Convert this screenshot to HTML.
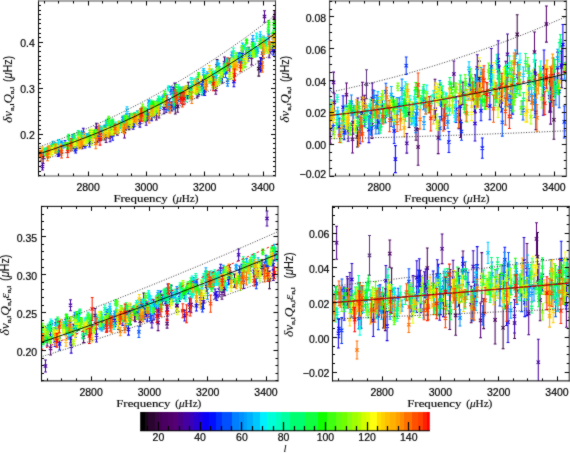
<!DOCTYPE html><html><head><meta charset="utf-8"><style>html,body{margin:0;padding:0;background:#fff;}#r{display:block;}#w{width:570px;height:453px;overflow:hidden;}.e{fill:none;stroke-width:1.05;}.dot{fill:none;stroke:#222;stroke-width:0.9;stroke-dasharray:1 1.6;}.t{font-family:"Liberation Sans",sans-serif;font-size:10.5px;fill:#000;stroke:#000;stroke-width:0.2px;}.s{font-family:"Liberation Serif",serif;fill:#000;}.yt{font-size:12px;stroke:#000;stroke-width:0.05px;}.fq{font-size:11.2px;stroke:#000;stroke-width:0.15px;}</style></head><body>
<div id="w">
<svg id="r" width="570" height="453" viewBox="0 0 570 453">
<defs><filter id="bl" color-interpolation-filters="sRGB" x="0" y="0" width="570" height="453" filterUnits="userSpaceOnUse"><feConvolveMatrix order="3" kernelMatrix="1 2 1 2 20 2 1 2 1" divisor="32" edgeMode="duplicate"/></filter></defs>
<g filter="url(#bl)">
<rect width="570" height="453" fill="#fff"/>
<svg x="38.5" y="1.0" width="237.0" height="175.0" viewBox="38.5 1.0 237.0 175.0" overflow="hidden">
<path class="e" stroke="#2a0530" d="M258.8 61.1V76.1M257.4 61.1h2.8M257.4 76.1h2.8M257.1 66.9l3.4 3.4M257.1 70.3l3.4 -3.4M241.5 53.1V67.7M240.1 53.1h2.8M240.1 67.7h2.8M239.8 58.7l3.4 3.4M239.8 62.1l3.4 -3.4M275.4 46.9V56.6M274.0 46.9h2.8M274.0 56.6h2.8M273.7 50.0l3.4 3.4M273.7 53.4l3.4 -3.4M248.5 47.3V57.9M247.1 47.3h2.8M247.1 57.9h2.8M246.8 50.9l3.4 3.4M246.8 54.3l3.4 -3.4M198.8 83.9V94.5M197.4 83.9h2.8M197.4 94.5h2.8M197.1 87.5l3.4 3.4M197.1 90.9l3.4 -3.4M129.0 121.5V129.7M127.6 121.5h2.8M127.6 129.7h2.8M127.3 123.9l3.4 3.4M127.3 127.3l3.4 -3.4"/>
<path class="e" stroke="#3a0545" d="M229.8 58.8V72.7M228.4 58.8h2.8M228.4 72.7h2.8M228.1 64.0l3.4 3.4M228.1 67.4l3.4 -3.4M188.3 82.2V94.2M186.9 82.2h2.8M186.9 94.2h2.8M186.6 86.5l3.4 3.4M186.6 89.9l3.4 -3.4M217.1 59.4V72.1M215.7 59.4h2.8M215.7 72.1h2.8M215.4 64.1l3.4 3.4M215.4 67.5l3.4 -3.4M154.0 104.6V116.9M152.6 104.6h2.8M152.6 116.9h2.8M152.3 109.0l3.4 3.4M152.3 112.4l3.4 -3.4"/>
<path class="e" stroke="#440055" d="M222.4 68.7V83.0M221.0 68.7h2.8M221.0 83.0h2.8M220.7 74.2l3.4 3.4M220.7 77.6l3.4 -3.4M274.3 10.4V25.4M272.9 10.4h2.8M272.9 25.4h2.8M272.6 16.2l3.4 3.4M272.6 19.6l3.4 -3.4M43.1 151.2V163.4M41.7 151.2h2.8M41.7 163.4h2.8M41.4 155.6l3.4 3.4M41.4 159.0l3.4 -3.4M190.0 87.6V98.0M188.6 87.6h2.8M188.6 98.0h2.8M188.3 91.1l3.4 3.4M188.3 94.5l3.4 -3.4M175.3 99.5V113.9M173.9 99.5h2.8M173.9 113.9h2.8M173.6 105.0l3.4 3.4M173.6 108.4l3.4 -3.4"/>
<path class="e" stroke="#4a0060" d="M262.5 47.8V58.7M261.1 47.8h2.8M261.1 58.7h2.8M260.8 51.5l3.4 3.4M260.8 54.9l3.4 -3.4M147.8 112.0V119.8M146.4 112.0h2.8M146.4 119.8h2.8M146.1 114.2l3.4 3.4M146.1 117.6l3.4 -3.4M274.4 37.7V51.0M273.0 37.7h2.8M273.0 51.0h2.8M272.7 42.7l3.4 3.4M272.7 46.1l3.4 -3.4M177.7 100.6V112.2M176.3 100.6h2.8M176.3 112.2h2.8M176.0 104.7l3.4 3.4M176.0 108.1l3.4 -3.4M272.3 41.6V51.2M270.9 41.6h2.8M270.9 51.2h2.8M270.6 44.7l3.4 3.4M270.6 48.1l3.4 -3.4M131.8 114.4V121.9M130.4 114.4h2.8M130.4 121.9h2.8M130.1 116.5l3.4 3.4M130.1 119.9l3.4 -3.4M100.4 131.6V139.7M99.0 131.6h2.8M99.0 139.7h2.8M98.7 134.0l3.4 3.4M98.7 137.4l3.4 -3.4M171.9 101.8V110.9M170.5 101.8h2.8M170.5 110.9h2.8M170.2 104.7l3.4 3.4M170.2 108.1l3.4 -3.4"/>
<path class="e" stroke="#50006a" d="M112.5 120.9V134.4M111.1 120.9h2.8M111.1 134.4h2.8M110.8 125.9l3.4 3.4M110.8 129.3l3.4 -3.4M106.1 130.5V142.5M104.7 130.5h2.8M104.7 142.5h2.8M104.4 134.8l3.4 3.4M104.4 138.2l3.4 -3.4M134.1 113.4V121.8M132.7 113.4h2.8M132.7 121.8h2.8M132.4 115.9l3.4 3.4M132.4 119.3l3.4 -3.4M251.6 49.4V65.0M250.2 49.4h2.8M250.2 65.0h2.8M249.9 55.5l3.4 3.4M249.9 58.9l3.4 -3.4M224.5 56.9V68.6M223.1 56.9h2.8M223.1 68.6h2.8M222.8 61.0l3.4 3.4M222.8 64.4l3.4 -3.4M106.9 128.1V136.1M105.5 128.1h2.8M105.5 136.1h2.8M105.2 130.4l3.4 3.4M105.2 133.8l3.4 -3.4M197.1 88.4V97.9M195.7 88.4h2.8M195.7 97.9h2.8M195.4 91.5l3.4 3.4M195.4 94.9l3.4 -3.4M158.9 105.5V118.0M157.5 105.5h2.8M157.5 118.0h2.8M157.2 110.1l3.4 3.4M157.2 113.5l3.4 -3.4"/>
<path class="e" stroke="#550075" d="M82.0 137.0V148.6M80.6 137.0h2.8M80.6 148.6h2.8M80.3 141.1l3.4 3.4M80.3 144.5l3.4 -3.4M215.8 84.7V94.3M214.4 84.7h2.8M214.4 94.3h2.8M214.1 87.8l3.4 3.4M214.1 91.2l3.4 -3.4M156.4 108.3V120.0M155.0 108.3h2.8M155.0 120.0h2.8M154.7 112.4l3.4 3.4M154.7 115.8l3.4 -3.4M84.0 137.7V146.5M82.6 137.7h2.8M82.6 146.5h2.8M82.3 140.4l3.4 3.4M82.3 143.8l3.4 -3.4M197.6 79.5V89.4M196.2 79.5h2.8M196.2 89.4h2.8M195.9 82.8l3.4 3.4M195.9 86.2l3.4 -3.4M124.5 125.1V137.9M123.1 125.1h2.8M123.1 137.9h2.8M122.8 129.8l3.4 3.4M122.8 133.2l3.4 -3.4"/>
<path class="e" stroke="#4a0085" d="M261.8 57.9V70.7M260.4 57.9h2.8M260.4 70.7h2.8M260.1 62.6l3.4 3.4M260.1 66.0l3.4 -3.4M97.5 132.0V142.1M96.1 132.0h2.8M96.1 142.1h2.8M95.8 135.4l3.4 3.4M95.8 138.8l3.4 -3.4M195.4 83.8V93.0M194.0 83.8h2.8M194.0 93.0h2.8M193.7 86.7l3.4 3.4M193.7 90.1l3.4 -3.4M129.9 113.5V123.7M128.5 113.5h2.8M128.5 123.7h2.8M128.2 116.9l3.4 3.4M128.2 120.3l3.4 -3.4M96.4 123.3V132.6M95.0 123.3h2.8M95.0 132.6h2.8M94.7 126.3l3.4 3.4M94.7 129.7l3.4 -3.4"/>
<path class="e" stroke="#4400a0" d="M269.2 44.5V57.8M267.8 44.5h2.8M267.8 57.8h2.8M267.5 49.4l3.4 3.4M267.5 52.8l3.4 -3.4M204.8 85.1V95.4M203.4 85.1h2.8M203.4 95.4h2.8M203.1 88.5l3.4 3.4M203.1 91.9l3.4 -3.4M109.5 125.7V138.4M108.1 125.7h2.8M108.1 138.4h2.8M107.8 130.3l3.4 3.4M107.8 133.7l3.4 -3.4M198.0 81.7V96.1M196.6 81.7h2.8M196.6 96.1h2.8M196.3 87.2l3.4 3.4M196.3 90.6l3.4 -3.4M117.5 126.5V135.3M116.1 126.5h2.8M116.1 135.3h2.8M115.8 129.2l3.4 3.4M115.8 132.6l3.4 -3.4M164.0 102.8V113.8M162.6 102.8h2.8M162.6 113.8h2.8M162.3 106.6l3.4 3.4M162.3 110.0l3.4 -3.4"/>
<path class="e" stroke="#3a00b8" d="M203.5 75.0V86.4M202.1 75.0h2.8M202.1 86.4h2.8M201.8 79.0l3.4 3.4M201.8 82.4l3.4 -3.4M146.2 113.5V125.3M144.8 113.5h2.8M144.8 125.3h2.8M144.5 117.7l3.4 3.4M144.5 121.1l3.4 -3.4M99.3 126.0V139.2M97.9 126.0h2.8M97.9 139.2h2.8M97.6 130.9l3.4 3.4M97.6 134.3l3.4 -3.4M174.8 83.1V93.8M173.4 83.1h2.8M173.4 93.8h2.8M173.1 86.8l3.4 3.4M173.1 90.2l3.4 -3.4"/>
<path class="e" stroke="#2800d0" d="M72.6 140.2V148.6M71.2 140.2h2.8M71.2 148.6h2.8M70.9 142.7l3.4 3.4M70.9 146.1l3.4 -3.4M270.1 41.9V53.2M268.7 41.9h2.8M268.7 53.2h2.8M268.4 45.9l3.4 3.4M268.4 49.3l3.4 -3.4M83.3 128.2V138.7M81.9 128.2h2.8M81.9 138.7h2.8M81.6 131.7l3.4 3.4M81.6 135.1l3.4 -3.4M125.5 121.4V129.2M124.1 121.4h2.8M124.1 129.2h2.8M123.8 123.6l3.4 3.4M123.8 127.0l3.4 -3.4M133.2 121.5V129.3M131.8 121.5h2.8M131.8 129.3h2.8M131.5 123.7l3.4 3.4M131.5 127.1l3.4 -3.4M110.1 131.1V141.8M108.7 131.1h2.8M108.7 141.8h2.8M108.4 134.7l3.4 3.4M108.4 138.1l3.4 -3.4M139.9 117.3V127.1M138.5 117.3h2.8M138.5 127.1h2.8M138.2 120.5l3.4 3.4M138.2 123.9l3.4 -3.4"/>
<path class="e" stroke="#1800e8" d="M58.2 150.3V156.4M56.8 150.3h2.8M56.8 156.4h2.8M56.5 151.6l3.4 3.4M56.5 155.0l3.4 -3.4M59.3 144.3V155.6M57.9 144.3h2.8M57.9 155.6h2.8M57.6 148.2l3.4 3.4M57.6 151.6l3.4 -3.4M151.7 109.7V120.8M150.3 109.7h2.8M150.3 120.8h2.8M150.0 113.5l3.4 3.4M150.0 116.9l3.4 -3.4M106.3 127.0V134.8M104.9 127.0h2.8M104.9 134.8h2.8M104.6 129.2l3.4 3.4M104.6 132.6l3.4 -3.4M187.5 90.7V98.7M186.1 90.7h2.8M186.1 98.7h2.8M185.8 93.0l3.4 3.4M185.8 96.4l3.4 -3.4M166.1 104.2V112.3M164.7 104.2h2.8M164.7 112.3h2.8M164.4 106.5l3.4 3.4M164.4 109.9l3.4 -3.4M137.6 110.9V119.5M136.2 110.9h2.8M136.2 119.5h2.8M135.9 113.5l3.4 3.4M135.9 116.9l3.4 -3.4M187.1 85.9V98.7M185.7 85.9h2.8M185.7 98.7h2.8M185.4 90.6l3.4 3.4M185.4 94.0l3.4 -3.4M89.8 132.8V142.0M88.4 132.8h2.8M88.4 142.0h2.8M88.1 135.7l3.4 3.4M88.1 139.1l3.4 -3.4M173.1 87.3V97.8M171.7 87.3h2.8M171.7 97.8h2.8M171.4 90.8l3.4 3.4M171.4 94.2l3.4 -3.4"/>
<path class="e" stroke="#0a00f5" d="M260.5 57.6V71.9M259.1 57.6h2.8M259.1 71.9h2.8M258.8 63.0l3.4 3.4M258.8 66.4l3.4 -3.4M104.6 132.5V139.9M103.2 132.5h2.8M103.2 139.9h2.8M102.9 134.5l3.4 3.4M102.9 137.9l3.4 -3.4M233.9 76.0V86.7M232.5 76.0h2.8M232.5 86.7h2.8M232.2 79.7l3.4 3.4M232.2 83.1l3.4 -3.4M147.3 108.9V119.6M145.9 108.9h2.8M145.9 119.6h2.8M145.6 112.6l3.4 3.4M145.6 116.0l3.4 -3.4M197.1 83.2V91.6M195.7 83.2h2.8M195.7 91.6h2.8M195.4 85.7l3.4 3.4M195.4 89.1l3.4 -3.4M75.7 145.7V153.0M74.3 145.7h2.8M74.3 153.0h2.8M74.0 147.6l3.4 3.4M74.0 151.0l3.4 -3.4"/>
<path class="e" stroke="#0010ff" d="M169.3 99.8V107.5M167.9 99.8h2.8M167.9 107.5h2.8M167.6 101.9l3.4 3.4M167.6 105.3l3.4 -3.4M248.4 51.9V60.9M247.0 51.9h2.8M247.0 60.9h2.8M246.7 54.7l3.4 3.4M246.7 58.1l3.4 -3.4M89.6 138.1V146.9M88.2 138.1h2.8M88.2 146.9h2.8M87.9 140.8l3.4 3.4M87.9 144.2l3.4 -3.4M112.1 121.3V132.4M110.7 121.3h2.8M110.7 132.4h2.8M110.4 125.1l3.4 3.4M110.4 128.5l3.4 -3.4M56.7 146.9V152.9M55.3 146.9h2.8M55.3 152.9h2.8M55.0 148.2l3.4 3.4M55.0 151.6l3.4 -3.4M100.8 126.7V134.1M99.4 126.7h2.8M99.4 134.1h2.8M99.1 128.7l3.4 3.4M99.1 132.1l3.4 -3.4M242.4 46.4V58.0M241.0 46.4h2.8M241.0 58.0h2.8M240.7 50.5l3.4 3.4M240.7 53.9l3.4 -3.4M79.2 137.4V147.9M77.8 137.4h2.8M77.8 147.9h2.8M77.5 140.9l3.4 3.4M77.5 144.3l3.4 -3.4M107.4 125.5V135.3M106.0 125.5h2.8M106.0 135.3h2.8M105.7 128.7l3.4 3.4M105.7 132.1l3.4 -3.4M214.8 73.5V81.8M213.4 73.5h2.8M213.4 81.8h2.8M213.1 75.9l3.4 3.4M213.1 79.3l3.4 -3.4M273.4 43.0V51.6M272.0 43.0h2.8M272.0 51.6h2.8M271.7 45.6l3.4 3.4M271.7 49.0l3.4 -3.4M226.7 65.1V72.9M225.3 65.1h2.8M225.3 72.9h2.8M225.0 67.3l3.4 3.4M225.0 70.7l3.4 -3.4M85.0 141.8V148.0M83.6 141.8h2.8M83.6 148.0h2.8M83.3 143.2l3.4 3.4M83.3 146.6l3.4 -3.4M226.4 61.2V70.7M225.0 61.2h2.8M225.0 70.7h2.8M224.7 64.2l3.4 3.4M224.7 67.6l3.4 -3.4M203.7 87.9V95.2M202.3 87.9h2.8M202.3 95.2h2.8M202.0 89.8l3.4 3.4M202.0 93.2l3.4 -3.4M273.3 46.0V55.0M271.9 46.0h2.8M271.9 55.0h2.8M271.6 48.8l3.4 3.4M271.6 52.2l3.4 -3.4M112.7 129.6V140.3M111.3 129.6h2.8M111.3 140.3h2.8M111.0 133.2l3.4 3.4M111.0 136.6l3.4 -3.4M202.1 81.1V90.0M200.7 81.1h2.8M200.7 90.0h2.8M200.4 83.9l3.4 3.4M200.4 87.3l3.4 -3.4"/>
<path class="e" stroke="#0030ff" d="M144.1 110.9V121.0M142.7 110.9h2.8M142.7 121.0h2.8M142.4 114.2l3.4 3.4M142.4 117.6l3.4 -3.4M209.9 72.9V81.8M208.5 72.9h2.8M208.5 81.8h2.8M208.2 75.7l3.4 3.4M208.2 79.1l3.4 -3.4M277.5 36.8V45.5M276.1 36.8h2.8M276.1 45.5h2.8M275.8 39.5l3.4 3.4M275.8 42.9l3.4 -3.4M37.3 152.5V161.0M35.9 152.5h2.8M35.9 161.0h2.8M35.6 155.1l3.4 3.4M35.6 158.5l3.4 -3.4M133.5 120.9V127.0M132.1 120.9h2.8M132.1 127.0h2.8M131.8 122.3l3.4 3.4M131.8 125.7l3.4 -3.4M65.0 140.5V146.9M63.6 140.5h2.8M63.6 146.9h2.8M63.3 142.0l3.4 3.4M63.3 145.4l3.4 -3.4M74.9 141.7V151.2M73.5 141.7h2.8M73.5 151.2h2.8M73.2 144.7l3.4 3.4M73.2 148.1l3.4 -3.4M192.0 82.3V91.6M190.6 82.3h2.8M190.6 91.6h2.8M190.3 85.2l3.4 3.4M190.3 88.6l3.4 -3.4M144.3 113.7V120.1M142.9 113.7h2.8M142.9 120.1h2.8M142.6 115.2l3.4 3.4M142.6 118.6l3.4 -3.4M104.6 125.2V132.4M103.2 125.2h2.8M103.2 132.4h2.8M102.9 127.1l3.4 3.4M102.9 130.5l3.4 -3.4"/>
<path class="e" stroke="#0050ff" d="M147.5 112.6V118.6M146.1 112.6h2.8M146.1 118.6h2.8M145.8 113.9l3.4 3.4M145.8 117.3l3.4 -3.4M101.1 133.7V139.9M99.7 133.7h2.8M99.7 139.9h2.8M99.4 135.1l3.4 3.4M99.4 138.5l3.4 -3.4M225.5 67.9V77.4M224.1 67.9h2.8M224.1 77.4h2.8M223.8 70.9l3.4 3.4M223.8 74.3l3.4 -3.4M184.2 92.9V98.7M182.8 92.9h2.8M182.8 98.7h2.8M182.5 94.1l3.4 3.4M182.5 97.5l3.4 -3.4M182.3 95.6V104.0M180.9 95.6h2.8M180.9 104.0h2.8M180.6 98.1l3.4 3.4M180.6 101.5l3.4 -3.4M97.3 131.0V140.3M95.9 131.0h2.8M95.9 140.3h2.8M95.6 133.9l3.4 3.4M95.6 137.3l3.4 -3.4M239.9 52.4V63.0M238.5 52.4h2.8M238.5 63.0h2.8M238.2 56.0l3.4 3.4M238.2 59.4l3.4 -3.4M238.8 53.2V62.3M237.4 53.2h2.8M237.4 62.3h2.8M237.1 56.0l3.4 3.4M237.1 59.4l3.4 -3.4M170.9 86.7V94.8M169.5 86.7h2.8M169.5 94.8h2.8M169.2 89.0l3.4 3.4M169.2 92.4l3.4 -3.4M202.3 81.6V88.8M200.9 81.6h2.8M200.9 88.8h2.8M200.6 83.5l3.4 3.4M200.6 86.9l3.4 -3.4M124.8 117.0V123.4M123.4 117.0h2.8M123.4 123.4h2.8M123.1 118.5l3.4 3.4M123.1 121.9l3.4 -3.4M275.3 32.1V38.6M273.9 32.1h2.8M273.9 38.6h2.8M273.6 33.7l3.4 3.4M273.6 37.1l3.4 -3.4"/>
<path class="e" stroke="#0080ff" d="M126.1 116.8V122.7M124.7 116.8h2.8M124.7 122.7h2.8M124.4 118.0l3.4 3.4M124.4 121.4l3.4 -3.4M227.6 78.6V86.1M226.2 78.6h2.8M226.2 86.1h2.8M225.9 80.6l3.4 3.4M225.9 84.0l3.4 -3.4M178.9 95.5V101.4M177.5 95.5h2.8M177.5 101.4h2.8M177.2 96.7l3.4 3.4M177.2 100.1l3.4 -3.4M225.6 62.1V68.4M224.2 62.1h2.8M224.2 68.4h2.8M223.9 63.6l3.4 3.4M223.9 67.0l3.4 -3.4M157.5 100.8V106.8M156.1 100.8h2.8M156.1 106.8h2.8M155.8 102.1l3.4 3.4M155.8 105.5l3.4 -3.4M123.3 119.8V127.5M121.9 119.8h2.8M121.9 127.5h2.8M121.6 121.9l3.4 3.4M121.6 125.3l3.4 -3.4M257.2 47.5V52.9M255.8 47.5h2.8M255.8 52.9h2.8M255.5 48.5l3.4 3.4M255.5 51.9l3.4 -3.4M168.6 103.6V109.4M167.2 103.6h2.8M167.2 109.4h2.8M166.9 104.8l3.4 3.4M166.9 108.2l3.4 -3.4M144.8 108.3V115.7M143.4 108.3h2.8M143.4 115.7h2.8M143.1 110.3l3.4 3.4M143.1 113.7l3.4 -3.4M61.5 141.1V146.8M60.1 141.1h2.8M60.1 146.8h2.8M59.8 142.2l3.4 3.4M59.8 145.6l3.4 -3.4M130.3 113.8V120.7M128.9 113.8h2.8M128.9 120.7h2.8M128.6 115.5l3.4 3.4M128.6 118.9l3.4 -3.4"/>
<path class="e" stroke="#0090ff" d="M268.7 30.0V40.0M267.3 30.0h2.8M267.3 40.0h2.8M267.0 33.3l3.4 3.4M267.0 36.7l3.4 -3.4M173.8 103.0V109.7M172.4 103.0h2.8M172.4 109.7h2.8M172.1 104.6l3.4 3.4M172.1 108.0l3.4 -3.4M205.7 80.3V88.0M204.3 80.3h2.8M204.3 88.0h2.8M204.0 82.5l3.4 3.4M204.0 85.9l3.4 -3.4M153.0 108.0V117.0M151.6 108.0h2.8M151.6 117.0h2.8M151.3 110.8l3.4 3.4M151.3 114.2l3.4 -3.4M231.8 52.0V60.4M230.4 52.0h2.8M230.4 60.4h2.8M230.1 54.5l3.4 3.4M230.1 57.9l3.4 -3.4M122.8 116.1V121.2M121.4 116.1h2.8M121.4 121.2h2.8M121.1 117.0l3.4 3.4M121.1 120.4l3.4 -3.4M82.5 133.9V141.1M81.1 133.9h2.8M81.1 141.1h2.8M80.8 135.8l3.4 3.4M80.8 139.2l3.4 -3.4M149.1 101.3V106.8M147.7 101.3h2.8M147.7 106.8h2.8M147.4 102.4l3.4 3.4M147.4 105.8l3.4 -3.4M252.8 35.4V45.2M251.4 35.4h2.8M251.4 45.2h2.8M251.1 38.6l3.4 3.4M251.1 42.0l3.4 -3.4M241.9 59.7V65.6M240.5 59.7h2.8M240.5 65.6h2.8M240.2 61.0l3.4 3.4M240.2 64.4l3.4 -3.4M148.9 100.1V108.6M147.5 100.1h2.8M147.5 108.6h2.8M147.2 102.7l3.4 3.4M147.2 106.1l3.4 -3.4M273.2 33.4V42.0M271.8 33.4h2.8M271.8 42.0h2.8M271.5 36.0l3.4 3.4M271.5 39.4l3.4 -3.4M163.1 94.9V101.0M161.7 94.9h2.8M161.7 101.0h2.8M161.4 96.3l3.4 3.4M161.4 99.7l3.4 -3.4M246.7 47.4V55.0M245.3 47.4h2.8M245.3 55.0h2.8M245.0 49.5l3.4 3.4M245.0 52.9l3.4 -3.4"/>
<path class="e" stroke="#00a0ff" d="M248.6 47.9V53.2M247.2 47.9h2.8M247.2 53.2h2.8M246.9 48.9l3.4 3.4M246.9 52.3l3.4 -3.4M207.3 71.7V77.6M205.9 71.7h2.8M205.9 77.6h2.8M205.6 73.0l3.4 3.4M205.6 76.4l3.4 -3.4M128.5 116.8V122.2M127.1 116.8h2.8M127.1 122.2h2.8M126.8 117.8l3.4 3.4M126.8 121.2l3.4 -3.4M126.7 113.4V118.1M125.3 113.4h2.8M125.3 118.1h2.8M125.0 114.0l3.4 3.4M125.0 117.4l3.4 -3.4M277.3 27.3V34.3M275.9 27.3h2.8M275.9 34.3h2.8M275.6 29.1l3.4 3.4M275.6 32.5l3.4 -3.4M184.9 88.0V96.7M183.5 88.0h2.8M183.5 96.7h2.8M183.2 90.6l3.4 3.4M183.2 94.0l3.4 -3.4M193.6 79.3V88.0M192.2 79.3h2.8M192.2 88.0h2.8M191.9 81.9l3.4 3.4M191.9 85.3l3.4 -3.4"/>
<path class="e" stroke="#00b0ff" d="M221.0 76.5V82.0M219.6 76.5h2.8M219.6 82.0h2.8M219.3 77.6l3.4 3.4M219.3 81.0l3.4 -3.4M127.0 118.0V126.3M125.6 118.0h2.8M125.6 126.3h2.8M125.3 120.5l3.4 3.4M125.3 123.9l3.4 -3.4M72.6 134.4V141.1M71.2 134.4h2.8M71.2 141.1h2.8M70.9 136.1l3.4 3.4M70.9 139.5l3.4 -3.4M87.8 134.1V138.4M86.4 134.1h2.8M86.4 138.4h2.8M86.1 134.5l3.4 3.4M86.1 137.9l3.4 -3.4M83.0 134.9V140.9M81.6 134.9h2.8M81.6 140.9h2.8M81.3 136.2l3.4 3.4M81.3 139.6l3.4 -3.4M168.0 103.6V110.4M166.6 103.6h2.8M166.6 110.4h2.8M166.3 105.3l3.4 3.4M166.3 108.7l3.4 -3.4M246.8 51.1V56.3M245.4 51.1h2.8M245.4 56.3h2.8M245.1 52.0l3.4 3.4M245.1 55.4l3.4 -3.4M152.4 108.3V116.4M151.0 108.3h2.8M151.0 116.4h2.8M150.7 110.7l3.4 3.4M150.7 114.1l3.4 -3.4M106.8 124.6V130.3M105.4 124.6h2.8M105.4 130.3h2.8M105.1 125.7l3.4 3.4M105.1 129.1l3.4 -3.4M263.5 35.9V41.0M262.1 35.9h2.8M262.1 41.0h2.8M261.8 36.8l3.4 3.4M261.8 40.2l3.4 -3.4M239.7 53.9V59.4M238.3 53.9h2.8M238.3 59.4h2.8M238.0 54.9l3.4 3.4M238.0 58.3l3.4 -3.4M197.2 87.5V94.8M195.8 87.5h2.8M195.8 94.8h2.8M195.5 89.4l3.4 3.4M195.5 92.8l3.4 -3.4M167.2 94.8V103.0M165.8 94.8h2.8M165.8 103.0h2.8M165.5 97.2l3.4 3.4M165.5 100.6l3.4 -3.4M217.6 60.7V67.2M216.2 60.7h2.8M216.2 67.2h2.8M215.9 62.3l3.4 3.4M215.9 65.7l3.4 -3.4M120.0 123.0V128.4M118.6 123.0h2.8M118.6 128.4h2.8M118.3 124.0l3.4 3.4M118.3 127.4l3.4 -3.4M91.6 130.5V137.1M90.2 130.5h2.8M90.2 137.1h2.8M89.9 132.1l3.4 3.4M89.9 135.5l3.4 -3.4M226.8 58.5V63.6M225.4 58.5h2.8M225.4 63.6h2.8M225.1 59.3l3.4 3.4M225.1 62.7l3.4 -3.4"/>
<path class="e" stroke="#00c8ff" d="M86.5 133.6V140.8M85.1 133.6h2.8M85.1 140.8h2.8M84.8 135.5l3.4 3.4M84.8 138.9l3.4 -3.4M92.2 134.6V138.7M90.8 134.6h2.8M90.8 138.7h2.8M90.5 135.0l3.4 3.4M90.5 138.4l3.4 -3.4M215.9 72.2V80.8M214.5 72.2h2.8M214.5 80.8h2.8M214.2 74.8l3.4 3.4M214.2 78.2l3.4 -3.4M63.1 142.5V148.2M61.7 142.5h2.8M61.7 148.2h2.8M61.4 143.7l3.4 3.4M61.4 147.1l3.4 -3.4M106.4 119.9V126.0M105.0 119.9h2.8M105.0 126.0h2.8M104.7 121.3l3.4 3.4M104.7 124.7l3.4 -3.4M173.8 95.3V100.9M172.4 95.3h2.8M172.4 100.9h2.8M172.1 96.4l3.4 3.4M172.1 99.8l3.4 -3.4M127.0 106.7V113.7M125.6 106.7h2.8M125.6 113.7h2.8M125.3 108.5l3.4 3.4M125.3 111.9l3.4 -3.4M73.8 136.2V141.0M72.4 136.2h2.8M72.4 141.0h2.8M72.1 136.9l3.4 3.4M72.1 140.3l3.4 -3.4M219.1 63.6V72.3M217.7 63.6h2.8M217.7 72.3h2.8M217.4 66.2l3.4 3.4M217.4 69.6l3.4 -3.4M216.2 70.2V78.2M214.8 70.2h2.8M214.8 78.2h2.8M214.5 72.5l3.4 3.4M214.5 75.9l3.4 -3.4M180.0 88.5V96.3M178.6 88.5h2.8M178.6 96.3h2.8M178.3 90.7l3.4 3.4M178.3 94.1l3.4 -3.4M182.1 87.8V94.9M180.7 87.8h2.8M180.7 94.9h2.8M180.4 89.7l3.4 3.4M180.4 93.1l3.4 -3.4M257.0 47.6V56.1M255.6 47.6h2.8M255.6 56.1h2.8M255.3 50.2l3.4 3.4M255.3 53.6l3.4 -3.4M263.8 46.5V53.8M262.4 46.5h2.8M262.4 53.8h2.8M262.1 48.5l3.4 3.4M262.1 51.9l3.4 -3.4M81.6 131.3V137.3M80.2 131.3h2.8M80.2 137.3h2.8M79.9 132.6l3.4 3.4M79.9 136.0l3.4 -3.4M160.6 101.2V108.8M159.2 101.2h2.8M159.2 108.8h2.8M158.9 103.3l3.4 3.4M158.9 106.7l3.4 -3.4M203.6 68.6V74.4M202.2 68.6h2.8M202.2 74.4h2.8M201.9 69.8l3.4 3.4M201.9 73.2l3.4 -3.4M242.5 43.1V51.8M241.1 43.1h2.8M241.1 51.8h2.8M240.8 45.8l3.4 3.4M240.8 49.2l3.4 -3.4M261.1 38.4V44.5M259.7 38.4h2.8M259.7 44.5h2.8M259.4 39.7l3.4 3.4M259.4 43.1l3.4 -3.4M51.3 144.8V151.0M49.9 144.8h2.8M49.9 151.0h2.8M49.6 146.2l3.4 3.4M49.6 149.6l3.4 -3.4M55.1 142.6V146.4M53.7 142.6h2.8M53.7 146.4h2.8M53.4 142.8l3.4 3.4M53.4 146.2l3.4 -3.4M36.7 149.4V153.7M35.3 149.4h2.8M35.3 153.7h2.8M35.0 149.8l3.4 3.4M35.0 153.2l3.4 -3.4M52.8 141.3V148.2M51.4 141.3h2.8M51.4 148.2h2.8M51.1 143.0l3.4 3.4M51.1 146.4l3.4 -3.4M226.9 57.9V63.1M225.5 57.9h2.8M225.5 63.1h2.8M225.2 58.8l3.4 3.4M225.2 62.2l3.4 -3.4M55.0 144.5V151.0M53.6 144.5h2.8M53.6 151.0h2.8M53.3 146.1l3.4 3.4M53.3 149.5l3.4 -3.4M260.3 31.8V39.6M258.9 31.8h2.8M258.9 39.6h2.8M258.6 34.0l3.4 3.4M258.6 37.4l3.4 -3.4M182.8 86.7V91.7M181.4 86.7h2.8M181.4 91.7h2.8M181.1 87.5l3.4 3.4M181.1 90.9l3.4 -3.4"/>
<path class="e" stroke="#00f0ff" d="M100.3 126.0V129.9M98.9 126.0h2.8M98.9 129.9h2.8M98.6 126.2l3.4 3.4M98.6 129.6l3.4 -3.4M178.0 87.7V95.4M176.6 87.7h2.8M176.6 95.4h2.8M176.3 89.9l3.4 3.4M176.3 93.3l3.4 -3.4M250.4 50.0V56.6M249.0 50.0h2.8M249.0 56.6h2.8M248.7 51.6l3.4 3.4M248.7 55.0l3.4 -3.4M37.8 150.8V155.7M36.4 150.8h2.8M36.4 155.7h2.8M36.1 151.5l3.4 3.4M36.1 154.9l3.4 -3.4M159.4 98.0V105.2M158.0 98.0h2.8M158.0 105.2h2.8M157.7 99.9l3.4 3.4M157.7 103.3l3.4 -3.4M58.6 139.4V144.2M57.2 139.4h2.8M57.2 144.2h2.8M56.9 140.1l3.4 3.4M56.9 143.5l3.4 -3.4M114.6 124.2V128.4M113.2 124.2h2.8M113.2 128.4h2.8M112.9 124.6l3.4 3.4M112.9 128.0l3.4 -3.4M275.6 24.8V30.8M274.2 24.8h2.8M274.2 30.8h2.8M273.9 26.1l3.4 3.4M273.9 29.5l3.4 -3.4M141.9 112.2V116.1M140.5 112.2h2.8M140.5 116.1h2.8M140.2 112.4l3.4 3.4M140.2 115.8l3.4 -3.4M196.8 80.3V86.8M195.4 80.3h2.8M195.4 86.8h2.8M195.1 81.9l3.4 3.4M195.1 85.3l3.4 -3.4M83.0 135.1V139.6M81.6 135.1h2.8M81.6 139.6h2.8M81.3 135.7l3.4 3.4M81.3 139.1l3.4 -3.4M205.4 74.8V82.6M204.0 74.8h2.8M204.0 82.6h2.8M203.7 77.0l3.4 3.4M203.7 80.4l3.4 -3.4M126.8 115.4V121.6M125.4 115.4h2.8M125.4 121.6h2.8M125.1 116.8l3.4 3.4M125.1 120.2l3.4 -3.4"/>
<path class="e" stroke="#00ffd8" d="M115.7 121.9V128.2M114.3 121.9h2.8M114.3 128.2h2.8M114.0 123.4l3.4 3.4M114.0 126.8l3.4 -3.4M266.3 37.6V43.2M264.9 37.6h2.8M264.9 43.2h2.8M264.6 38.7l3.4 3.4M264.6 42.1l3.4 -3.4M229.2 61.9V67.7M227.8 61.9h2.8M227.8 67.7h2.8M227.5 63.1l3.4 3.4M227.5 66.5l3.4 -3.4M266.7 44.8V50.4M265.3 44.8h2.8M265.3 50.4h2.8M265.0 45.9l3.4 3.4M265.0 49.3l3.4 -3.4M160.6 96.9V103.8M159.2 96.9h2.8M159.2 103.8h2.8M158.9 98.7l3.4 3.4M158.9 102.1l3.4 -3.4M87.6 136.5V141.4M86.2 136.5h2.8M86.2 141.4h2.8M85.9 137.3l3.4 3.4M85.9 140.7l3.4 -3.4M120.4 121.7V127.1M119.0 121.7h2.8M119.0 127.1h2.8M118.7 122.7l3.4 3.4M118.7 126.1l3.4 -3.4M153.2 107.3V112.2M151.8 107.3h2.8M151.8 112.2h2.8M151.5 108.1l3.4 3.4M151.5 111.5l3.4 -3.4M191.3 77.5V82.8M189.9 77.5h2.8M189.9 82.8h2.8M189.6 78.4l3.4 3.4M189.6 81.8l3.4 -3.4M192.0 82.0V86.7M190.6 82.0h2.8M190.6 86.7h2.8M190.3 82.7l3.4 3.4M190.3 86.1l3.4 -3.4M195.0 78.8V83.1M193.6 78.8h2.8M193.6 83.1h2.8M193.3 79.2l3.4 3.4M193.3 82.6l3.4 -3.4M209.7 71.1V78.5M208.3 71.1h2.8M208.3 78.5h2.8M208.0 73.1l3.4 3.4M208.0 76.5l3.4 -3.4M142.8 106.4V113.4M141.4 106.4h2.8M141.4 113.4h2.8M141.1 108.2l3.4 3.4M141.1 111.6l3.4 -3.4M156.1 105.9V113.1M154.7 105.9h2.8M154.7 113.1h2.8M154.4 107.8l3.4 3.4M154.4 111.2l3.4 -3.4M156.7 103.4V108.2M155.3 103.4h2.8M155.3 108.2h2.8M155.0 104.1l3.4 3.4M155.0 107.5l3.4 -3.4M36.0 152.3V157.4M34.6 152.3h2.8M34.6 157.4h2.8M34.3 153.1l3.4 3.4M34.3 156.5l3.4 -3.4M168.6 85.8V90.9M167.2 85.8h2.8M167.2 90.9h2.8M166.9 86.7l3.4 3.4M166.9 90.1l3.4 -3.4M256.6 33.1V41.3M255.2 33.1h2.8M255.2 41.3h2.8M254.9 35.5l3.4 3.4M254.9 38.9l3.4 -3.4M223.6 67.3V72.6M222.2 67.3h2.8M222.2 72.6h2.8M221.9 68.2l3.4 3.4M221.9 71.6l3.4 -3.4M231.1 59.6V67.3M229.7 59.6h2.8M229.7 67.3h2.8M229.4 61.8l3.4 3.4M229.4 65.2l3.4 -3.4M133.2 113.5V117.6M131.8 113.5h2.8M131.8 117.6h2.8M131.5 113.8l3.4 3.4M131.5 117.2l3.4 -3.4M197.0 77.0V82.2M195.6 77.0h2.8M195.6 82.2h2.8M195.3 77.9l3.4 3.4M195.3 81.3l3.4 -3.4M214.6 71.1V78.4M213.2 71.1h2.8M213.2 78.4h2.8M212.9 73.1l3.4 3.4M212.9 76.5l3.4 -3.4M178.6 84.8V91.9M177.2 84.8h2.8M177.2 91.9h2.8M176.9 86.6l3.4 3.4M176.9 90.0l3.4 -3.4"/>
<path class="e" stroke="#00ffc0" d="M202.0 87.2V94.7M200.6 87.2h2.8M200.6 94.7h2.8M200.3 89.3l3.4 3.4M200.3 92.7l3.4 -3.4M137.8 110.9V115.5M136.4 110.9h2.8M136.4 115.5h2.8M136.1 111.5l3.4 3.4M136.1 114.9l3.4 -3.4M49.1 149.2V154.3M47.7 149.2h2.8M47.7 154.3h2.8M47.4 150.0l3.4 3.4M47.4 153.4l3.4 -3.4M254.7 43.1V47.6M253.3 43.1h2.8M253.3 47.6h2.8M253.0 43.6l3.4 3.4M253.0 47.0l3.4 -3.4M71.6 140.2V146.3M70.2 140.2h2.8M70.2 146.3h2.8M69.9 141.5l3.4 3.4M69.9 144.9l3.4 -3.4M149.4 103.5V108.5M148.0 103.5h2.8M148.0 108.5h2.8M147.7 104.3l3.4 3.4M147.7 107.7l3.4 -3.4M233.9 55.5V60.0M232.5 55.5h2.8M232.5 60.0h2.8M232.2 56.1l3.4 3.4M232.2 59.5l3.4 -3.4M125.5 119.3V126.4M124.1 119.3h2.8M124.1 126.4h2.8M123.8 121.1l3.4 3.4M123.8 124.5l3.4 -3.4M55.5 149.1V153.1M54.1 149.1h2.8M54.1 153.1h2.8M53.8 149.4l3.4 3.4M53.8 152.8l3.4 -3.4"/>
<path class="e" stroke="#00ffa0" d="M151.2 101.6V108.7M149.8 101.6h2.8M149.8 108.7h2.8M149.5 103.5l3.4 3.4M149.5 106.9l3.4 -3.4M69.4 140.4V147.0M68.0 140.4h2.8M68.0 147.0h2.8M67.7 142.0l3.4 3.4M67.7 145.4l3.4 -3.4M173.0 91.9V99.0M171.6 91.9h2.8M171.6 99.0h2.8M171.3 93.8l3.4 3.4M171.3 97.2l3.4 -3.4M158.5 96.1V103.4M157.1 96.1h2.8M157.1 103.4h2.8M156.8 98.1l3.4 3.4M156.8 101.5l3.4 -3.4M236.6 52.6V59.9M235.2 52.6h2.8M235.2 59.9h2.8M234.9 54.5l3.4 3.4M234.9 57.9l3.4 -3.4M244.7 44.4V49.1M243.3 44.4h2.8M243.3 49.1h2.8M243.0 45.1l3.4 3.4M243.0 48.5l3.4 -3.4M43.5 148.2V151.6M42.1 148.2h2.8M42.1 151.6h2.8M41.8 148.2l3.4 3.4M41.8 151.6l3.4 -3.4M152.0 103.8V111.0M150.6 103.8h2.8M150.6 111.0h2.8M150.3 105.7l3.4 3.4M150.3 109.1l3.4 -3.4M56.2 143.3V147.9M54.8 143.3h2.8M54.8 147.9h2.8M54.5 143.9l3.4 3.4M54.5 147.3l3.4 -3.4M36.9 149.4V155.7M35.5 149.4h2.8M35.5 155.7h2.8M35.2 150.9l3.4 3.4M35.2 154.3l3.4 -3.4M93.9 130.6V135.1M92.5 130.6h2.8M92.5 135.1h2.8M92.2 131.2l3.4 3.4M92.2 134.6l3.4 -3.4M185.7 93.9V101.7M184.3 93.9h2.8M184.3 101.7h2.8M184.0 96.1l3.4 3.4M184.0 99.5l3.4 -3.4M211.7 71.5V79.0M210.3 71.5h2.8M210.3 79.0h2.8M210.0 73.6l3.4 3.4M210.0 77.0l3.4 -3.4M264.7 39.9V46.5M263.3 39.9h2.8M263.3 46.5h2.8M263.0 41.5l3.4 3.4M263.0 44.9l3.4 -3.4M233.4 48.0V56.1M232.0 48.0h2.8M232.0 56.1h2.8M231.7 50.4l3.4 3.4M231.7 53.8l3.4 -3.4M45.9 147.7V153.6M44.5 147.7h2.8M44.5 153.6h2.8M44.2 148.9l3.4 3.4M44.2 152.3l3.4 -3.4M180.1 90.3V97.2M178.7 90.3h2.8M178.7 97.2h2.8M178.4 92.1l3.4 3.4M178.4 95.5l3.4 -3.4M113.0 121.9V128.9M111.6 121.9h2.8M111.6 128.9h2.8M111.3 123.7l3.4 3.4M111.3 127.1l3.4 -3.4M151.0 100.0V107.4M149.6 100.0h2.8M149.6 107.4h2.8M149.3 102.0l3.4 3.4M149.3 105.4l3.4 -3.4"/>
<path class="e" stroke="#00ff70" d="M91.5 130.5V135.8M90.1 130.5h2.8M90.1 135.8h2.8M89.8 131.5l3.4 3.4M89.8 134.9l3.4 -3.4M78.2 130.6V137.2M76.8 130.6h2.8M76.8 137.2h2.8M76.5 132.2l3.4 3.4M76.5 135.6l3.4 -3.4M119.2 123.3V130.2M117.8 123.3h2.8M117.8 130.2h2.8M117.5 125.0l3.4 3.4M117.5 128.4l3.4 -3.4M241.0 54.5V60.0M239.6 54.5h2.8M239.6 60.0h2.8M239.3 55.6l3.4 3.4M239.3 59.0l3.4 -3.4M103.7 126.1V132.3M102.3 126.1h2.8M102.3 132.3h2.8M102.0 127.5l3.4 3.4M102.0 130.9l3.4 -3.4M77.9 138.7V144.9M76.5 138.7h2.8M76.5 144.9h2.8M76.2 140.1l3.4 3.4M76.2 143.5l3.4 -3.4M180.7 91.5V98.5M179.3 91.5h2.8M179.3 98.5h2.8M179.0 93.3l3.4 3.4M179.0 96.7l3.4 -3.4M39.7 150.4V155.1M38.3 150.4h2.8M38.3 155.1h2.8M38.0 151.0l3.4 3.4M38.0 154.4l3.4 -3.4M145.1 108.4V115.5M143.7 108.4h2.8M143.7 115.5h2.8M143.4 110.2l3.4 3.4M143.4 113.6l3.4 -3.4M224.1 66.0V71.6M222.7 66.0h2.8M222.7 71.6h2.8M222.4 67.1l3.4 3.4M222.4 70.5l3.4 -3.4M134.8 113.9V120.6M133.4 113.9h2.8M133.4 120.6h2.8M133.1 115.6l3.4 3.4M133.1 119.0l3.4 -3.4M68.9 142.2V146.0M67.5 142.2h2.8M67.5 146.0h2.8M67.2 142.4l3.4 3.4M67.2 145.8l3.4 -3.4M209.7 76.9V83.3M208.3 76.9h2.8M208.3 83.3h2.8M208.0 78.4l3.4 3.4M208.0 81.8l3.4 -3.4M190.2 85.8V90.8M188.8 85.8h2.8M188.8 90.8h2.8M188.5 86.6l3.4 3.4M188.5 90.0l3.4 -3.4M158.4 98.5V102.4M157.0 98.5h2.8M157.0 102.4h2.8M156.7 98.7l3.4 3.4M156.7 102.1l3.4 -3.4M255.1 46.6V54.0M253.7 46.6h2.8M253.7 54.0h2.8M253.4 48.6l3.4 3.4M253.4 52.0l3.4 -3.4M111.3 119.9V124.4M109.9 119.9h2.8M109.9 124.4h2.8M109.6 120.4l3.4 3.4M109.6 123.8l3.4 -3.4M155.4 101.3V107.4M154.0 101.3h2.8M154.0 107.4h2.8M153.7 102.6l3.4 3.4M153.7 106.0l3.4 -3.4M75.3 139.6V144.4M73.9 139.6h2.8M73.9 144.4h2.8M73.6 140.3l3.4 3.4M73.6 143.7l3.4 -3.4M222.3 69.2V75.7M220.9 69.2h2.8M220.9 75.7h2.8M220.6 70.8l3.4 3.4M220.6 74.2l3.4 -3.4M36.1 153.4V159.8M34.7 153.4h2.8M34.7 159.8h2.8M34.4 154.9l3.4 3.4M34.4 158.3l3.4 -3.4M112.1 124.2V128.7M110.7 124.2h2.8M110.7 128.7h2.8M110.4 124.8l3.4 3.4M110.4 128.2l3.4 -3.4M140.6 108.6V115.3M139.2 108.6h2.8M139.2 115.3h2.8M138.9 110.2l3.4 3.4M138.9 113.6l3.4 -3.4M134.6 112.6V118.0M133.2 112.6h2.8M133.2 118.0h2.8M132.9 113.6l3.4 3.4M132.9 117.0l3.4 -3.4M57.2 147.2V152.8M55.8 147.2h2.8M55.8 152.8h2.8M55.5 148.3l3.4 3.4M55.5 151.7l3.4 -3.4M151.4 103.3V107.8M150.0 103.3h2.8M150.0 107.8h2.8M149.7 103.9l3.4 3.4M149.7 107.3l3.4 -3.4M226.6 59.9V67.6M225.2 59.9h2.8M225.2 67.6h2.8M224.9 62.1l3.4 3.4M224.9 65.5l3.4 -3.4M179.5 86.8V90.8M178.1 86.8h2.8M178.1 90.8h2.8M177.8 87.1l3.4 3.4M177.8 90.5l3.4 -3.4"/>
<path class="e" stroke="#10ff40" d="M157.7 103.4V108.9M156.3 103.4h2.8M156.3 108.9h2.8M156.0 104.5l3.4 3.4M156.0 107.9l3.4 -3.4M217.9 66.2V73.2M216.5 66.2h2.8M216.5 73.2h2.8M216.2 68.0l3.4 3.4M216.2 71.4l3.4 -3.4M53.0 145.1V150.0M51.6 145.1h2.8M51.6 150.0h2.8M51.3 145.8l3.4 3.4M51.3 149.2l3.4 -3.4M265.0 40.9V47.8M263.6 40.9h2.8M263.6 47.8h2.8M263.3 42.7l3.4 3.4M263.3 46.1l3.4 -3.4M180.1 88.2V93.2M178.7 88.2h2.8M178.7 93.2h2.8M178.4 89.0l3.4 3.4M178.4 92.4l3.4 -3.4M273.6 30.1V36.2M272.2 30.1h2.8M272.2 36.2h2.8M271.9 31.5l3.4 3.4M271.9 34.9l3.4 -3.4M255.2 50.3V56.9M253.8 50.3h2.8M253.8 56.9h2.8M253.5 51.9l3.4 3.4M253.5 55.3l3.4 -3.4M224.7 63.7V70.4M223.3 63.7h2.8M223.3 70.4h2.8M223.0 65.3l3.4 3.4M223.0 68.7l3.4 -3.4M174.3 98.6V105.7M172.9 98.6h2.8M172.9 105.7h2.8M172.6 100.4l3.4 3.4M172.6 103.8l3.4 -3.4M68.5 134.3V139.6M67.1 134.3h2.8M67.1 139.6h2.8M66.8 135.2l3.4 3.4M66.8 138.6l3.4 -3.4M268.3 27.3V33.1M266.9 27.3h2.8M266.9 33.1h2.8M266.6 28.5l3.4 3.4M266.6 31.9l3.4 -3.4M136.0 116.2V123.1M134.6 116.2h2.8M134.6 123.1h2.8M134.3 118.0l3.4 3.4M134.3 121.4l3.4 -3.4M51.1 147.5V151.4M49.7 147.5h2.8M49.7 151.4h2.8M49.4 147.8l3.4 3.4M49.4 151.2l3.4 -3.4M107.7 118.9V125.6M106.3 118.9h2.8M106.3 125.6h2.8M106.0 120.6l3.4 3.4M106.0 124.0l3.4 -3.4M212.2 72.8V77.1M210.8 72.8h2.8M210.8 77.1h2.8M210.5 73.3l3.4 3.4M210.5 76.7l3.4 -3.4M90.4 132.8V138.6M89.0 132.8h2.8M89.0 138.6h2.8M88.7 134.0l3.4 3.4M88.7 137.4l3.4 -3.4M124.4 115.3V120.4M123.0 115.3h2.8M123.0 120.4h2.8M122.7 116.2l3.4 3.4M122.7 119.6l3.4 -3.4M74.2 133.6V140.1M72.8 133.6h2.8M72.8 140.1h2.8M72.5 135.1l3.4 3.4M72.5 138.5l3.4 -3.4M109.1 123.1V129.1M107.7 123.1h2.8M107.7 129.1h2.8M107.4 124.4l3.4 3.4M107.4 127.8l3.4 -3.4M178.1 92.4V97.5M176.7 92.4h2.8M176.7 97.5h2.8M176.4 93.2l3.4 3.4M176.4 96.6l3.4 -3.4M67.4 142.4V149.1M66.0 142.4h2.8M66.0 149.1h2.8M65.7 144.1l3.4 3.4M65.7 147.5l3.4 -3.4M243.9 56.5V63.3M242.5 56.5h2.8M242.5 63.3h2.8M242.2 58.2l3.4 3.4M242.2 61.6l3.4 -3.4M119.1 121.1V125.6M117.7 121.1h2.8M117.7 125.6h2.8M117.4 121.6l3.4 3.4M117.4 125.0l3.4 -3.4M78.4 138.1V142.2M77.0 138.1h2.8M77.0 142.2h2.8M76.7 138.4l3.4 3.4M76.7 141.8l3.4 -3.4M141.6 110.9V115.7M140.2 110.9h2.8M140.2 115.7h2.8M139.9 111.6l3.4 3.4M139.9 115.0l3.4 -3.4M112.6 118.9V123.8M111.2 118.9h2.8M111.2 123.8h2.8M110.9 119.7l3.4 3.4M110.9 123.1l3.4 -3.4M104.6 127.9V134.0M103.2 127.9h2.8M103.2 134.0h2.8M102.9 129.2l3.4 3.4M102.9 132.6l3.4 -3.4M141.3 111.0V115.9M139.9 111.0h2.8M139.9 115.9h2.8M139.6 111.7l3.4 3.4M139.6 115.1l3.4 -3.4M138.7 112.9V117.6M137.3 112.9h2.8M137.3 117.6h2.8M137.0 113.6l3.4 3.4M137.0 117.0l3.4 -3.4M211.7 69.0V75.4M210.3 69.0h2.8M210.3 75.4h2.8M210.0 70.5l3.4 3.4M210.0 73.9l3.4 -3.4M110.2 129.3V133.9M108.8 129.3h2.8M108.8 133.9h2.8M108.5 129.9l3.4 3.4M108.5 133.3l3.4 -3.4M212.7 77.2V81.5M211.3 77.2h2.8M211.3 81.5h2.8M211.0 77.6l3.4 3.4M211.0 81.0l3.4 -3.4M91.5 130.1V134.7M90.1 130.1h2.8M90.1 134.7h2.8M89.8 130.7l3.4 3.4M89.8 134.1l3.4 -3.4"/>
<path class="e" stroke="#10ff00" d="M272.9 32.6V37.2M271.5 32.6h2.8M271.5 37.2h2.8M271.2 33.2l3.4 3.4M271.2 36.6l3.4 -3.4M198.5 72.4V78.5M197.1 72.4h2.8M197.1 78.5h2.8M196.8 73.7l3.4 3.4M196.8 77.1l3.4 -3.4M48.1 147.4V152.2M46.7 147.4h2.8M46.7 152.2h2.8M46.4 148.1l3.4 3.4M46.4 151.5l3.4 -3.4M68.2 144.7V149.7M66.8 144.7h2.8M66.8 149.7h2.8M66.5 145.5l3.4 3.4M66.5 148.9l3.4 -3.4M162.8 98.5V102.8M161.4 98.5h2.8M161.4 102.8h2.8M161.1 98.9l3.4 3.4M161.1 102.3l3.4 -3.4M184.7 87.3V95.1M183.3 87.3h2.8M183.3 95.1h2.8M183.0 89.5l3.4 3.4M183.0 92.9l3.4 -3.4M189.7 92.8V98.8M188.3 92.8h2.8M188.3 98.8h2.8M188.0 94.1l3.4 3.4M188.0 97.5l3.4 -3.4M152.9 101.0V105.1M151.5 101.0h2.8M151.5 105.1h2.8M151.2 101.4l3.4 3.4M151.2 104.8l3.4 -3.4M128.4 118.9V123.8M127.0 118.9h2.8M127.0 123.8h2.8M126.7 119.6l3.4 3.4M126.7 123.0l3.4 -3.4M127.1 116.7V122.7M125.7 116.7h2.8M125.7 122.7h2.8M125.4 118.0l3.4 3.4M125.4 121.4l3.4 -3.4M246.6 39.1V44.0M245.2 39.1h2.8M245.2 44.0h2.8M244.9 39.9l3.4 3.4M244.9 43.3l3.4 -3.4M54.0 143.9V147.7M52.6 143.9h2.8M52.6 147.7h2.8M52.3 144.1l3.4 3.4M52.3 147.5l3.4 -3.4M153.6 103.2V109.2M152.2 103.2h2.8M152.2 109.2h2.8M151.9 104.5l3.4 3.4M151.9 107.9l3.4 -3.4M268.7 20.6V26.9M267.3 20.6h2.8M267.3 26.9h2.8M267.0 22.0l3.4 3.4M267.0 25.4l3.4 -3.4M72.7 139.6V145.2M71.3 139.6h2.8M71.3 145.2h2.8M71.0 140.7l3.4 3.4M71.0 144.1l3.4 -3.4M175.9 84.5V91.4M174.5 84.5h2.8M174.5 91.4h2.8M174.2 86.3l3.4 3.4M174.2 89.7l3.4 -3.4M93.9 131.6V137.5M92.5 131.6h2.8M92.5 137.5h2.8M92.2 132.9l3.4 3.4M92.2 136.3l3.4 -3.4M204.7 75.1V79.7M203.3 75.1h2.8M203.3 79.7h2.8M203.0 75.7l3.4 3.4M203.0 79.1l3.4 -3.4M252.3 42.6V48.3M250.9 42.6h2.8M250.9 48.3h2.8M250.6 43.8l3.4 3.4M250.6 47.2l3.4 -3.4M143.3 110.5V117.4M141.9 110.5h2.8M141.9 117.4h2.8M141.6 112.3l3.4 3.4M141.6 115.7l3.4 -3.4M94.8 130.2V136.5M93.4 130.2h2.8M93.4 136.5h2.8M93.1 131.6l3.4 3.4M93.1 135.0l3.4 -3.4M140.3 111.0V117.8M138.9 111.0h2.8M138.9 117.8h2.8M138.6 112.7l3.4 3.4M138.6 116.1l3.4 -3.4M164.9 91.1V97.9M163.5 91.1h2.8M163.5 97.9h2.8M163.2 92.8l3.4 3.4M163.2 96.2l3.4 -3.4M151.0 111.6V116.2M149.6 111.6h2.8M149.6 116.2h2.8M149.3 112.2l3.4 3.4M149.3 115.6l3.4 -3.4M83.9 138.6V142.9M82.5 138.6h2.8M82.5 142.9h2.8M82.2 139.1l3.4 3.4M82.2 142.5l3.4 -3.4M274.0 19.8V27.5M272.6 19.8h2.8M272.6 27.5h2.8M272.3 22.0l3.4 3.4M272.3 25.4l3.4 -3.4"/>
<path class="e" stroke="#40ff10" d="M274.9 39.0V47.2M273.5 39.0h2.8M273.5 47.2h2.8M273.2 41.4l3.4 3.4M273.2 44.8l3.4 -3.4M87.5 136.3V141.3M86.1 136.3h2.8M86.1 141.3h2.8M85.8 137.1l3.4 3.4M85.8 140.5l3.4 -3.4M95.8 129.4V136.2M94.4 129.4h2.8M94.4 136.2h2.8M94.1 131.1l3.4 3.4M94.1 134.5l3.4 -3.4M206.5 76.3V82.2M205.1 76.3h2.8M205.1 82.2h2.8M204.8 77.6l3.4 3.4M204.8 81.0l3.4 -3.4M38.2 152.1V155.8M36.8 152.1h2.8M36.8 155.8h2.8M36.5 152.3l3.4 3.4M36.5 155.7l3.4 -3.4M244.9 62.5V67.7M243.5 62.5h2.8M243.5 67.7h2.8M243.2 63.4l3.4 3.4M243.2 66.8l3.4 -3.4M108.7 116.2V122.2M107.3 116.2h2.8M107.3 122.2h2.8M107.0 117.5l3.4 3.4M107.0 120.9l3.4 -3.4M184.2 92.6V97.8M182.8 92.6h2.8M182.8 97.8h2.8M182.5 93.5l3.4 3.4M182.5 96.9l3.4 -3.4M259.8 38.7V46.4M258.4 38.7h2.8M258.4 46.4h2.8M258.1 40.9l3.4 3.4M258.1 44.3l3.4 -3.4M156.9 106.8V111.5M155.5 106.8h2.8M155.5 111.5h2.8M155.2 107.5l3.4 3.4M155.2 110.9l3.4 -3.4M144.4 115.6V121.2M143.0 115.6h2.8M143.0 121.2h2.8M142.7 116.7l3.4 3.4M142.7 120.1l3.4 -3.4M198.7 84.8V91.0M197.3 84.8h2.8M197.3 91.0h2.8M197.0 86.2l3.4 3.4M197.0 89.6l3.4 -3.4M137.0 114.2V118.3M135.6 114.2h2.8M135.6 118.3h2.8M135.3 114.6l3.4 3.4M135.3 118.0l3.4 -3.4M90.2 129.7V133.4M88.8 129.7h2.8M88.8 133.4h2.8M88.5 129.9l3.4 3.4M88.5 133.3l3.4 -3.4M45.8 152.0V155.6M44.4 152.0h2.8M44.4 155.6h2.8M44.1 152.1l3.4 3.4M44.1 155.5l3.4 -3.4M107.4 129.7V134.9M106.0 129.7h2.8M106.0 134.9h2.8M105.7 130.6l3.4 3.4M105.7 134.0l3.4 -3.4"/>
<path class="e" stroke="#60ff10" d="M145.3 107.3V113.9M143.9 107.3h2.8M143.9 113.9h2.8M143.6 108.9l3.4 3.4M143.6 112.3l3.4 -3.4M142.4 110.4V115.0M141.0 110.4h2.8M141.0 115.0h2.8M140.7 111.0l3.4 3.4M140.7 114.4l3.4 -3.4M131.3 113.3V118.5M129.9 113.3h2.8M129.9 118.5h2.8M129.6 114.2l3.4 3.4M129.6 117.6l3.4 -3.4M79.8 132.6V138.7M78.4 132.6h2.8M78.4 138.7h2.8M78.1 134.0l3.4 3.4M78.1 137.4l3.4 -3.4M77.2 140.0V145.4M75.8 140.0h2.8M75.8 145.4h2.8M75.5 141.0l3.4 3.4M75.5 144.4l3.4 -3.4M123.0 122.8V126.9M121.6 122.8h2.8M121.6 126.9h2.8M121.3 123.1l3.4 3.4M121.3 126.5l3.4 -3.4M275.2 34.1V41.5M273.8 34.1h2.8M273.8 41.5h2.8M273.5 36.1l3.4 3.4M273.5 39.5l3.4 -3.4M260.8 44.1V48.8M259.4 44.1h2.8M259.4 48.8h2.8M259.1 44.8l3.4 3.4M259.1 48.2l3.4 -3.4M193.8 86.5V92.4M192.4 86.5h2.8M192.4 92.4h2.8M192.1 87.8l3.4 3.4M192.1 91.2l3.4 -3.4M79.7 135.8V140.4M78.3 135.8h2.8M78.3 140.4h2.8M78.0 136.4l3.4 3.4M78.0 139.8l3.4 -3.4M65.5 142.7V146.4M64.1 142.7h2.8M64.1 146.4h2.8M63.8 142.8l3.4 3.4M63.8 146.2l3.4 -3.4M159.1 102.3V106.5M157.7 102.3h2.8M157.7 106.5h2.8M157.4 102.7l3.4 3.4M157.4 106.1l3.4 -3.4M220.5 68.2V76.0M219.1 68.2h2.8M219.1 76.0h2.8M218.8 70.4l3.4 3.4M218.8 73.8l3.4 -3.4M247.4 48.1V55.2M246.0 48.1h2.8M246.0 55.2h2.8M245.7 49.9l3.4 3.4M245.7 53.3l3.4 -3.4M104.4 128.2V133.2M103.0 128.2h2.8M103.0 133.2h2.8M102.7 129.0l3.4 3.4M102.7 132.4l3.4 -3.4"/>
<path class="e" stroke="#70ff00" d="M124.3 127.2V131.5M122.9 127.2h2.8M122.9 131.5h2.8M122.6 127.6l3.4 3.4M122.6 131.0l3.4 -3.4M233.9 68.5V73.4M232.5 68.5h2.8M232.5 73.4h2.8M232.2 69.2l3.4 3.4M232.2 72.6l3.4 -3.4M142.6 104.1V111.2M141.2 104.1h2.8M141.2 111.2h2.8M140.9 105.9l3.4 3.4M140.9 109.3l3.4 -3.4M219.3 77.5V83.2M217.9 77.5h2.8M217.9 83.2h2.8M217.6 78.6l3.4 3.4M217.6 82.0l3.4 -3.4M242.0 45.4V52.2M240.6 45.4h2.8M240.6 52.2h2.8M240.3 47.1l3.4 3.4M240.3 50.5l3.4 -3.4M212.4 79.7V87.7M211.0 79.7h2.8M211.0 87.7h2.8M210.7 82.0l3.4 3.4M210.7 85.4l3.4 -3.4M88.2 135.9V141.5M86.8 135.9h2.8M86.8 141.5h2.8M86.5 137.0l3.4 3.4M86.5 140.4l3.4 -3.4M142.5 107.6V113.9M141.1 107.6h2.8M141.1 113.9h2.8M140.8 109.1l3.4 3.4M140.8 112.5l3.4 -3.4M48.9 145.6V151.3M47.5 145.6h2.8M47.5 151.3h2.8M47.2 146.7l3.4 3.4M47.2 150.1l3.4 -3.4M69.4 142.4V146.6M68.0 142.4h2.8M68.0 146.6h2.8M67.7 142.8l3.4 3.4M67.7 146.2l3.4 -3.4M56.6 144.4V150.5M55.2 144.4h2.8M55.2 150.5h2.8M54.9 145.7l3.4 3.4M54.9 149.1l3.4 -3.4M226.6 63.8V70.7M225.2 63.8h2.8M225.2 70.7h2.8M224.9 65.6l3.4 3.4M224.9 69.0l3.4 -3.4M196.5 89.8V94.2M195.1 89.8h2.8M195.1 94.2h2.8M194.8 90.3l3.4 3.4M194.8 93.7l3.4 -3.4M126.7 115.2V121.8M125.3 115.2h2.8M125.3 121.8h2.8M125.0 116.8l3.4 3.4M125.0 120.2l3.4 -3.4M145.3 115.4V120.2M143.9 115.4h2.8M143.9 120.2h2.8M143.6 116.1l3.4 3.4M143.6 119.5l3.4 -3.4M156.0 105.8V110.0M154.6 105.8h2.8M154.6 110.0h2.8M154.3 106.2l3.4 3.4M154.3 109.6l3.4 -3.4"/>
<path class="e" stroke="#88ff10" d="M186.2 85.6V90.0M184.8 85.6h2.8M184.8 90.0h2.8M184.5 86.1l3.4 3.4M184.5 89.5l3.4 -3.4M96.8 130.9V134.8M95.4 130.9h2.8M95.4 134.8h2.8M95.1 131.1l3.4 3.4M95.1 134.5l3.4 -3.4M199.0 86.2V92.2M197.6 86.2h2.8M197.6 92.2h2.8M197.3 87.5l3.4 3.4M197.3 90.9l3.4 -3.4M263.0 36.7V43.2M261.6 36.7h2.8M261.6 43.2h2.8M261.3 38.3l3.4 3.4M261.3 41.7l3.4 -3.4M271.3 41.6V48.7M269.9 41.6h2.8M269.9 48.7h2.8M269.6 43.4l3.4 3.4M269.6 46.8l3.4 -3.4M117.0 125.2V130.1M115.6 125.2h2.8M115.6 130.1h2.8M115.3 125.9l3.4 3.4M115.3 129.3l3.4 -3.4M217.3 67.7V73.9M215.9 67.7h2.8M215.9 73.9h2.8M215.6 69.1l3.4 3.4M215.6 72.5l3.4 -3.4"/>
<path class="e" stroke="#a0ff00" d="M128.6 119.9V125.3M127.2 119.9h2.8M127.2 125.3h2.8M126.9 120.9l3.4 3.4M126.9 124.3l3.4 -3.4M235.6 53.1V61.4M234.2 53.1h2.8M234.2 61.4h2.8M233.9 55.5l3.4 3.4M233.9 58.9l3.4 -3.4M252.2 49.2V56.6M250.8 49.2h2.8M250.8 56.6h2.8M250.5 51.2l3.4 3.4M250.5 54.6l3.4 -3.4M267.3 47.0V53.3M265.9 47.0h2.8M265.9 53.3h2.8M265.6 48.4l3.4 3.4M265.6 51.8l3.4 -3.4M277.4 31.1V37.1M276.0 31.1h2.8M276.0 37.1h2.8M275.7 32.4l3.4 3.4M275.7 35.8l3.4 -3.4M51.6 151.0V154.9M50.2 151.0h2.8M50.2 154.9h2.8M49.9 151.3l3.4 3.4M49.9 154.7l3.4 -3.4M276.7 30.9V36.5M275.3 30.9h2.8M275.3 36.5h2.8M275.0 32.0l3.4 3.4M275.0 35.4l3.4 -3.4M154.6 107.4V114.8M153.2 107.4h2.8M153.2 114.8h2.8M152.9 109.4l3.4 3.4M152.9 112.8l3.4 -3.4M229.6 72.4V79.1M228.2 72.4h2.8M228.2 79.1h2.8M227.9 74.0l3.4 3.4M227.9 77.4l3.4 -3.4M210.9 74.8V80.4M209.5 74.8h2.8M209.5 80.4h2.8M209.2 75.9l3.4 3.4M209.2 79.3l3.4 -3.4M191.2 91.4V98.0M189.8 91.4h2.8M189.8 98.0h2.8M189.5 93.0l3.4 3.4M189.5 96.4l3.4 -3.4M71.3 142.8V148.9M69.9 142.8h2.8M69.9 148.9h2.8M69.6 144.2l3.4 3.4M69.6 147.6l3.4 -3.4M155.9 102.0V108.4M154.5 102.0h2.8M154.5 108.4h2.8M154.2 103.5l3.4 3.4M154.2 106.9l3.4 -3.4M253.7 50.5V57.3M252.3 50.5h2.8M252.3 57.3h2.8M252.0 52.2l3.4 3.4M252.0 55.6l3.4 -3.4M75.0 141.3V147.6M73.6 141.3h2.8M73.6 147.6h2.8M73.3 142.8l3.4 3.4M73.3 146.2l3.4 -3.4M109.3 126.8V133.6M107.9 126.8h2.8M107.9 133.6h2.8M107.6 128.5l3.4 3.4M107.6 131.9l3.4 -3.4"/>
<path class="e" stroke="#b0ff00" d="M150.6 110.9V116.7M149.2 110.9h2.8M149.2 116.7h2.8M148.9 112.1l3.4 3.4M148.9 115.5l3.4 -3.4M242.3 64.7V70.2M240.9 64.7h2.8M240.9 70.2h2.8M240.6 65.7l3.4 3.4M240.6 69.1l3.4 -3.4M234.3 59.4V66.0M232.9 59.4h2.8M232.9 66.0h2.8M232.6 61.0l3.4 3.4M232.6 64.4l3.4 -3.4M217.0 81.0V85.8M215.6 81.0h2.8M215.6 85.8h2.8M215.3 81.7l3.4 3.4M215.3 85.1l3.4 -3.4M87.1 138.3V143.3M85.7 138.3h2.8M85.7 143.3h2.8M85.4 139.1l3.4 3.4M85.4 142.5l3.4 -3.4M91.7 138.4V145.2M90.3 138.4h2.8M90.3 145.2h2.8M90.0 140.1l3.4 3.4M90.0 143.5l3.4 -3.4M154.1 109.0V115.3M152.7 109.0h2.8M152.7 115.3h2.8M152.4 110.5l3.4 3.4M152.4 113.9l3.4 -3.4"/>
<path class="e" stroke="#d0ff00" d="M85.5 139.1V145.4M84.1 139.1h2.8M84.1 145.4h2.8M83.8 140.6l3.4 3.4M83.8 144.0l3.4 -3.4M210.5 71.6V79.7M209.1 71.6h2.8M209.1 79.7h2.8M208.8 74.0l3.4 3.4M208.8 77.4l3.4 -3.4M232.7 60.4V67.7M231.3 60.4h2.8M231.3 67.7h2.8M231.0 62.4l3.4 3.4M231.0 65.8l3.4 -3.4M207.9 75.1V82.3M206.5 75.1h2.8M206.5 82.3h2.8M206.2 77.0l3.4 3.4M206.2 80.4l3.4 -3.4M221.8 70.0V77.1M220.4 70.0h2.8M220.4 77.1h2.8M220.1 71.9l3.4 3.4M220.1 75.3l3.4 -3.4M112.1 131.0V135.2M110.7 131.0h2.8M110.7 135.2h2.8M110.4 131.4l3.4 3.4M110.4 134.8l3.4 -3.4M130.9 121.2V126.9M129.5 121.2h2.8M129.5 126.9h2.8M129.2 122.4l3.4 3.4M129.2 125.8l3.4 -3.4M194.5 86.0V94.0M193.1 86.0h2.8M193.1 94.0h2.8M192.8 88.3l3.4 3.4M192.8 91.7l3.4 -3.4M215.2 81.7V88.4M213.8 81.7h2.8M213.8 88.4h2.8M213.5 83.3l3.4 3.4M213.5 86.7l3.4 -3.4M117.8 126.9V132.6M116.4 126.9h2.8M116.4 132.6h2.8M116.1 128.1l3.4 3.4M116.1 131.5l3.4 -3.4M164.2 98.2V106.3M162.8 98.2h2.8M162.8 106.3h2.8M162.5 100.6l3.4 3.4M162.5 104.0l3.4 -3.4M78.7 136.2V142.0M77.3 136.2h2.8M77.3 142.0h2.8M77.0 137.4l3.4 3.4M77.0 140.8l3.4 -3.4M131.4 120.0V127.5M130.0 120.0h2.8M130.0 127.5h2.8M129.7 122.1l3.4 3.4M129.7 125.5l3.4 -3.4M112.9 126.1V132.7M111.5 126.1h2.8M111.5 132.7h2.8M111.2 127.7l3.4 3.4M111.2 131.1l3.4 -3.4M114.1 127.3V134.7M112.7 127.3h2.8M112.7 134.7h2.8M112.4 129.3l3.4 3.4M112.4 132.7l3.4 -3.4"/>
<path class="e" stroke="#e0ff00" d="M231.6 58.0V64.4M230.2 58.0h2.8M230.2 64.4h2.8M229.9 59.5l3.4 3.4M229.9 62.9l3.4 -3.4M247.1 54.9V62.5M245.7 54.9h2.8M245.7 62.5h2.8M245.4 57.0l3.4 3.4M245.4 60.4l3.4 -3.4M52.4 147.5V152.0M51.0 147.5h2.8M51.0 152.0h2.8M50.7 148.1l3.4 3.4M50.7 151.5l3.4 -3.4"/>
<path class="e" stroke="#ffff10" d="M200.4 76.2V82.4M199.0 76.2h2.8M199.0 82.4h2.8M198.7 77.6l3.4 3.4M198.7 81.0l3.4 -3.4M233.9 62.4V70.6M232.5 62.4h2.8M232.5 70.6h2.8M232.2 64.8l3.4 3.4M232.2 68.2l3.4 -3.4M233.0 71.2V79.3M231.6 71.2h2.8M231.6 79.3h2.8M231.3 73.5l3.4 3.4M231.3 76.9l3.4 -3.4M268.8 44.9V53.1M267.4 44.9h2.8M267.4 53.1h2.8M267.1 47.3l3.4 3.4M267.1 50.7l3.4 -3.4M83.6 139.6V144.3M82.2 139.6h2.8M82.2 144.3h2.8M81.9 140.2l3.4 3.4M81.9 143.6l3.4 -3.4M187.5 89.2V94.5M186.1 89.2h2.8M186.1 94.5h2.8M185.8 90.2l3.4 3.4M185.8 93.6l3.4 -3.4M194.3 86.1V91.5M192.9 86.1h2.8M192.9 91.5h2.8M192.6 87.1l3.4 3.4M192.6 90.5l3.4 -3.4M275.4 31.7V39.8M274.0 31.7h2.8M274.0 39.8h2.8M273.7 34.0l3.4 3.4M273.7 37.4l3.4 -3.4M53.7 145.9V152.9M52.3 145.9h2.8M52.3 152.9h2.8M52.0 147.7l3.4 3.4M52.0 151.1l3.4 -3.4M107.9 127.1V132.6M106.5 127.1h2.8M106.5 132.6h2.8M106.2 128.2l3.4 3.4M106.2 131.6l3.4 -3.4M74.8 140.1V145.6M73.4 140.1h2.8M73.4 145.6h2.8M73.1 141.1l3.4 3.4M73.1 144.5l3.4 -3.4M91.7 129.1V135.8M90.3 129.1h2.8M90.3 135.8h2.8M90.0 130.8l3.4 3.4M90.0 134.2l3.4 -3.4"/>
<path class="e" stroke="#ffe000" d="M134.2 115.0V122.8M132.8 115.0h2.8M132.8 122.8h2.8M132.5 117.2l3.4 3.4M132.5 120.6l3.4 -3.4M194.4 80.1V88.2M193.0 80.1h2.8M193.0 88.2h2.8M192.7 82.4l3.4 3.4M192.7 85.8l3.4 -3.4M49.9 150.6V156.5M48.5 150.6h2.8M48.5 156.5h2.8M48.2 151.8l3.4 3.4M48.2 155.2l3.4 -3.4M132.0 116.5V125.1M130.6 116.5h2.8M130.6 125.1h2.8M130.3 119.1l3.4 3.4M130.3 122.5l3.4 -3.4M38.4 152.0V156.8M37.0 152.0h2.8M37.0 156.8h2.8M36.7 152.7l3.4 3.4M36.7 156.1l3.4 -3.4M137.7 114.0V121.0M136.3 114.0h2.8M136.3 121.0h2.8M136.0 115.8l3.4 3.4M136.0 119.2l3.4 -3.4M243.8 56.0V64.1M242.4 56.0h2.8M242.4 64.1h2.8M242.1 58.4l3.4 3.4M242.1 61.8l3.4 -3.4M264.7 44.9V52.7M263.3 44.9h2.8M263.3 52.7h2.8M263.0 47.1l3.4 3.4M263.0 50.5l3.4 -3.4M107.8 132.4V136.9M106.4 132.4h2.8M106.4 136.9h2.8M106.1 133.0l3.4 3.4M106.1 136.4l3.4 -3.4M140.1 110.5V115.7M138.7 110.5h2.8M138.7 115.7h2.8M138.4 111.4l3.4 3.4M138.4 114.8l3.4 -3.4M60.5 144.1V149.8M59.1 144.1h2.8M59.1 149.8h2.8M58.8 145.2l3.4 3.4M58.8 148.6l3.4 -3.4M104.7 128.5V136.2M103.3 128.5h2.8M103.3 136.2h2.8M103.0 130.7l3.4 3.4M103.0 134.1l3.4 -3.4"/>
<path class="e" stroke="#ffd000" d="M196.6 87.2V92.6M195.2 87.2h2.8M195.2 92.6h2.8M194.9 88.2l3.4 3.4M194.9 91.6l3.4 -3.4M55.9 143.9V152.2M54.5 143.9h2.8M54.5 152.2h2.8M54.2 146.4l3.4 3.4M54.2 149.8l3.4 -3.4M209.5 65.6V74.7M208.1 65.6h2.8M208.1 74.7h2.8M207.8 68.4l3.4 3.4M207.8 71.8l3.4 -3.4M158.4 106.6V115.2M157.0 106.6h2.8M157.0 115.2h2.8M156.7 109.2l3.4 3.4M156.7 112.6l3.4 -3.4M235.2 59.6V69.2M233.8 59.6h2.8M233.8 69.2h2.8M233.5 62.7l3.4 3.4M233.5 66.1l3.4 -3.4M92.9 134.2V140.9M91.5 134.2h2.8M91.5 140.9h2.8M91.2 135.8l3.4 3.4M91.2 139.2l3.4 -3.4M176.8 94.5V101.4M175.4 94.5h2.8M175.4 101.4h2.8M175.1 96.3l3.4 3.4M175.1 99.7l3.4 -3.4M233.6 67.1V73.6M232.2 67.1h2.8M232.2 73.6h2.8M231.9 68.7l3.4 3.4M231.9 72.1l3.4 -3.4M78.7 142.2V149.0M77.3 142.2h2.8M77.3 149.0h2.8M77.0 143.9l3.4 3.4M77.0 147.3l3.4 -3.4"/>
<path class="e" stroke="#ffc000" d="M274.1 37.7V48.5M272.7 37.7h2.8M272.7 48.5h2.8M272.4 41.4l3.4 3.4M272.4 44.8l3.4 -3.4M80.5 141.1V148.5M79.1 141.1h2.8M79.1 148.5h2.8M78.8 143.1l3.4 3.4M78.8 146.5l3.4 -3.4M83.9 133.0V140.7M82.5 133.0h2.8M82.5 140.7h2.8M82.2 135.2l3.4 3.4M82.2 138.6l3.4 -3.4M42.2 146.8V152.3M40.8 146.8h2.8M40.8 152.3h2.8M40.5 147.9l3.4 3.4M40.5 151.3l3.4 -3.4M100.3 132.0V140.1M98.9 132.0h2.8M98.9 140.1h2.8M98.6 134.4l3.4 3.4M98.6 137.8l3.4 -3.4M123.2 126.2V132.1M121.8 126.2h2.8M121.8 132.1h2.8M121.5 127.4l3.4 3.4M121.5 130.8l3.4 -3.4M204.7 80.3V89.0M203.3 80.3h2.8M203.3 89.0h2.8M203.0 83.0l3.4 3.4M203.0 86.4l3.4 -3.4M185.9 86.3V94.6M184.5 86.3h2.8M184.5 94.6h2.8M184.2 88.8l3.4 3.4M184.2 92.2l3.4 -3.4M118.7 121.4V129.1M117.3 121.4h2.8M117.3 129.1h2.8M117.0 123.5l3.4 3.4M117.0 126.9l3.4 -3.4M117.5 125.2V134.0M116.1 125.2h2.8M116.1 134.0h2.8M115.8 127.9l3.4 3.4M115.8 131.3l3.4 -3.4"/>
<path class="e" stroke="#ffb000" d="M152.6 108.2V116.2M151.2 108.2h2.8M151.2 116.2h2.8M150.9 110.5l3.4 3.4M150.9 113.9l3.4 -3.4M273.5 34.4V41.4M272.1 34.4h2.8M272.1 41.4h2.8M271.8 36.2l3.4 3.4M271.8 39.6l3.4 -3.4M78.5 137.4V146.3M77.1 137.4h2.8M77.1 146.3h2.8M76.8 140.2l3.4 3.4M76.8 143.6l3.4 -3.4M183.8 87.3V93.5M182.4 87.3h2.8M182.4 93.5h2.8M182.1 88.7l3.4 3.4M182.1 92.1l3.4 -3.4M215.3 79.3V86.4M213.9 79.3h2.8M213.9 86.4h2.8M213.6 81.1l3.4 3.4M213.6 84.5l3.4 -3.4M49.4 145.5V151.6M48.0 145.5h2.8M48.0 151.6h2.8M47.7 146.9l3.4 3.4M47.7 150.3l3.4 -3.4M81.5 138.5V146.6M80.1 138.5h2.8M80.1 146.6h2.8M79.8 140.9l3.4 3.4M79.8 144.3l3.4 -3.4M103.8 133.5V139.7M102.4 133.5h2.8M102.4 139.7h2.8M102.1 134.9l3.4 3.4M102.1 138.3l3.4 -3.4M234.3 63.1V71.0M232.9 63.1h2.8M232.9 71.0h2.8M232.6 65.4l3.4 3.4M232.6 68.8l3.4 -3.4M109.0 130.4V137.6M107.6 130.4h2.8M107.6 137.6h2.8M107.3 132.3l3.4 3.4M107.3 135.7l3.4 -3.4M48.2 152.6V158.2M46.8 152.6h2.8M46.8 158.2h2.8M46.5 153.7l3.4 3.4M46.5 157.1l3.4 -3.4M123.1 124.2V132.0M121.7 124.2h2.8M121.7 132.0h2.8M121.4 126.4l3.4 3.4M121.4 129.8l3.4 -3.4"/>
<path class="e" stroke="#ffa000" d="M151.6 105.4V110.9M150.2 105.4h2.8M150.2 110.9h2.8M149.9 106.4l3.4 3.4M149.9 109.8l3.4 -3.4M142.9 111.3V121.4M141.5 111.3h2.8M141.5 121.4h2.8M141.2 114.7l3.4 3.4M141.2 118.1l3.4 -3.4M136.7 116.0V124.2M135.3 116.0h2.8M135.3 124.2h2.8M135.0 118.4l3.4 3.4M135.0 121.8l3.4 -3.4M234.1 64.4V70.8M232.7 64.4h2.8M232.7 70.8h2.8M232.4 65.9l3.4 3.4M232.4 69.3l3.4 -3.4M96.6 134.0V143.5M95.2 134.0h2.8M95.2 143.5h2.8M94.9 137.1l3.4 3.4M94.9 140.5l3.4 -3.4M263.3 40.2V50.2M261.9 40.2h2.8M261.9 50.2h2.8M261.6 43.5l3.4 3.4M261.6 46.9l3.4 -3.4M35.9 156.0V163.4M34.5 156.0h2.8M34.5 163.4h2.8M34.2 158.0l3.4 3.4M34.2 161.4l3.4 -3.4M237.0 61.9V70.0M235.6 61.9h2.8M235.6 70.0h2.8M235.3 64.2l3.4 3.4M235.3 67.6l3.4 -3.4M70.9 141.6V148.6M69.5 141.6h2.8M69.5 148.6h2.8M69.2 143.4l3.4 3.4M69.2 146.8l3.4 -3.4"/>
<path class="e" stroke="#ff8c00" d="M55.4 144.2V153.1M54.0 144.2h2.8M54.0 153.1h2.8M53.7 147.0l3.4 3.4M53.7 150.4l3.4 -3.4M197.2 78.7V89.5M195.8 78.7h2.8M195.8 89.5h2.8M195.5 82.4l3.4 3.4M195.5 85.8l3.4 -3.4M81.7 140.9V146.9M80.3 140.9h2.8M80.3 146.9h2.8M80.0 142.2l3.4 3.4M80.0 145.6l3.4 -3.4M126.6 120.2V128.4M125.2 120.2h2.8M125.2 128.4h2.8M124.9 122.6l3.4 3.4M124.9 126.0l3.4 -3.4M263.4 48.9V57.6M262.0 48.9h2.8M262.0 57.6h2.8M261.7 51.6l3.4 3.4M261.7 55.0l3.4 -3.4M61.2 146.9V155.2M59.8 146.9h2.8M59.8 155.2h2.8M59.5 149.3l3.4 3.4M59.5 152.7l3.4 -3.4M40.7 150.6V156.6M39.3 150.6h2.8M39.3 156.6h2.8M39.0 151.9l3.4 3.4M39.0 155.3l3.4 -3.4"/>
<path class="e" stroke="#ff7000" d="M206.4 80.3V90.2M205.0 80.3h2.8M205.0 90.2h2.8M204.7 83.6l3.4 3.4M204.7 87.0l3.4 -3.4M95.8 138.2V148.8M94.4 138.2h2.8M94.4 148.8h2.8M94.1 141.8l3.4 3.4M94.1 145.2l3.4 -3.4M98.9 125.0V132.6M97.5 125.0h2.8M97.5 132.6h2.8M97.2 127.1l3.4 3.4M97.2 130.5l3.4 -3.4M124.4 124.3V133.6M123.0 124.3h2.8M123.0 133.6h2.8M122.7 127.3l3.4 3.4M122.7 130.7l3.4 -3.4M262.3 61.5V72.1M260.9 61.5h2.8M260.9 72.1h2.8M260.6 65.1l3.4 3.4M260.6 68.5l3.4 -3.4M269.3 36.1V50.0M267.9 36.1h2.8M267.9 50.0h2.8M267.6 41.3l3.4 3.4M267.6 44.7l3.4 -3.4M134.4 114.0V121.9M133.0 114.0h2.8M133.0 121.9h2.8M132.7 116.3l3.4 3.4M132.7 119.7l3.4 -3.4M149.1 112.5V123.0M147.7 112.5h2.8M147.7 123.0h2.8M147.4 116.0l3.4 3.4M147.4 119.4l3.4 -3.4M36.2 155.4V162.6M34.8 155.4h2.8M34.8 162.6h2.8M34.5 157.3l3.4 3.4M34.5 160.7l3.4 -3.4M47.5 150.2V160.7M46.1 150.2h2.8M46.1 160.7h2.8M45.8 153.8l3.4 3.4M45.8 157.2l3.4 -3.4M191.8 91.9V103.4M190.4 91.9h2.8M190.4 103.4h2.8M190.1 96.0l3.4 3.4M190.1 99.4l3.4 -3.4M47.9 146.7V157.5M46.5 146.7h2.8M46.5 157.5h2.8M46.2 150.4l3.4 3.4M46.2 153.8l3.4 -3.4"/>
<path class="e" stroke="#ff5000" d="M166.6 95.7V107.9M165.2 95.7h2.8M165.2 107.9h2.8M164.9 100.1l3.4 3.4M164.9 103.5l3.4 -3.4M41.2 151.0V161.3M39.8 151.0h2.8M39.8 161.3h2.8M39.5 154.5l3.4 3.4M39.5 157.9l3.4 -3.4M169.9 102.6V113.0M168.5 102.6h2.8M168.5 113.0h2.8M168.2 106.1l3.4 3.4M168.2 109.5l3.4 -3.4M115.0 124.1V133.4M113.6 124.1h2.8M113.6 133.4h2.8M113.3 127.0l3.4 3.4M113.3 130.4l3.4 -3.4M228.0 57.8V70.8M226.6 57.8h2.8M226.6 70.8h2.8M226.3 62.6l3.4 3.4M226.3 66.0l3.4 -3.4M175.1 90.1V102.0M173.7 90.1h2.8M173.7 102.0h2.8M173.4 94.4l3.4 3.4M173.4 97.8l3.4 -3.4"/>
<path class="e" stroke="#ff4000" d="M61.6 145.5V158.0M60.2 145.5h2.8M60.2 158.0h2.8M59.9 150.0l3.4 3.4M59.9 153.4l3.4 -3.4M182.4 92.5V107.0M181.0 92.5h2.8M181.0 107.0h2.8M180.7 98.0l3.4 3.4M180.7 101.4l3.4 -3.4M176.8 92.3V103.7M175.4 92.3h2.8M175.4 103.7h2.8M175.1 96.3l3.4 3.4M175.1 99.7l3.4 -3.4M71.0 138.4V151.0M69.6 138.4h2.8M69.6 151.0h2.8M69.3 143.0l3.4 3.4M69.3 146.4l3.4 -3.4M140.7 109.1V121.0M139.3 109.1h2.8M139.3 121.0h2.8M139.0 113.4l3.4 3.4M139.0 116.8l3.4 -3.4"/>
<path class="e" stroke="#ff2000" d="M240.5 61.8V71.6M239.1 61.8h2.8M239.1 71.6h2.8M238.8 65.0l3.4 3.4M238.8 68.4l3.4 -3.4M141.7 107.9V121.2M140.3 107.9h2.8M140.3 121.2h2.8M140.0 112.9l3.4 3.4M140.0 116.3l3.4 -3.4M67.7 145.7V157.4M66.3 145.7h2.8M66.3 157.4h2.8M66.0 149.8l3.4 3.4M66.0 153.2l3.4 -3.4"/>
<path class="e" stroke="#ff0000" d="M184.0 92.7V104.7M182.6 92.7h2.8M182.6 104.7h2.8M182.3 97.0l3.4 3.4M182.3 100.4l3.4 -3.4M100.0 134.0V145.1M98.6 134.0h2.8M98.6 145.1h2.8M98.3 137.8l3.4 3.4M98.3 141.2l3.4 -3.4M234.6 69.0V80.7M233.2 69.0h2.8M233.2 80.7h2.8M232.9 73.1l3.4 3.4M232.9 76.5l3.4 -3.4M213.3 76.7V90.8M211.9 76.7h2.8M211.9 90.8h2.8M211.6 82.1l3.4 3.4M211.6 85.5l3.4 -3.4M180.8 93.0V103.3M179.4 93.0h2.8M179.4 103.3h2.8M179.1 96.5l3.4 3.4M179.1 99.9l3.4 -3.4"/>
<path class="e" stroke="#4a0085" d="M264.5 10.8V22.2M263.1 10.8h2.8M263.1 22.2h2.8M262.8 14.8l3.4 3.4M262.8 18.2l3.4 -3.4"/>
<path class="e" stroke="#4400a0" d="M42.5 163.0V170.0M41.1 163.0h2.8M41.1 170.0h2.8M40.8 164.8l3.4 3.4M40.8 168.2l3.4 -3.4"/>
<polyline class="dot" points="29.8,149.9 34.1,148.5 38.4,147.0 42.7,145.6 47.0,144.1 51.3,142.5 55.6,141.0 59.9,139.4 64.2,137.7 68.5,136.1 72.8,134.4 77.1,132.6 81.4,130.9 85.7,129.1 90.0,127.2 94.3,125.3 98.6,123.4 102.9,121.5 107.2,119.5 111.5,117.5 115.8,115.5 120.1,113.4 124.4,111.3 128.7,109.1 133.0,106.9 137.3,104.7 141.6,102.5 145.9,100.2 150.2,97.8 154.5,95.5 158.8,93.1 163.1,90.7 167.3,88.2 171.6,85.7 175.9,83.2 180.2,80.6 184.5,78.0 188.8,75.4 193.1,72.7 197.4,70.0 201.7,67.3 206.0,64.5 210.3,61.7 214.6,58.9 218.9,56.0 223.2,53.1 227.5,50.2 231.8,47.2 236.1,44.2 240.4,41.2 244.7,38.1 249.0,35.0 253.3,31.8 257.6,28.6 261.9,25.4 266.2,22.2 270.5,18.9 274.8,15.6 279.1,12.2 283.4,8.8"/>
<polyline class="dot" points="29.8,163.1 34.1,162.0 38.4,160.8 42.7,159.6 47.0,158.3 51.3,157.1 55.6,155.8 59.9,154.5 64.2,153.1 68.5,151.7 72.8,150.3 77.1,148.9 81.4,147.4 85.7,145.9 90.0,144.4 94.3,142.8 98.6,141.3 102.9,139.7 107.2,138.0 111.5,136.4 115.8,134.7 120.1,133.0 124.4,131.2 128.7,129.4 133.0,127.6 137.3,125.8 141.6,123.9 145.9,122.0 150.2,120.1 154.5,118.2 158.8,116.2 163.1,114.2 167.3,112.2 171.6,110.1 175.9,108.0 180.2,105.9 184.5,103.8 188.8,101.6 193.1,99.4 197.4,97.1 201.7,94.9 206.0,92.6 210.3,90.3 214.6,87.9 218.9,85.6 223.2,83.2 227.5,80.7 231.8,78.3 236.1,75.8 240.4,73.3 244.7,70.7 249.0,68.2 253.3,65.6 257.6,62.9 261.9,60.3 266.2,57.6 270.5,54.9 274.8,52.1 279.1,49.4 283.4,46.6"/>
<polyline fill="none" stroke="#000" stroke-width="0.95" points="29.8,156.5 34.1,155.2 38.4,153.9 42.7,152.6 47.0,151.2 51.3,149.8 55.6,148.4 59.9,146.9 64.2,145.4 68.5,143.9 72.8,142.3 77.1,140.8 81.4,139.1 85.7,137.5 90.0,135.8 94.3,134.1 98.6,132.4 102.9,130.6 107.2,128.8 111.5,126.9 115.8,125.1 120.1,123.2 124.4,121.2 128.7,119.3 133.0,117.3 137.3,115.2 141.6,113.2 145.9,111.1 150.2,109.0 154.5,106.8 158.8,104.6 163.1,102.4 167.3,100.2 171.6,97.9 175.9,95.6 180.2,93.3 184.5,90.9 188.8,88.5 193.1,86.1 197.4,83.6 201.7,81.1 206.0,78.6 210.3,76.0 214.6,73.4 218.9,70.8 223.2,68.1 227.5,65.5 231.8,62.7 236.1,60.0 240.4,57.2 244.7,54.4 249.0,51.6 253.3,48.7 257.6,45.8 261.9,42.9 266.2,39.9 270.5,36.9 274.8,33.9 279.1,30.8 283.4,27.7"/>
</svg>
<svg x="329.6" y="1.0" width="236.7" height="175.0" viewBox="329.6 1.0 236.7 175.0" overflow="hidden">
<path class="e" stroke="#2a0530" d="M357.4 127.0V147.0M356.0 127.0h2.8M356.0 147.0h2.8M355.7 135.3l3.4 3.4M355.7 138.7l3.4 -3.4M553.0 58.0V88.2M551.6 58.0h2.8M551.6 88.2h2.8M551.3 71.4l3.4 3.4M551.3 74.8l3.4 -3.4M479.4 61.1V95.9M478.0 61.1h2.8M478.0 95.9h2.8M477.7 76.8l3.4 3.4M477.7 80.2l3.4 -3.4M409.1 99.7V127.4M407.7 99.7h2.8M407.7 127.4h2.8M407.4 111.9l3.4 3.4M407.4 115.3l3.4 -3.4"/>
<path class="e" stroke="#3a0545" d="M549.8 77.3V111.1M548.4 77.3h2.8M548.4 111.1h2.8M548.1 92.5l3.4 3.4M548.1 95.9l3.4 -3.4M554.1 69.7V96.4M552.7 69.7h2.8M552.7 96.4h2.8M552.4 81.4l3.4 3.4M552.4 84.8l3.4 -3.4M517.2 14.8V54.0M515.8 14.8h2.8M515.8 54.0h2.8M515.5 32.7l3.4 3.4M515.5 36.1l3.4 -3.4M553.9 100.3V139.2M552.5 100.3h2.8M552.5 139.2h2.8M552.2 118.1l3.4 3.4M552.2 121.5l3.4 -3.4"/>
<path class="e" stroke="#4a0060" d="M418.1 128.6V165.3M416.7 128.6h2.8M416.7 165.3h2.8M416.4 145.3l3.4 3.4M416.4 148.7l3.4 -3.4M416.0 118.0V140.2M414.6 118.0h2.8M414.6 140.2h2.8M414.3 127.4l3.4 3.4M414.3 130.8l3.4 -3.4M435.0 79.3V117.4M433.6 79.3h2.8M433.6 117.4h2.8M433.3 96.7l3.4 3.4M433.3 100.1l3.4 -3.4M330.3 115.3V143.3M328.9 115.3h2.8M328.9 143.3h2.8M328.6 127.6l3.4 3.4M328.6 131.0l3.4 -3.4M373.0 90.0V108.4M371.6 90.0h2.8M371.6 108.4h2.8M371.3 97.5l3.4 3.4M371.3 100.9l3.4 -3.4M460.5 105.3V137.5M459.1 105.3h2.8M459.1 137.5h2.8M458.8 119.7l3.4 3.4M458.8 123.1l3.4 -3.4"/>
<path class="e" stroke="#50006a" d="M362.4 82.2V114.6M361.0 82.2h2.8M361.0 114.6h2.8M360.7 96.7l3.4 3.4M360.7 100.1l3.4 -3.4M462.9 82.1V104.6M461.5 82.1h2.8M461.5 104.6h2.8M461.2 91.6l3.4 3.4M461.2 95.0l3.4 -3.4M534.5 32.0V72.1M533.1 32.0h2.8M533.1 72.1h2.8M532.8 50.4l3.4 3.4M532.8 53.8l3.4 -3.4M444.4 104.9V129.2M443.0 104.9h2.8M443.0 129.2h2.8M442.7 115.4l3.4 3.4M442.7 118.8l3.4 -3.4M377.4 100.1V128.8M376.0 100.1h2.8M376.0 128.8h2.8M375.7 112.8l3.4 3.4M375.7 116.2l3.4 -3.4M546.4 5.9V42.1M545.0 5.9h2.8M545.0 42.1h2.8M544.7 22.3l3.4 3.4M544.7 25.7l3.4 -3.4M346.5 82.9V106.6M345.1 82.9h2.8M345.1 106.6h2.8M344.8 93.0l3.4 3.4M344.8 96.4l3.4 -3.4M535.3 60.3V87.7M533.9 60.3h2.8M533.9 87.7h2.8M533.6 72.3l3.4 3.4M533.6 75.7l3.4 -3.4M550.9 79.3V111.9M549.5 79.3h2.8M549.5 111.9h2.8M549.2 93.9l3.4 3.4M549.2 97.3l3.4 -3.4M372.0 111.0V138.4M370.6 111.0h2.8M370.6 138.4h2.8M370.3 123.0l3.4 3.4M370.3 126.4l3.4 -3.4"/>
<path class="e" stroke="#550075" d="M528.9 65.9V100.8M527.5 65.9h2.8M527.5 100.8h2.8M527.2 81.6l3.4 3.4M527.2 85.0l3.4 -3.4M550.6 78.3V124.1M549.2 78.3h2.8M549.2 124.1h2.8M548.9 99.5l3.4 3.4M548.9 102.9l3.4 -3.4M352.5 125.3V153.0M351.1 125.3h2.8M351.1 153.0h2.8M350.8 137.5l3.4 3.4M350.8 140.9l3.4 -3.4M475.3 74.7V112.9M473.9 74.7h2.8M473.9 112.9h2.8M473.6 92.1l3.4 3.4M473.6 95.5l3.4 -3.4M535.9 95.0V129.6M534.5 95.0h2.8M534.5 129.6h2.8M534.2 110.6l3.4 3.4M534.2 114.0l3.4 -3.4M475.5 86.9V112.3M474.1 86.9h2.8M474.1 112.3h2.8M473.8 97.9l3.4 3.4M473.8 101.3l3.4 -3.4M364.6 95.3V114.7M363.2 95.3h2.8M363.2 114.7h2.8M362.9 103.3l3.4 3.4M362.9 106.7l3.4 -3.4M458.9 100.9V128.6M457.5 100.9h2.8M457.5 128.6h2.8M457.2 113.1l3.4 3.4M457.2 116.5l3.4 -3.4M353.0 110.8V134.3M351.6 110.8h2.8M351.6 134.3h2.8M351.3 120.8l3.4 3.4M351.3 124.2l3.4 -3.4M438.2 122.1V153.6M436.8 122.1h2.8M436.8 153.6h2.8M436.5 136.1l3.4 3.4M436.5 139.5l3.4 -3.4M382.5 94.7V118.8M381.1 94.7h2.8M381.1 118.8h2.8M380.8 105.1l3.4 3.4M380.8 108.5l3.4 -3.4"/>
<path class="e" stroke="#4a0085" d="M453.9 60.9V87.0M452.5 60.9h2.8M452.5 87.0h2.8M452.2 72.3l3.4 3.4M452.2 75.7l3.4 -3.4M334.3 93.8V110.9M332.9 93.8h2.8M332.9 110.9h2.8M332.6 100.7l3.4 3.4M332.6 104.1l3.4 -3.4M561.7 46.0V87.8M560.3 46.0h2.8M560.3 87.8h2.8M560.0 65.2l3.4 3.4M560.0 68.6l3.4 -3.4M567.2 51.1V77.8M565.8 51.1h2.8M565.8 77.8h2.8M565.5 62.8l3.4 3.4M565.5 66.2l3.4 -3.4M549.8 81.7V112.5M548.4 81.7h2.8M548.4 112.5h2.8M548.1 95.4l3.4 3.4M548.1 98.8l3.4 -3.4M567.7 37.7V82.6M566.3 37.7h2.8M566.3 82.6h2.8M566.0 58.4l3.4 3.4M566.0 61.8l3.4 -3.4"/>
<path class="e" stroke="#4400a0" d="M507.5 33.9V74.6M506.1 33.9h2.8M506.1 74.6h2.8M505.8 52.6l3.4 3.4M505.8 56.0l3.4 -3.4M372.3 82.9V114.2M370.9 82.9h2.8M370.9 114.2h2.8M370.6 96.9l3.4 3.4M370.6 100.3l3.4 -3.4M328.6 117.2V132.7M327.2 117.2h2.8M327.2 132.7h2.8M326.9 123.3l3.4 3.4M326.9 126.7l3.4 -3.4M406.8 133.5V153.1M405.4 133.5h2.8M405.4 153.1h2.8M405.1 141.6l3.4 3.4M405.1 145.0l3.4 -3.4M505.8 61.2V84.4M504.4 61.2h2.8M504.4 84.4h2.8M504.1 71.1l3.4 3.4M504.1 74.5l3.4 -3.4M435.4 98.3V120.2M434.0 98.3h2.8M434.0 120.2h2.8M433.7 107.6l3.4 3.4M433.7 111.0l3.4 -3.4M357.8 97.9V117.1M356.4 97.9h2.8M356.4 117.1h2.8M356.1 105.8l3.4 3.4M356.1 109.2l3.4 -3.4M477.3 54.8V81.0M475.9 54.8h2.8M475.9 81.0h2.8M475.6 66.2l3.4 3.4M475.6 69.6l3.4 -3.4M348.2 120.0V141.3M346.8 120.0h2.8M346.8 141.3h2.8M346.5 128.9l3.4 3.4M346.5 132.3l3.4 -3.4"/>
<path class="e" stroke="#3a00b8" d="M491.3 48.5V85.3M489.9 48.5h2.8M489.9 85.3h2.8M489.6 65.2l3.4 3.4M489.6 68.6l3.4 -3.4M511.7 69.8V99.3M510.3 69.8h2.8M510.3 99.3h2.8M510.0 82.9l3.4 3.4M510.0 86.3l3.4 -3.4M360.0 118.8V143.7M358.6 118.8h2.8M358.6 143.7h2.8M358.3 129.6l3.4 3.4M358.3 133.0l3.4 -3.4M498.2 40.7V78.9M496.8 40.7h2.8M496.8 78.9h2.8M496.5 58.1l3.4 3.4M496.5 61.5l3.4 -3.4M517.8 62.5V89.5M516.4 62.5h2.8M516.4 89.5h2.8M516.1 74.3l3.4 3.4M516.1 77.7l3.4 -3.4M499.6 66.0V107.1M498.2 66.0h2.8M498.2 107.1h2.8M497.9 84.9l3.4 3.4M497.9 88.3l3.4 -3.4"/>
<path class="e" stroke="#2800d0" d="M475.0 106.0V141.0M473.6 106.0h2.8M473.6 141.0h2.8M473.3 121.8l3.4 3.4M473.3 125.2l3.4 -3.4M543.2 75.4V115.3M541.8 75.4h2.8M541.8 115.3h2.8M541.5 93.6l3.4 3.4M541.5 97.0l3.4 -3.4M568.1 48.0V82.1M566.7 48.0h2.8M566.7 82.1h2.8M566.4 63.3l3.4 3.4M566.4 66.7l3.4 -3.4M557.6 52.1V83.3M556.2 52.1h2.8M556.2 83.3h2.8M555.9 66.0l3.4 3.4M555.9 69.4l3.4 -3.4"/>
<path class="e" stroke="#1800e8" d="M561.3 51.5V78.9M559.9 51.5h2.8M559.9 78.9h2.8M559.6 63.5l3.4 3.4M559.6 66.9l3.4 -3.4M368.9 116.5V142.6M367.5 116.5h2.8M367.5 142.6h2.8M367.2 127.9l3.4 3.4M367.2 131.3l3.4 -3.4M474.4 87.3V111.5M473.0 87.3h2.8M473.0 111.5h2.8M472.7 97.7l3.4 3.4M472.7 101.1l3.4 -3.4"/>
<path class="e" stroke="#0a00f5" d="M544.0 49.9V85.5M542.6 49.9h2.8M542.6 85.5h2.8M542.3 66.0l3.4 3.4M542.3 69.4l3.4 -3.4M395.4 145.6V172.6M394.0 145.6h2.8M394.0 172.6h2.8M393.7 157.4l3.4 3.4M393.7 160.8l3.4 -3.4M456.0 96.4V122.4M454.6 96.4h2.8M454.6 122.4h2.8M454.3 107.7l3.4 3.4M454.3 111.1l3.4 -3.4M562.9 24.5V64.5M561.5 24.5h2.8M561.5 64.5h2.8M561.2 42.8l3.4 3.4M561.2 46.2l3.4 -3.4M343.1 95.8V118.8M341.7 95.8h2.8M341.7 118.8h2.8M341.4 105.6l3.4 3.4M341.4 109.0l3.4 -3.4M501.4 91.9V111.9M500.0 91.9h2.8M500.0 111.9h2.8M499.7 100.2l3.4 3.4M499.7 103.6l3.4 -3.4M339.1 118.1V135.0M337.7 118.1h2.8M337.7 135.0h2.8M337.4 124.8l3.4 3.4M337.4 128.2l3.4 -3.4M512.8 78.8V114.3M511.4 78.8h2.8M511.4 114.3h2.8M511.1 94.9l3.4 3.4M511.1 98.3l3.4 -3.4"/>
<path class="e" stroke="#0010ff" d="M448.9 131.5V152.5M447.5 131.5h2.8M447.5 152.5h2.8M447.2 140.3l3.4 3.4M447.2 143.7l3.4 -3.4M481.0 100.8V120.7M479.6 100.8h2.8M479.6 120.7h2.8M479.3 109.1l3.4 3.4M479.3 112.5l3.4 -3.4M377.0 95.3V111.0M375.6 95.3h2.8M375.6 111.0h2.8M375.3 101.5l3.4 3.4M375.3 104.9l3.4 -3.4M482.3 138.0V158.3M480.9 138.0h2.8M480.9 158.3h2.8M480.6 146.4l3.4 3.4M480.6 149.8l3.4 -3.4M441.6 90.6V120.0M440.2 90.6h2.8M440.2 120.0h2.8M439.9 103.6l3.4 3.4M439.9 107.0l3.4 -3.4M460.2 90.1V122.1M458.8 90.1h2.8M458.8 122.1h2.8M458.5 104.4l3.4 3.4M458.5 107.8l3.4 -3.4M344.1 125.7V139.7M342.7 125.7h2.8M342.7 139.7h2.8M342.4 131.0l3.4 3.4M342.4 134.4l3.4 -3.4M328.9 81.4V96.9M327.5 81.4h2.8M327.5 96.9h2.8M327.2 87.5l3.4 3.4M327.2 90.9l3.4 -3.4M534.9 71.4V95.9M533.5 71.4h2.8M533.5 95.9h2.8M533.2 82.0l3.4 3.4M533.2 85.4l3.4 -3.4M364.8 112.5V126.3M363.4 112.5h2.8M363.4 126.3h2.8M363.1 117.7l3.4 3.4M363.1 121.1l3.4 -3.4M394.2 118.4V143.5M392.8 118.4h2.8M392.8 143.5h2.8M392.5 129.3l3.4 3.4M392.5 132.7l3.4 -3.4M489.9 92.4V119.7M488.5 92.4h2.8M488.5 119.7h2.8M488.2 104.3l3.4 3.4M488.2 107.7l3.4 -3.4M498.0 54.2V71.9M496.6 54.2h2.8M496.6 71.9h2.8M496.3 61.4l3.4 3.4M496.3 64.8l3.4 -3.4"/>
<path class="e" stroke="#0030ff" d="M461.5 122.6V140.3M460.1 122.6h2.8M460.1 140.3h2.8M459.8 129.8l3.4 3.4M459.8 133.2l3.4 -3.4M406.2 56.9V74.4M404.8 56.9h2.8M404.8 74.4h2.8M404.5 64.0l3.4 3.4M404.5 67.4l3.4 -3.4M378.9 110.7V133.8M377.5 110.7h2.8M377.5 133.8h2.8M377.2 120.5l3.4 3.4M377.2 123.9l3.4 -3.4M564.3 105.9V138.0M562.9 105.9h2.8M562.9 138.0h2.8M562.6 120.2l3.4 3.4M562.6 123.6l3.4 -3.4M469.4 71.5V99.0M468.0 71.5h2.8M468.0 99.0h2.8M467.7 83.6l3.4 3.4M467.7 87.0l3.4 -3.4M333.2 118.8V134.7M331.8 118.8h2.8M331.8 134.7h2.8M331.5 125.0l3.4 3.4M331.5 128.4l3.4 -3.4M566.5 56.4V81.5M565.1 56.4h2.8M565.1 81.5h2.8M564.8 67.3l3.4 3.4M564.8 70.7l3.4 -3.4M510.2 82.9V108.0M508.8 82.9h2.8M508.8 108.0h2.8M508.5 93.8l3.4 3.4M508.5 97.2l3.4 -3.4M371.4 121.3V134.9M370.0 121.3h2.8M370.0 134.9h2.8M369.7 126.4l3.4 3.4M369.7 129.8l3.4 -3.4M385.3 109.4V122.8M383.9 109.4h2.8M383.9 122.8h2.8M383.6 114.4l3.4 3.4M383.6 117.8l3.4 -3.4M360.8 112.6V129.7M359.4 112.6h2.8M359.4 129.7h2.8M359.1 119.4l3.4 3.4M359.1 122.8l3.4 -3.4"/>
<path class="e" stroke="#0050ff" d="M470.4 76.4V92.4M469.0 76.4h2.8M469.0 92.4h2.8M468.7 82.7l3.4 3.4M468.7 86.1l3.4 -3.4M523.0 100.4V120.0M521.6 100.4h2.8M521.6 120.0h2.8M521.3 108.5l3.4 3.4M521.3 111.9l3.4 -3.4M391.2 110.8V126.4M389.8 110.8h2.8M389.8 126.4h2.8M389.5 116.9l3.4 3.4M389.5 120.3l3.4 -3.4M559.2 75.1V107.8M557.8 75.1h2.8M557.8 107.8h2.8M557.5 89.8l3.4 3.4M557.5 93.2l3.4 -3.4M370.7 107.3V121.0M369.3 107.3h2.8M369.3 121.0h2.8M369.0 112.5l3.4 3.4M369.0 115.9l3.4 -3.4M393.3 96.5V109.2M391.9 96.5h2.8M391.9 109.2h2.8M391.6 101.2l3.4 3.4M391.6 104.6l3.4 -3.4M342.9 110.7V129.1M341.5 110.7h2.8M341.5 129.1h2.8M341.2 118.2l3.4 3.4M341.2 121.6l3.4 -3.4M502.3 108.6V136.1M500.9 108.6h2.8M500.9 136.1h2.8M500.6 120.6l3.4 3.4M500.6 124.0l3.4 -3.4M534.9 89.3V117.4M533.5 89.3h2.8M533.5 117.4h2.8M533.2 101.6l3.4 3.4M533.2 105.0l3.4 -3.4M345.5 122.3V134.0M344.1 122.3h2.8M344.1 134.0h2.8M343.8 126.5l3.4 3.4M343.8 129.9l3.4 -3.4M416.7 102.5V125.2M415.3 102.5h2.8M415.3 125.2h2.8M415.0 112.1l3.4 3.4M415.0 115.5l3.4 -3.4M439.9 116.6V139.8M438.5 116.6h2.8M438.5 139.8h2.8M438.2 126.5l3.4 3.4M438.2 129.9l3.4 -3.4M399.2 97.7V111.8M397.8 97.7h2.8M397.8 111.8h2.8M397.5 103.0l3.4 3.4M397.5 106.4l3.4 -3.4M543.5 74.0V102.9M542.1 74.0h2.8M542.1 102.9h2.8M541.8 86.8l3.4 3.4M541.8 90.2l3.4 -3.4M385.9 83.2V100.7M384.5 83.2h2.8M384.5 100.7h2.8M384.2 90.2l3.4 3.4M384.2 93.6l3.4 -3.4"/>
<path class="e" stroke="#0080ff" d="M415.6 112.4V132.8M414.2 112.4h2.8M414.2 132.8h2.8M413.9 120.9l3.4 3.4M413.9 124.3l3.4 -3.4M447.8 115.4V128.3M446.4 115.4h2.8M446.4 128.3h2.8M446.1 120.2l3.4 3.4M446.1 123.6l3.4 -3.4M555.9 77.7V104.9M554.5 77.7h2.8M554.5 104.9h2.8M554.2 89.6l3.4 3.4M554.2 93.0l3.4 -3.4M439.9 80.4V96.8M438.5 80.4h2.8M438.5 96.8h2.8M438.2 86.9l3.4 3.4M438.2 90.3l3.4 -3.4M423.5 88.9V109.8M422.1 88.9h2.8M422.1 109.8h2.8M421.8 97.7l3.4 3.4M421.8 101.1l3.4 -3.4M351.4 95.0V109.9M350.0 95.0h2.8M350.0 109.9h2.8M349.7 100.7l3.4 3.4M349.7 104.1l3.4 -3.4M374.0 90.6V102.4M372.6 90.6h2.8M372.6 102.4h2.8M372.3 94.8l3.4 3.4M372.3 98.2l3.4 -3.4M506.9 79.5V97.2M505.5 79.5h2.8M505.5 97.2h2.8M505.2 86.6l3.4 3.4M505.2 90.0l3.4 -3.4M511.4 100.4V118.3M510.0 100.4h2.8M510.0 118.3h2.8M509.7 107.6l3.4 3.4M509.7 111.0l3.4 -3.4M402.0 79.1V99.2M400.6 79.1h2.8M400.6 99.2h2.8M400.3 87.4l3.4 3.4M400.3 90.8l3.4 -3.4M440.3 84.4V105.3M438.9 84.4h2.8M438.9 105.3h2.8M438.6 93.1l3.4 3.4M438.6 96.5l3.4 -3.4M375.9 119.9V133.9M374.5 119.9h2.8M374.5 133.9h2.8M374.2 125.2l3.4 3.4M374.2 128.6l3.4 -3.4M331.0 107.9V116.5M329.6 107.9h2.8M329.6 116.5h2.8M329.3 110.5l3.4 3.4M329.3 113.9l3.4 -3.4M490.8 71.2V88.5M489.4 71.2h2.8M489.4 88.5h2.8M489.1 78.2l3.4 3.4M489.1 81.6l3.4 -3.4"/>
<path class="e" stroke="#0090ff" d="M480.6 81.1V99.6M479.2 81.1h2.8M479.2 99.6h2.8M478.9 88.6l3.4 3.4M478.9 92.0l3.4 -3.4M359.8 115.7V132.1M358.4 115.7h2.8M358.4 132.1h2.8M358.1 122.2l3.4 3.4M358.1 125.6l3.4 -3.4M412.8 102.9V118.2M411.4 102.9h2.8M411.4 118.2h2.8M411.1 108.8l3.4 3.4M411.1 112.2l3.4 -3.4M564.4 62.6V79.2M563.0 62.6h2.8M563.0 79.2h2.8M562.7 69.2l3.4 3.4M562.7 72.6l3.4 -3.4M507.9 93.0V106.7M506.5 93.0h2.8M506.5 106.7h2.8M506.2 98.2l3.4 3.4M506.2 101.6l3.4 -3.4M370.2 120.6V134.5M368.8 120.6h2.8M368.8 134.5h2.8M368.5 125.9l3.4 3.4M368.5 129.3l3.4 -3.4M327.0 117.1V129.7M325.6 117.1h2.8M325.6 129.7h2.8M325.3 121.7l3.4 3.4M325.3 125.1l3.4 -3.4M417.0 101.8V114.0M415.6 101.8h2.8M415.6 114.0h2.8M415.3 106.2l3.4 3.4M415.3 109.6l3.4 -3.4M406.1 85.6V101.2M404.7 85.6h2.8M404.7 101.2h2.8M404.4 91.7l3.4 3.4M404.4 95.1l3.4 -3.4M424.0 116.6V129.5M422.6 116.6h2.8M422.6 129.5h2.8M422.3 121.4l3.4 3.4M422.3 124.8l3.4 -3.4M378.7 107.5V117.0M377.3 107.5h2.8M377.3 117.0h2.8M377.0 110.6l3.4 3.4M377.0 114.0l3.4 -3.4M534.7 92.7V109.2M533.3 92.7h2.8M533.3 109.2h2.8M533.0 99.2l3.4 3.4M533.0 102.6l3.4 -3.4M393.6 111.7V127.4M392.2 111.7h2.8M392.2 127.4h2.8M391.9 117.8l3.4 3.4M391.9 121.2l3.4 -3.4M490.7 65.2V83.9M489.3 65.2h2.8M489.3 83.9h2.8M489.0 72.9l3.4 3.4M489.0 76.3l3.4 -3.4M425.9 99.8V113.9M424.5 99.8h2.8M424.5 113.9h2.8M424.2 105.2l3.4 3.4M424.2 108.6l3.4 -3.4M425.5 97.4V111.0M424.1 97.4h2.8M424.1 111.0h2.8M423.8 102.5l3.4 3.4M423.8 105.9l3.4 -3.4"/>
<path class="e" stroke="#00a0ff" d="M476.6 68.9V90.3M475.2 68.9h2.8M475.2 90.3h2.8M474.9 77.9l3.4 3.4M474.9 81.3l3.4 -3.4M507.6 67.4V85.6M506.2 67.4h2.8M506.2 85.6h2.8M505.9 74.8l3.4 3.4M505.9 78.2l3.4 -3.4M369.4 116.0V128.0M368.0 116.0h2.8M368.0 128.0h2.8M367.7 120.3l3.4 3.4M367.7 123.7l3.4 -3.4M557.6 49.2V67.0M556.2 49.2h2.8M556.2 67.0h2.8M555.9 56.4l3.4 3.4M555.9 59.8l3.4 -3.4M351.2 101.6V115.7M349.8 101.6h2.8M349.8 115.7h2.8M349.5 106.9l3.4 3.4M349.5 110.3l3.4 -3.4M397.2 97.6V114.5M395.8 97.6h2.8M395.8 114.5h2.8M395.5 104.3l3.4 3.4M395.5 107.7l3.4 -3.4M353.6 105.3V120.5M352.2 105.3h2.8M352.2 120.5h2.8M351.9 111.2l3.4 3.4M351.9 114.6l3.4 -3.4M481.0 67.5V79.4M479.6 67.5h2.8M479.6 79.4h2.8M479.3 71.8l3.4 3.4M479.3 75.2l3.4 -3.4"/>
<path class="e" stroke="#00b0ff" d="M403.4 99.1V110.3M402.0 99.1h2.8M402.0 110.3h2.8M401.7 103.0l3.4 3.4M401.7 106.4l3.4 -3.4M531.6 87.2V103.6M530.2 87.2h2.8M530.2 103.6h2.8M529.9 93.7l3.4 3.4M529.9 97.1l3.4 -3.4M395.5 108.4V123.0M394.1 108.4h2.8M394.1 123.0h2.8M393.8 114.0l3.4 3.4M393.8 117.4l3.4 -3.4M372.4 103.5V115.5M371.0 103.5h2.8M371.0 115.5h2.8M370.7 107.8l3.4 3.4M370.7 111.2l3.4 -3.4M391.3 86.5V102.7M389.9 86.5h2.8M389.9 102.7h2.8M389.6 92.9l3.4 3.4M389.6 96.3l3.4 -3.4M505.3 87.1V106.7M503.9 87.1h2.8M503.9 106.7h2.8M503.6 95.2l3.4 3.4M503.6 98.6l3.4 -3.4M515.4 50.0V64.2M514.0 50.0h2.8M514.0 64.2h2.8M513.7 55.4l3.4 3.4M513.7 58.8l3.4 -3.4M511.2 86.4V100.3M509.8 86.4h2.8M509.8 100.3h2.8M509.5 91.6l3.4 3.4M509.5 95.0l3.4 -3.4"/>
<path class="e" stroke="#00c8ff" d="M510.3 74.3V89.3M508.9 74.3h2.8M508.9 89.3h2.8M508.6 80.1l3.4 3.4M508.6 83.5l3.4 -3.4M528.7 68.1V89.8M527.3 68.1h2.8M527.3 89.8h2.8M527.0 77.3l3.4 3.4M527.0 80.7l3.4 -3.4M514.8 78.6V96.1M513.4 78.6h2.8M513.4 96.1h2.8M513.1 85.7l3.4 3.4M513.1 89.1l3.4 -3.4M469.0 61.7V75.1M467.6 61.7h2.8M467.6 75.1h2.8M467.3 66.7l3.4 3.4M467.3 70.1l3.4 -3.4M397.0 106.7V119.1M395.6 106.7h2.8M395.6 119.1h2.8M395.3 111.2l3.4 3.4M395.3 114.6l3.4 -3.4M377.9 91.6V105.6M376.5 91.6h2.8M376.5 105.6h2.8M376.2 96.9l3.4 3.4M376.2 100.3l3.4 -3.4M523.3 66.9V83.5M521.9 66.9h2.8M521.9 83.5h2.8M521.6 73.5l3.4 3.4M521.6 76.9l3.4 -3.4M382.7 109.0V119.8M381.3 109.0h2.8M381.3 119.8h2.8M381.0 112.7l3.4 3.4M381.0 116.1l3.4 -3.4M506.2 85.2V95.7M504.8 85.2h2.8M504.8 95.7h2.8M504.5 88.7l3.4 3.4M504.5 92.1l3.4 -3.4M413.1 111.7V123.2M411.7 111.7h2.8M411.7 123.2h2.8M411.4 115.8l3.4 3.4M411.4 119.2l3.4 -3.4M411.4 109.3V124.8M410.0 109.3h2.8M410.0 124.8h2.8M409.7 115.3l3.4 3.4M409.7 118.7l3.4 -3.4M337.7 107.2V117.1M336.3 107.2h2.8M336.3 117.1h2.8M336.0 110.4l3.4 3.4M336.0 113.8l3.4 -3.4"/>
<path class="e" stroke="#00f0ff" d="M520.0 53.3V69.2M518.6 53.3h2.8M518.6 69.2h2.8M518.3 59.5l3.4 3.4M518.3 62.9l3.4 -3.4M415.9 99.2V107.7M414.5 99.2h2.8M414.5 107.7h2.8M414.2 101.8l3.4 3.4M414.2 105.2l3.4 -3.4M553.5 59.1V76.0M552.1 59.1h2.8M552.1 76.0h2.8M551.8 65.9l3.4 3.4M551.8 69.3l3.4 -3.4M454.9 111.1V121.6M453.5 111.1h2.8M453.5 121.6h2.8M453.2 114.6l3.4 3.4M453.2 118.0l3.4 -3.4M391.5 100.3V108.6M390.1 100.3h2.8M390.1 108.6h2.8M389.8 102.7l3.4 3.4M389.8 106.1l3.4 -3.4M440.0 89.4V100.1M438.6 89.4h2.8M438.6 100.1h2.8M438.3 93.0l3.4 3.4M438.3 96.4l3.4 -3.4M386.1 103.5V113.3M384.7 103.5h2.8M384.7 113.3h2.8M384.4 106.7l3.4 3.4M384.4 110.1l3.4 -3.4M517.7 80.7V93.6M516.3 80.7h2.8M516.3 93.6h2.8M516.0 85.5l3.4 3.4M516.0 88.9l3.4 -3.4M445.7 92.8V108.7M444.3 92.8h2.8M444.3 108.7h2.8M444.0 99.0l3.4 3.4M444.0 102.4l3.4 -3.4M426.8 85.1V99.9M425.4 85.1h2.8M425.4 99.9h2.8M425.1 90.8l3.4 3.4M425.1 94.2l3.4 -3.4M395.7 110.5V124.2M394.3 110.5h2.8M394.3 124.2h2.8M394.0 115.7l3.4 3.4M394.0 119.1l3.4 -3.4M337.8 113.0V120.1M336.4 113.0h2.8M336.4 120.1h2.8M336.1 114.9l3.4 3.4M336.1 118.3l3.4 -3.4M455.4 100.1V110.9M454.0 100.1h2.8M454.0 110.9h2.8M453.7 103.8l3.4 3.4M453.7 107.2l3.4 -3.4M414.3 116.8V126.0M412.9 116.8h2.8M412.9 126.0h2.8M412.6 119.7l3.4 3.4M412.6 123.1l3.4 -3.4M341.5 119.0V129.8M340.1 119.0h2.8M340.1 129.8h2.8M339.8 122.7l3.4 3.4M339.8 126.1l3.4 -3.4M405.4 81.7V92.8M404.0 81.7h2.8M404.0 92.8h2.8M403.7 85.6l3.4 3.4M403.7 89.0l3.4 -3.4M395.0 110.5V123.0M393.6 110.5h2.8M393.6 123.0h2.8M393.3 115.1l3.4 3.4M393.3 118.5l3.4 -3.4M401.2 96.4V109.2M399.8 96.4h2.8M399.8 109.2h2.8M399.5 101.1l3.4 3.4M399.5 104.5l3.4 -3.4"/>
<path class="e" stroke="#00ffd8" d="M476.4 94.5V103.5M475.0 94.5h2.8M475.0 103.5h2.8M474.7 97.3l3.4 3.4M474.7 100.7l3.4 -3.4M385.9 96.8V109.4M384.5 96.8h2.8M384.5 109.4h2.8M384.2 101.4l3.4 3.4M384.2 104.8l3.4 -3.4M480.8 87.6V103.1M479.4 87.6h2.8M479.4 103.1h2.8M479.1 93.6l3.4 3.4M479.1 97.0l3.4 -3.4M433.3 90.8V100.7M431.9 90.8h2.8M431.9 100.7h2.8M431.6 94.0l3.4 3.4M431.6 97.4l3.4 -3.4M465.8 89.0V100.3M464.4 89.0h2.8M464.4 100.3h2.8M464.1 93.0l3.4 3.4M464.1 96.4l3.4 -3.4M446.4 93.6V102.7M445.0 93.6h2.8M445.0 102.7h2.8M444.7 96.5l3.4 3.4M444.7 99.9l3.4 -3.4M406.3 83.6V96.4M404.9 83.6h2.8M404.9 96.4h2.8M404.6 88.3l3.4 3.4M404.6 91.7l3.4 -3.4M367.7 105.4V115.2M366.3 105.4h2.8M366.3 115.2h2.8M366.0 108.6l3.4 3.4M366.0 112.0l3.4 -3.4M409.8 95.6V105.1M408.4 95.6h2.8M408.4 105.1h2.8M408.1 98.6l3.4 3.4M408.1 102.0l3.4 -3.4M345.9 105.0V112.3M344.5 105.0h2.8M344.5 112.3h2.8M344.2 106.9l3.4 3.4M344.2 110.3l3.4 -3.4M506.5 64.6V77.3M505.1 64.6h2.8M505.1 77.3h2.8M504.8 69.2l3.4 3.4M504.8 72.6l3.4 -3.4M492.6 67.9V85.1M491.2 67.9h2.8M491.2 85.1h2.8M490.9 74.8l3.4 3.4M490.9 78.2l3.4 -3.4M518.4 61.8V76.2M517.0 61.8h2.8M517.0 76.2h2.8M516.7 67.3l3.4 3.4M516.7 70.7l3.4 -3.4M365.5 105.1V117.6M364.1 105.1h2.8M364.1 117.6h2.8M363.8 109.7l3.4 3.4M363.8 113.1l3.4 -3.4M549.4 83.7V101.7M548.0 83.7h2.8M548.0 101.7h2.8M547.7 91.0l3.4 3.4M547.7 94.4l3.4 -3.4M439.0 91.2V103.4M437.6 91.2h2.8M437.6 103.4h2.8M437.3 95.6l3.4 3.4M437.3 99.0l3.4 -3.4M540.7 60.9V77.9M539.3 60.9h2.8M539.3 77.9h2.8M539.0 67.7l3.4 3.4M539.0 71.1l3.4 -3.4"/>
<path class="e" stroke="#00ffc0" d="M497.7 85.5V102.6M496.3 85.5h2.8M496.3 102.6h2.8M496.0 92.3l3.4 3.4M496.0 95.7l3.4 -3.4M414.7 90.4V105.3M413.3 90.4h2.8M413.3 105.3h2.8M413.0 96.2l3.4 3.4M413.0 99.6l3.4 -3.4M337.2 94.7V102.0M335.8 94.7h2.8M335.8 102.0h2.8M335.5 96.6l3.4 3.4M335.5 100.0l3.4 -3.4M542.4 74.4V93.6M541.0 74.4h2.8M541.0 93.6h2.8M540.7 82.3l3.4 3.4M540.7 85.7l3.4 -3.4M534.5 53.9V67.9M533.1 53.9h2.8M533.1 67.9h2.8M532.8 59.2l3.4 3.4M532.8 62.6l3.4 -3.4M509.5 55.9V72.0M508.1 55.9h2.8M508.1 72.0h2.8M507.8 62.3l3.4 3.4M507.8 65.7l3.4 -3.4M531.1 73.1V89.1M529.7 73.1h2.8M529.7 89.1h2.8M529.4 79.4l3.4 3.4M529.4 82.8l3.4 -3.4M381.8 93.6V104.2M380.4 93.6h2.8M380.4 104.2h2.8M380.1 97.2l3.4 3.4M380.1 100.6l3.4 -3.4"/>
<path class="e" stroke="#00ffa0" d="M400.7 104.0V115.3M399.3 104.0h2.8M399.3 115.3h2.8M399.0 107.9l3.4 3.4M399.0 111.3l3.4 -3.4M519.1 66.0V83.7M517.7 66.0h2.8M517.7 83.7h2.8M517.4 73.1l3.4 3.4M517.4 76.5l3.4 -3.4M380.0 100.2V112.4M378.6 100.2h2.8M378.6 112.4h2.8M378.3 104.6l3.4 3.4M378.3 108.0l3.4 -3.4M383.6 103.5V113.5M382.2 103.5h2.8M382.2 113.5h2.8M381.9 106.8l3.4 3.4M381.9 110.2l3.4 -3.4M442.7 86.1V100.2M441.3 86.1h2.8M441.3 100.2h2.8M441.0 91.4l3.4 3.4M441.0 94.8l3.4 -3.4M474.4 81.3V90.2M473.0 81.3h2.8M473.0 90.2h2.8M472.7 84.0l3.4 3.4M472.7 87.4l3.4 -3.4M370.2 99.3V110.8M368.8 99.3h2.8M368.8 110.8h2.8M368.5 103.4l3.4 3.4M368.5 106.8l3.4 -3.4M421.7 95.7V104.8M420.3 95.7h2.8M420.3 104.8h2.8M420.0 98.5l3.4 3.4M420.0 101.9l3.4 -3.4M449.5 104.8V115.0M448.1 104.8h2.8M448.1 115.0h2.8M447.8 108.2l3.4 3.4M447.8 111.6l3.4 -3.4M496.1 85.8V102.1M494.7 85.8h2.8M494.7 102.1h2.8M494.4 92.3l3.4 3.4M494.4 95.7l3.4 -3.4M331.2 99.7V110.7M329.8 99.7h2.8M329.8 110.7h2.8M329.5 103.5l3.4 3.4M329.5 106.9l3.4 -3.4M553.3 76.8V93.4M551.9 76.8h2.8M551.9 93.4h2.8M551.6 83.4l3.4 3.4M551.6 86.8l3.4 -3.4M559.2 42.6V61.6M557.8 42.6h2.8M557.8 61.6h2.8M557.5 50.4l3.4 3.4M557.5 53.8l3.4 -3.4M344.5 112.2V124.6M343.1 112.2h2.8M343.1 124.6h2.8M342.8 116.7l3.4 3.4M342.8 120.1l3.4 -3.4M423.1 86.6V96.5M421.7 86.6h2.8M421.7 96.5h2.8M421.4 89.9l3.4 3.4M421.4 93.3l3.4 -3.4M367.0 112.2V119.9M365.6 112.2h2.8M365.6 119.9h2.8M365.3 114.4l3.4 3.4M365.3 117.8l3.4 -3.4M420.3 98.1V108.3M418.9 98.1h2.8M418.9 108.3h2.8M418.6 101.5l3.4 3.4M418.6 104.9l3.4 -3.4M328.6 109.8V117.9M327.2 109.8h2.8M327.2 117.9h2.8M326.9 112.2l3.4 3.4M326.9 115.6l3.4 -3.4M447.0 101.6V114.3M445.6 101.6h2.8M445.6 114.3h2.8M445.3 106.3l3.4 3.4M445.3 109.7l3.4 -3.4M491.8 83.4V94.5M490.4 83.4h2.8M490.4 94.5h2.8M490.1 87.2l3.4 3.4M490.1 90.6l3.4 -3.4M496.9 54.8V69.5M495.5 54.8h2.8M495.5 69.5h2.8M495.2 60.4l3.4 3.4M495.2 63.8l3.4 -3.4"/>
<path class="e" stroke="#00ff70" d="M326.7 114.5V124.9M325.3 114.5h2.8M325.3 124.9h2.8M325.0 118.0l3.4 3.4M325.0 121.4l3.4 -3.4M495.2 91.1V105.8M493.8 91.1h2.8M493.8 105.8h2.8M493.5 96.8l3.4 3.4M493.5 100.2l3.4 -3.4M380.2 124.8V133.1M378.8 124.8h2.8M378.8 133.1h2.8M378.5 127.2l3.4 3.4M378.5 130.6l3.4 -3.4M332.6 108.5V117.5M331.2 108.5h2.8M331.2 117.5h2.8M330.9 111.3l3.4 3.4M330.9 114.7l3.4 -3.4M460.4 75.1V88.9M459.0 75.1h2.8M459.0 88.9h2.8M458.7 80.3l3.4 3.4M458.7 83.7l3.4 -3.4M406.2 102.3V110.6M404.8 102.3h2.8M404.8 110.6h2.8M404.5 104.7l3.4 3.4M404.5 108.1l3.4 -3.4M404.2 100.8V111.8M402.8 100.8h2.8M402.8 111.8h2.8M402.5 104.6l3.4 3.4M402.5 108.0l3.4 -3.4M336.9 119.3V128.9M335.5 119.3h2.8M335.5 128.9h2.8M335.2 122.4l3.4 3.4M335.2 125.8l3.4 -3.4M513.5 70.3V84.4M512.1 70.3h2.8M512.1 84.4h2.8M511.8 75.7l3.4 3.4M511.8 79.1l3.4 -3.4M356.1 109.8V117.9M354.7 109.8h2.8M354.7 117.9h2.8M354.4 112.1l3.4 3.4M354.4 115.5l3.4 -3.4M505.1 67.1V81.3M503.7 67.1h2.8M503.7 81.3h2.8M503.4 72.5l3.4 3.4M503.4 75.9l3.4 -3.4M403.9 106.9V117.1M402.5 106.9h2.8M402.5 117.1h2.8M402.2 110.3l3.4 3.4M402.2 113.7l3.4 -3.4M557.2 79.7V94.0M555.8 79.7h2.8M555.8 94.0h2.8M555.5 85.1l3.4 3.4M555.5 88.5l3.4 -3.4M387.6 105.2V114.4M386.2 105.2h2.8M386.2 114.4h2.8M385.9 108.1l3.4 3.4M385.9 111.5l3.4 -3.4M404.1 90.4V98.4M402.7 90.4h2.8M402.7 98.4h2.8M402.4 92.7l3.4 3.4M402.4 96.1l3.4 -3.4M349.6 100.7V108.5M348.2 100.7h2.8M348.2 108.5h2.8M347.9 102.9l3.4 3.4M347.9 106.3l3.4 -3.4M464.7 93.6V109.0M463.3 93.6h2.8M463.3 109.0h2.8M463.0 99.6l3.4 3.4M463.0 103.0l3.4 -3.4M505.1 81.8V91.5M503.7 81.8h2.8M503.7 91.5h2.8M503.4 85.0l3.4 3.4M503.4 88.4l3.4 -3.4M431.2 95.7V109.4M429.8 95.7h2.8M429.8 109.4h2.8M429.5 100.8l3.4 3.4M429.5 104.2l3.4 -3.4M354.7 106.0V114.0M353.3 106.0h2.8M353.3 114.0h2.8M353.0 108.3l3.4 3.4M353.0 111.7l3.4 -3.4M534.8 80.3V92.4M533.4 80.3h2.8M533.4 92.4h2.8M533.1 84.7l3.4 3.4M533.1 88.1l3.4 -3.4M504.2 77.8V90.2M502.8 77.8h2.8M502.8 90.2h2.8M502.5 82.3l3.4 3.4M502.5 85.7l3.4 -3.4M365.5 118.6V127.7M364.1 118.6h2.8M364.1 127.7h2.8M363.8 121.5l3.4 3.4M363.8 124.9l3.4 -3.4M525.6 53.5V71.1M524.2 53.5h2.8M524.2 71.1h2.8M523.9 60.6l3.4 3.4M523.9 64.0l3.4 -3.4M523.5 92.6V106.2M522.1 92.6h2.8M522.1 106.2h2.8M521.8 97.7l3.4 3.4M521.8 101.1l3.4 -3.4M560.4 34.6V46.9M559.0 34.6h2.8M559.0 46.9h2.8M558.7 39.1l3.4 3.4M558.7 42.5l3.4 -3.4M449.8 77.4V88.8M448.4 77.4h2.8M448.4 88.8h2.8M448.1 81.4l3.4 3.4M448.1 84.8l3.4 -3.4M512.9 94.9V112.0M511.5 94.9h2.8M511.5 112.0h2.8M511.2 101.8l3.4 3.4M511.2 105.2l3.4 -3.4M381.4 113.5V126.8M380.0 113.5h2.8M380.0 126.8h2.8M379.7 118.4l3.4 3.4M379.7 121.8l3.4 -3.4M554.6 81.6V98.0M553.2 81.6h2.8M553.2 98.0h2.8M552.9 88.1l3.4 3.4M552.9 91.5l3.4 -3.4M440.9 82.7V91.8M439.5 82.7h2.8M439.5 91.8h2.8M439.2 85.6l3.4 3.4M439.2 89.0l3.4 -3.4M498.3 69.3V84.7M496.9 69.3h2.8M496.9 84.7h2.8M496.6 75.3l3.4 3.4M496.6 78.7l3.4 -3.4M437.0 93.4V102.5M435.6 93.4h2.8M435.6 102.5h2.8M435.3 96.2l3.4 3.4M435.3 99.6l3.4 -3.4M405.5 107.9V121.2M404.1 107.9h2.8M404.1 121.2h2.8M403.8 112.8l3.4 3.4M403.8 116.2l3.4 -3.4"/>
<path class="e" stroke="#10ff40" d="M499.8 72.0V88.1M498.4 72.0h2.8M498.4 88.1h2.8M498.1 78.3l3.4 3.4M498.1 81.7l3.4 -3.4M464.3 103.8V112.7M462.9 103.8h2.8M462.9 112.7h2.8M462.6 106.6l3.4 3.4M462.6 110.0l3.4 -3.4M357.7 118.2V125.9M356.3 118.2h2.8M356.3 125.9h2.8M356.0 120.4l3.4 3.4M356.0 123.8l3.4 -3.4M361.3 120.8V129.5M359.9 120.8h2.8M359.9 129.5h2.8M359.6 123.4l3.4 3.4M359.6 126.8l3.4 -3.4M509.4 68.5V81.4M508.0 68.5h2.8M508.0 81.4h2.8M507.7 73.2l3.4 3.4M507.7 76.6l3.4 -3.4M496.2 92.1V101.7M494.8 92.1h2.8M494.8 101.7h2.8M494.5 95.2l3.4 3.4M494.5 98.6l3.4 -3.4M485.0 92.9V109.4M483.6 92.9h2.8M483.6 109.4h2.8M483.3 99.4l3.4 3.4M483.3 102.8l3.4 -3.4M423.8 84.4V99.3M422.4 84.4h2.8M422.4 99.3h2.8M422.1 90.1l3.4 3.4M422.1 93.5l3.4 -3.4M460.7 86.3V95.8M459.3 86.3h2.8M459.3 95.8h2.8M459.0 89.4l3.4 3.4M459.0 92.8l3.4 -3.4M376.0 100.6V112.8M374.6 100.6h2.8M374.6 112.8h2.8M374.3 105.0l3.4 3.4M374.3 108.4l3.4 -3.4M384.0 114.9V122.6M382.6 114.9h2.8M382.6 122.6h2.8M382.3 117.0l3.4 3.4M382.3 120.4l3.4 -3.4M363.9 110.0V122.1M362.5 110.0h2.8M362.5 122.1h2.8M362.2 114.4l3.4 3.4M362.2 117.8l3.4 -3.4M374.7 110.7V118.0M373.3 110.7h2.8M373.3 118.0h2.8M373.0 112.7l3.4 3.4M373.0 116.1l3.4 -3.4M406.7 102.9V116.4M405.3 102.9h2.8M405.3 116.4h2.8M405.0 108.0l3.4 3.4M405.0 111.4l3.4 -3.4M350.2 123.1V134.6M348.8 123.1h2.8M348.8 134.6h2.8M348.5 127.2l3.4 3.4M348.5 130.6l3.4 -3.4M375.5 111.2V122.4M374.1 111.2h2.8M374.1 122.4h2.8M373.8 115.1l3.4 3.4M373.8 118.5l3.4 -3.4M405.6 103.4V115.9M404.2 103.4h2.8M404.2 115.9h2.8M403.9 108.0l3.4 3.4M403.9 111.4l3.4 -3.4M371.4 115.0V125.5M370.0 115.0h2.8M370.0 125.5h2.8M369.7 118.6l3.4 3.4M369.7 122.0l3.4 -3.4M417.4 83.7V97.4M416.0 83.7h2.8M416.0 97.4h2.8M415.7 88.9l3.4 3.4M415.7 92.3l3.4 -3.4M554.6 59.6V71.9M553.2 59.6h2.8M553.2 71.9h2.8M552.9 64.0l3.4 3.4M552.9 67.4l3.4 -3.4M465.7 78.4V90.1M464.3 78.4h2.8M464.3 90.1h2.8M464.0 82.6l3.4 3.4M464.0 86.0l3.4 -3.4M387.6 105.8V116.1M386.2 105.8h2.8M386.2 116.1h2.8M385.9 109.3l3.4 3.4M385.9 112.7l3.4 -3.4M394.6 100.4V113.3M393.2 100.4h2.8M393.2 113.3h2.8M392.9 105.1l3.4 3.4M392.9 108.5l3.4 -3.4"/>
<path class="e" stroke="#10ff00" d="M482.3 95.2V106.0M480.9 95.2h2.8M480.9 106.0h2.8M480.6 98.9l3.4 3.4M480.6 102.3l3.4 -3.4M519.9 79.2V95.6M518.5 79.2h2.8M518.5 95.6h2.8M518.2 85.7l3.4 3.4M518.2 89.1l3.4 -3.4M415.8 82.4V94.5M414.4 82.4h2.8M414.4 94.5h2.8M414.1 86.8l3.4 3.4M414.1 90.2l3.4 -3.4M393.1 99.8V111.1M391.7 99.8h2.8M391.7 111.1h2.8M391.4 103.7l3.4 3.4M391.4 107.1l3.4 -3.4M451.4 82.9V93.7M450.0 82.9h2.8M450.0 93.7h2.8M449.7 86.6l3.4 3.4M449.7 90.0l3.4 -3.4M558.6 82.4V94.7M557.2 82.4h2.8M557.2 94.7h2.8M556.9 86.9l3.4 3.4M556.9 90.3l3.4 -3.4M505.4 66.2V78.8M504.0 66.2h2.8M504.0 78.8h2.8M503.7 70.8l3.4 3.4M503.7 74.2l3.4 -3.4M351.0 105.8V112.5M349.6 105.8h2.8M349.6 112.5h2.8M349.3 107.4l3.4 3.4M349.3 110.8l3.4 -3.4M404.4 99.5V107.8M403.0 99.5h2.8M403.0 107.8h2.8M402.7 102.0l3.4 3.4M402.7 105.4l3.4 -3.4M419.3 90.2V103.4M417.9 90.2h2.8M417.9 103.4h2.8M417.6 95.1l3.4 3.4M417.6 98.5l3.4 -3.4M516.0 86.9V97.5M514.6 86.9h2.8M514.6 97.5h2.8M514.3 90.5l3.4 3.4M514.3 93.9l3.4 -3.4M451.3 84.2V93.1M449.9 84.2h2.8M449.9 93.1h2.8M449.6 86.9l3.4 3.4M449.6 90.3l3.4 -3.4M513.4 74.2V86.1M512.0 74.2h2.8M512.0 86.1h2.8M511.7 78.5l3.4 3.4M511.7 81.9l3.4 -3.4M391.3 97.2V104.8M389.9 97.2h2.8M389.9 104.8h2.8M389.6 99.3l3.4 3.4M389.6 102.7l3.4 -3.4M485.0 91.5V108.7M483.6 91.5h2.8M483.6 108.7h2.8M483.3 98.4l3.4 3.4M483.3 101.8l3.4 -3.4M472.1 83.3V96.9M470.7 83.3h2.8M470.7 96.9h2.8M470.4 88.4l3.4 3.4M470.4 91.8l3.4 -3.4"/>
<path class="e" stroke="#40ff10" d="M359.3 101.9V113.5M357.9 101.9h2.8M357.9 113.5h2.8M357.6 106.0l3.4 3.4M357.6 109.4l3.4 -3.4M356.8 102.3V111.8M355.4 102.3h2.8M355.4 111.8h2.8M355.1 105.4l3.4 3.4M355.1 108.8l3.4 -3.4M442.7 92.6V106.8M441.3 92.6h2.8M441.3 106.8h2.8M441.0 98.0l3.4 3.4M441.0 101.4l3.4 -3.4M361.5 122.8V129.9M360.1 122.8h2.8M360.1 129.9h2.8M359.8 124.6l3.4 3.4M359.8 128.0l3.4 -3.4M470.8 68.7V83.1M469.4 68.7h2.8M469.4 83.1h2.8M469.1 74.2l3.4 3.4M469.1 77.6l3.4 -3.4M521.2 101.0V114.4M519.8 101.0h2.8M519.8 114.4h2.8M519.5 106.0l3.4 3.4M519.5 109.4l3.4 -3.4M487.5 83.9V97.6M486.1 83.9h2.8M486.1 97.6h2.8M485.8 89.1l3.4 3.4M485.8 92.5l3.4 -3.4M452.7 92.8V101.2M451.3 92.8h2.8M451.3 101.2h2.8M451.0 95.3l3.4 3.4M451.0 98.7l3.4 -3.4M355.7 125.5V133.0M354.3 125.5h2.8M354.3 133.0h2.8M354.0 127.5l3.4 3.4M354.0 130.9l3.4 -3.4M340.9 131.5V142.6M339.5 131.5h2.8M339.5 142.6h2.8M339.2 135.4l3.4 3.4M339.2 138.8l3.4 -3.4M455.1 82.8V98.8M453.7 82.8h2.8M453.7 98.8h2.8M453.4 89.1l3.4 3.4M453.4 92.5l3.4 -3.4M540.6 71.8V86.1M539.2 71.8h2.8M539.2 86.1h2.8M538.9 77.2l3.4 3.4M538.9 80.6l3.4 -3.4M466.9 105.5V121.9M465.5 105.5h2.8M465.5 121.9h2.8M465.2 112.0l3.4 3.4M465.2 115.4l3.4 -3.4M392.4 99.0V110.6M391.0 99.0h2.8M391.0 110.6h2.8M390.7 103.1l3.4 3.4M390.7 106.5l3.4 -3.4M472.5 78.2V94.4M471.1 78.2h2.8M471.1 94.4h2.8M470.8 84.6l3.4 3.4M470.8 88.0l3.4 -3.4M529.2 71.2V86.1M527.8 71.2h2.8M527.8 86.1h2.8M527.5 77.0l3.4 3.4M527.5 80.4l3.4 -3.4M348.2 105.6V114.9M346.8 105.6h2.8M346.8 114.9h2.8M346.5 108.5l3.4 3.4M346.5 111.9l3.4 -3.4"/>
<path class="e" stroke="#60ff10" d="M331.6 108.7V119.4M330.2 108.7h2.8M330.2 119.4h2.8M329.9 112.3l3.4 3.4M329.9 115.7l3.4 -3.4M488.6 62.9V79.3M487.2 62.9h2.8M487.2 79.3h2.8M486.9 69.4l3.4 3.4M486.9 72.8l3.4 -3.4M513.3 95.4V110.7M511.9 95.4h2.8M511.9 110.7h2.8M511.6 101.3l3.4 3.4M511.6 104.7l3.4 -3.4M533.1 70.0V84.0M531.7 70.0h2.8M531.7 84.0h2.8M531.4 75.3l3.4 3.4M531.4 78.7l3.4 -3.4M539.6 66.2V84.1M538.2 66.2h2.8M538.2 84.1h2.8M537.9 73.4l3.4 3.4M537.9 76.8l3.4 -3.4M519.6 81.0V94.7M518.2 81.0h2.8M518.2 94.7h2.8M517.9 86.2l3.4 3.4M517.9 89.6l3.4 -3.4M384.6 104.2V114.6M383.2 104.2h2.8M383.2 114.6h2.8M382.9 107.7l3.4 3.4M382.9 111.1l3.4 -3.4M527.7 57.5V73.5M526.3 57.5h2.8M526.3 73.5h2.8M526.0 63.8l3.4 3.4M526.0 67.2l3.4 -3.4M511.4 61.0V77.2M510.0 61.0h2.8M510.0 77.2h2.8M509.7 67.4l3.4 3.4M509.7 70.8l3.4 -3.4M460.5 90.2V102.8M459.1 90.2h2.8M459.1 102.8h2.8M458.8 94.8l3.4 3.4M458.8 98.2l3.4 -3.4M465.1 74.6V90.7M463.7 74.6h2.8M463.7 90.7h2.8M463.4 80.9l3.4 3.4M463.4 84.3l3.4 -3.4M342.5 113.3V121.3M341.1 113.3h2.8M341.1 121.3h2.8M340.8 115.6l3.4 3.4M340.8 119.0l3.4 -3.4M396.2 98.8V108.7M394.8 98.8h2.8M394.8 108.7h2.8M394.5 102.1l3.4 3.4M394.5 105.5l3.4 -3.4"/>
<path class="e" stroke="#70ff00" d="M443.4 97.3V106.3M442.0 97.3h2.8M442.0 106.3h2.8M441.7 100.1l3.4 3.4M441.7 103.5l3.4 -3.4M514.2 93.9V104.9M512.8 93.9h2.8M512.8 104.9h2.8M512.5 97.7l3.4 3.4M512.5 101.1l3.4 -3.4M475.8 97.0V108.7M474.4 97.0h2.8M474.4 108.7h2.8M474.1 101.2l3.4 3.4M474.1 104.6l3.4 -3.4M411.1 108.9V121.2M409.7 108.9h2.8M409.7 121.2h2.8M409.4 113.4l3.4 3.4M409.4 116.8l3.4 -3.4M428.6 102.7V112.3M427.2 102.7h2.8M427.2 112.3h2.8M426.9 105.8l3.4 3.4M426.9 109.2l3.4 -3.4M546.8 74.2V91.2M545.4 74.2h2.8M545.4 91.2h2.8M545.1 81.0l3.4 3.4M545.1 84.4l3.4 -3.4M478.6 88.7V105.9M477.2 88.7h2.8M477.2 105.9h2.8M476.9 95.6l3.4 3.4M476.9 99.0l3.4 -3.4M397.9 83.1V90.8M396.5 83.1h2.8M396.5 90.8h2.8M396.2 85.3l3.4 3.4M396.2 88.7l3.4 -3.4M456.1 83.2V93.0M454.7 83.2h2.8M454.7 93.0h2.8M454.4 86.4l3.4 3.4M454.4 89.8l3.4 -3.4"/>
<path class="e" stroke="#88ff10" d="M519.0 75.0V88.4M517.6 75.0h2.8M517.6 88.4h2.8M517.3 80.0l3.4 3.4M517.3 83.4l3.4 -3.4M382.7 108.9V121.4M381.3 108.9h2.8M381.3 121.4h2.8M381.0 113.5l3.4 3.4M381.0 116.9l3.4 -3.4M428.7 104.8V113.0M427.3 104.8h2.8M427.3 113.0h2.8M427.0 107.2l3.4 3.4M427.0 110.6l3.4 -3.4M502.4 76.5V89.9M501.0 76.5h2.8M501.0 89.9h2.8M500.7 81.5l3.4 3.4M500.7 84.9l3.4 -3.4M445.8 96.9V106.7M444.4 96.9h2.8M444.4 106.7h2.8M444.1 100.1l3.4 3.4M444.1 103.5l3.4 -3.4M412.9 102.7V113.8M411.5 102.7h2.8M411.5 113.8h2.8M411.2 106.6l3.4 3.4M411.2 110.0l3.4 -3.4"/>
<path class="e" stroke="#a0ff00" d="M511.4 76.4V94.3M510.0 76.4h2.8M510.0 94.3h2.8M509.7 83.6l3.4 3.4M509.7 87.0l3.4 -3.4M513.9 56.1V67.9M512.5 56.1h2.8M512.5 67.9h2.8M512.2 60.3l3.4 3.4M512.2 63.7l3.4 -3.4M541.8 89.3V107.9M540.4 89.3h2.8M540.4 107.9h2.8M540.1 96.9l3.4 3.4M540.1 100.3l3.4 -3.4M426.6 91.6V105.2M425.2 91.6h2.8M425.2 105.2h2.8M424.9 96.7l3.4 3.4M424.9 100.1l3.4 -3.4M437.0 114.0V128.6M435.6 114.0h2.8M435.6 128.6h2.8M435.3 119.6l3.4 3.4M435.3 123.0l3.4 -3.4M460.7 93.3V103.4M459.3 93.3h2.8M459.3 103.4h2.8M459.0 96.6l3.4 3.4M459.0 100.0l3.4 -3.4M382.5 90.6V99.7M381.1 90.6h2.8M381.1 99.7h2.8M380.8 93.5l3.4 3.4M380.8 96.9l3.4 -3.4M564.6 63.0V73.7M563.2 63.0h2.8M563.2 73.7h2.8M562.9 66.7l3.4 3.4M562.9 70.1l3.4 -3.4M494.6 82.9V98.3M493.2 82.9h2.8M493.2 98.3h2.8M492.9 88.9l3.4 3.4M492.9 92.3l3.4 -3.4M452.5 100.4V113.1M451.1 100.4h2.8M451.1 113.1h2.8M450.8 105.0l3.4 3.4M450.8 108.4l3.4 -3.4M346.9 117.9V129.3M345.5 117.9h2.8M345.5 129.3h2.8M345.2 121.9l3.4 3.4M345.2 125.3l3.4 -3.4M530.9 109.7V123.9M529.5 109.7h2.8M529.5 123.9h2.8M529.2 115.1l3.4 3.4M529.2 118.5l3.4 -3.4M349.5 125.4V135.0M348.1 125.4h2.8M348.1 135.0h2.8M347.8 128.5l3.4 3.4M347.8 131.9l3.4 -3.4M334.2 127.7V138.4M332.8 127.7h2.8M332.8 138.4h2.8M332.5 131.4l3.4 3.4M332.5 134.8l3.4 -3.4"/>
<path class="e" stroke="#b0ff00" d="M329.4 123.2V131.0M328.0 123.2h2.8M328.0 131.0h2.8M327.7 125.4l3.4 3.4M327.7 128.8l3.4 -3.4M469.4 87.1V100.4M468.0 87.1h2.8M468.0 100.4h2.8M467.7 92.0l3.4 3.4M467.7 95.4l3.4 -3.4"/>
<path class="e" stroke="#d0ff00" d="M474.3 87.9V104.7M472.9 87.9h2.8M472.9 104.7h2.8M472.6 94.6l3.4 3.4M472.6 98.0l3.4 -3.4M333.0 106.0V117.1M331.6 106.0h2.8M331.6 117.1h2.8M331.3 109.8l3.4 3.4M331.3 113.2l3.4 -3.4M345.5 108.2V117.9M344.1 108.2h2.8M344.1 117.9h2.8M343.8 111.4l3.4 3.4M343.8 114.8l3.4 -3.4M411.3 101.6V116.3M409.9 101.6h2.8M409.9 116.3h2.8M409.6 107.2l3.4 3.4M409.6 110.6l3.4 -3.4M498.0 99.7V117.4M496.6 99.7h2.8M496.6 117.4h2.8M496.3 106.9l3.4 3.4M496.3 110.3l3.4 -3.4M393.6 112.0V121.6M392.2 112.0h2.8M392.2 121.6h2.8M391.9 115.1l3.4 3.4M391.9 118.5l3.4 -3.4M494.1 81.8V94.5M492.7 81.8h2.8M492.7 94.5h2.8M492.4 86.4l3.4 3.4M492.4 89.8l3.4 -3.4M509.5 75.5V93.1M508.1 75.5h2.8M508.1 93.1h2.8M507.8 82.6l3.4 3.4M507.8 86.0l3.4 -3.4M504.1 67.4V86.1M502.7 67.4h2.8M502.7 86.1h2.8M502.4 75.1l3.4 3.4M502.4 78.5l3.4 -3.4M437.7 84.1V96.5M436.3 84.1h2.8M436.3 96.5h2.8M436.0 88.6l3.4 3.4M436.0 92.0l3.4 -3.4"/>
<path class="e" stroke="#e0ff00" d="M406.7 86.1V98.0M405.3 86.1h2.8M405.3 98.0h2.8M405.0 90.4l3.4 3.4M405.0 93.8l3.4 -3.4M449.8 89.5V105.1M448.4 89.5h2.8M448.4 105.1h2.8M448.1 95.6l3.4 3.4M448.1 99.0l3.4 -3.4M546.8 60.6V74.6M545.4 60.6h2.8M545.4 74.6h2.8M545.1 65.9l3.4 3.4M545.1 69.3l3.4 -3.4M328.9 109.6V122.1M327.5 109.6h2.8M327.5 122.1h2.8M327.2 114.1l3.4 3.4M327.2 117.5l3.4 -3.4M437.8 120.4V130.3M436.4 120.4h2.8M436.4 130.3h2.8M436.1 123.7l3.4 3.4M436.1 127.1l3.4 -3.4M401.7 113.7V123.3M400.3 113.7h2.8M400.3 123.3h2.8M400.0 116.8l3.4 3.4M400.0 120.2l3.4 -3.4"/>
<path class="e" stroke="#ffff10" d="M503.7 69.4V87.3M502.3 69.4h2.8M502.3 87.3h2.8M502.0 76.7l3.4 3.4M502.0 80.1l3.4 -3.4M481.9 75.8V94.3M480.5 75.8h2.8M480.5 94.3h2.8M480.2 83.3l3.4 3.4M480.2 86.7l3.4 -3.4M345.8 116.5V128.1M344.4 116.5h2.8M344.4 128.1h2.8M344.1 120.6l3.4 3.4M344.1 124.0l3.4 -3.4M438.1 95.4V105.2M436.7 95.4h2.8M436.7 105.2h2.8M436.4 98.6l3.4 3.4M436.4 102.0l3.4 -3.4M506.0 96.5V108.9M504.6 96.5h2.8M504.6 108.9h2.8M504.3 101.0l3.4 3.4M504.3 104.4l3.4 -3.4M493.7 62.5V80.3M492.3 62.5h2.8M492.3 80.3h2.8M492.0 69.7l3.4 3.4M492.0 73.1l3.4 -3.4M435.4 92.2V109.4M434.0 92.2h2.8M434.0 109.4h2.8M433.7 99.1l3.4 3.4M433.7 102.5l3.4 -3.4M419.1 96.3V108.9M417.7 96.3h2.8M417.7 108.9h2.8M417.4 100.9l3.4 3.4M417.4 104.3l3.4 -3.4M395.8 109.5V124.2M394.4 109.5h2.8M394.4 124.2h2.8M394.1 115.1l3.4 3.4M394.1 118.5l3.4 -3.4M471.6 105.8V120.6M470.2 105.8h2.8M470.2 120.6h2.8M469.9 111.5l3.4 3.4M469.9 114.9l3.4 -3.4M440.2 86.8V98.7M438.8 86.8h2.8M438.8 98.7h2.8M438.5 91.0l3.4 3.4M438.5 94.4l3.4 -3.4M479.5 57.8V76.3M478.1 57.8h2.8M478.1 76.3h2.8M477.8 65.3l3.4 3.4M477.8 68.7l3.4 -3.4M407.8 94.7V106.3M406.4 94.7h2.8M406.4 106.3h2.8M406.1 98.8l3.4 3.4M406.1 102.2l3.4 -3.4M390.7 99.9V109.9M389.3 99.9h2.8M389.3 109.9h2.8M389.0 103.2l3.4 3.4M389.0 106.6l3.4 -3.4M525.5 107.0V122.1M524.1 107.0h2.8M524.1 122.1h2.8M523.8 112.8l3.4 3.4M523.8 116.2l3.4 -3.4M354.4 120.0V131.3M353.0 120.0h2.8M353.0 131.3h2.8M352.7 124.0l3.4 3.4M352.7 127.4l3.4 -3.4M527.0 85.7V101.4M525.6 85.7h2.8M525.6 101.4h2.8M525.3 91.9l3.4 3.4M525.3 95.3l3.4 -3.4"/>
<path class="e" stroke="#ffe000" d="M333.0 107.1V120.7M331.6 107.1h2.8M331.6 120.7h2.8M331.3 112.2l3.4 3.4M331.3 115.6l3.4 -3.4M435.5 83.0V92.5M434.1 83.0h2.8M434.1 92.5h2.8M433.8 86.1l3.4 3.4M433.8 89.5l3.4 -3.4M333.6 114.2V122.6M332.2 114.2h2.8M332.2 122.6h2.8M331.9 116.7l3.4 3.4M331.9 120.1l3.4 -3.4M379.6 96.4V106.6M378.2 96.4h2.8M378.2 106.6h2.8M377.9 99.8l3.4 3.4M377.9 103.2l3.4 -3.4M546.9 67.9V90.6M545.5 67.9h2.8M545.5 90.6h2.8M545.2 77.6l3.4 3.4M545.2 81.0l3.4 -3.4M499.9 91.1V103.0M498.5 91.1h2.8M498.5 103.0h2.8M498.2 95.4l3.4 3.4M498.2 98.8l3.4 -3.4"/>
<path class="e" stroke="#ffd000" d="M559.4 75.1V88.4M558.0 75.1h2.8M558.0 88.4h2.8M557.7 80.1l3.4 3.4M557.7 83.5l3.4 -3.4M347.3 116.9V126.1M345.9 116.9h2.8M345.9 126.1h2.8M345.6 119.8l3.4 3.4M345.6 123.2l3.4 -3.4M487.1 90.6V109.0M485.7 90.6h2.8M485.7 109.0h2.8M485.4 98.1l3.4 3.4M485.4 101.5l3.4 -3.4M362.9 97.1V110.2M361.5 97.1h2.8M361.5 110.2h2.8M361.2 102.0l3.4 3.4M361.2 105.4l3.4 -3.4M551.1 68.1V86.0M549.7 68.1h2.8M549.7 86.0h2.8M549.4 75.4l3.4 3.4M549.4 78.8l3.4 -3.4M527.0 99.8V121.9M525.6 99.8h2.8M525.6 121.9h2.8M525.3 109.2l3.4 3.4M525.3 112.6l3.4 -3.4"/>
<path class="e" stroke="#ffc000" d="M547.0 60.1V79.5M545.6 60.1h2.8M545.6 79.5h2.8M545.3 68.1l3.4 3.4M545.3 71.5l3.4 -3.4M361.0 115.6V123.8M359.6 115.6h2.8M359.6 123.8h2.8M359.3 118.0l3.4 3.4M359.3 121.4l3.4 -3.4M348.4 109.9V123.6M347.0 109.9h2.8M347.0 123.6h2.8M346.7 115.0l3.4 3.4M346.7 118.4l3.4 -3.4M377.8 106.9V118.3M376.4 106.9h2.8M376.4 118.3h2.8M376.1 110.9l3.4 3.4M376.1 114.3l3.4 -3.4M341.9 120.2V132.3M340.5 120.2h2.8M340.5 132.3h2.8M340.2 124.6l3.4 3.4M340.2 128.0l3.4 -3.4M332.1 102.5V117.2M330.7 102.5h2.8M330.7 117.2h2.8M330.4 108.1l3.4 3.4M330.4 111.5l3.4 -3.4M471.6 91.6V107.2M470.2 91.6h2.8M470.2 107.2h2.8M469.9 97.7l3.4 3.4M469.9 101.1l3.4 -3.4M502.6 82.6V101.0M501.2 82.6h2.8M501.2 101.0h2.8M500.9 90.1l3.4 3.4M500.9 93.5l3.4 -3.4M433.5 109.6V124.0M432.1 109.6h2.8M432.1 124.0h2.8M431.8 115.1l3.4 3.4M431.8 118.5l3.4 -3.4M483.5 71.4V91.2M482.1 71.4h2.8M482.1 91.2h2.8M481.8 79.6l3.4 3.4M481.8 83.0l3.4 -3.4"/>
<path class="e" stroke="#ffb000" d="M459.4 84.3V104.6M458.0 84.3h2.8M458.0 104.6h2.8M457.7 92.8l3.4 3.4M457.7 96.2l3.4 -3.4M356.3 99.8V115.6M354.9 99.8h2.8M354.9 115.6h2.8M354.6 106.0l3.4 3.4M354.6 109.4l3.4 -3.4M449.3 88.0V106.0M447.9 88.0h2.8M447.9 106.0h2.8M447.6 95.3l3.4 3.4M447.6 98.7l3.4 -3.4M404.2 119.1V136.6M402.8 119.1h2.8M402.8 136.6h2.8M402.5 126.2l3.4 3.4M402.5 129.6l3.4 -3.4M467.2 89.4V100.7M465.8 89.4h2.8M465.8 100.7h2.8M465.5 93.4l3.4 3.4M465.5 96.8l3.4 -3.4M407.7 83.9V97.1M406.3 83.9h2.8M406.3 97.1h2.8M406.0 88.8l3.4 3.4M406.0 92.2l3.4 -3.4"/>
<path class="e" stroke="#ffa000" d="M365.6 98.1V114.9M364.2 98.1h2.8M364.2 114.9h2.8M363.9 104.8l3.4 3.4M363.9 108.2l3.4 -3.4M330.2 111.6V127.0M328.8 111.6h2.8M328.8 127.0h2.8M328.5 117.6l3.4 3.4M328.5 121.0l3.4 -3.4M480.3 83.1V97.0M478.9 83.1h2.8M478.9 97.0h2.8M478.6 88.3l3.4 3.4M478.6 91.7l3.4 -3.4M512.0 77.4V98.4M510.6 77.4h2.8M510.6 98.4h2.8M510.3 86.2l3.4 3.4M510.3 89.6l3.4 -3.4M552.6 54.1V79.1M551.2 54.1h2.8M551.2 79.1h2.8M550.9 64.9l3.4 3.4M550.9 68.3l3.4 -3.4"/>
<path class="e" stroke="#ff8c00" d="M519.3 64.5V83.3M517.9 64.5h2.8M517.9 83.3h2.8M517.6 72.2l3.4 3.4M517.6 75.6l3.4 -3.4M538.4 74.5V93.9M537.0 74.5h2.8M537.0 93.9h2.8M536.7 82.5l3.4 3.4M536.7 85.9l3.4 -3.4M372.7 99.5V117.5M371.3 99.5h2.8M371.3 117.5h2.8M371.0 106.8l3.4 3.4M371.0 110.2l3.4 -3.4M327.2 132.6V147.1M325.8 132.6h2.8M325.8 147.1h2.8M325.5 138.1l3.4 3.4M325.5 141.5l3.4 -3.4M536.5 80.8V98.0M535.1 80.8h2.8M535.1 98.0h2.8M534.8 87.7l3.4 3.4M534.8 91.1l3.4 -3.4"/>
<path class="e" stroke="#ff7000" d="M544.5 65.0V85.2M543.1 65.0h2.8M543.1 85.2h2.8M542.8 73.4l3.4 3.4M542.8 76.8l3.4 -3.4M425.6 97.9V114.0M424.2 97.9h2.8M424.2 114.0h2.8M423.9 104.3l3.4 3.4M423.9 107.7l3.4 -3.4M552.8 78.2V106.5M551.4 78.2h2.8M551.4 106.5h2.8M551.1 90.6l3.4 3.4M551.1 94.0l3.4 -3.4M514.2 52.9V74.1M512.8 52.9h2.8M512.8 74.1h2.8M512.5 61.8l3.4 3.4M512.5 65.2l3.4 -3.4M376.9 105.5V117.2M375.5 105.5h2.8M375.5 117.2h2.8M375.2 109.7l3.4 3.4M375.2 113.1l3.4 -3.4M496.1 82.8V98.2M494.7 82.8h2.8M494.7 98.2h2.8M494.4 88.8l3.4 3.4M494.4 92.2l3.4 -3.4M386.7 87.2V107.0M385.3 87.2h2.8M385.3 107.0h2.8M385.0 95.4l3.4 3.4M385.0 98.8l3.4 -3.4M532.3 95.4V110.3M530.9 95.4h2.8M530.9 110.3h2.8M530.6 101.2l3.4 3.4M530.6 104.6l3.4 -3.4M389.1 100.4V113.3M387.7 100.4h2.8M387.7 113.3h2.8M387.4 105.1l3.4 3.4M387.4 108.5l3.4 -3.4M420.0 109.7V129.1M418.6 109.7h2.8M418.6 129.1h2.8M418.3 117.7l3.4 3.4M418.3 121.1l3.4 -3.4M358.6 131.3V146.0M357.2 131.3h2.8M357.2 146.0h2.8M356.9 137.0l3.4 3.4M356.9 140.4l3.4 -3.4M477.9 82.8V107.2M476.5 82.8h2.8M476.5 107.2h2.8M476.2 93.3l3.4 3.4M476.2 96.7l3.4 -3.4M458.6 110.2V127.7M457.2 110.2h2.8M457.2 127.7h2.8M456.9 117.2l3.4 3.4M456.9 120.6l3.4 -3.4M466.2 104.2V121.3M464.8 104.2h2.8M464.8 121.3h2.8M464.5 111.0l3.4 3.4M464.5 114.4l3.4 -3.4M477.0 83.9V106.9M475.6 83.9h2.8M475.6 106.9h2.8M475.3 93.7l3.4 3.4M475.3 97.1l3.4 -3.4M400.3 109.6V130.0M398.9 109.6h2.8M398.9 130.0h2.8M398.6 118.1l3.4 3.4M398.6 121.5l3.4 -3.4M537.0 104.5V131.2M535.6 104.5h2.8M535.6 131.2h2.8M535.3 116.1l3.4 3.4M535.3 119.5l3.4 -3.4M506.3 86.7V105.8M504.9 86.7h2.8M504.9 105.8h2.8M504.6 94.6l3.4 3.4M504.6 98.0l3.4 -3.4"/>
<path class="e" stroke="#ff5000" d="M550.5 66.8V84.7M549.1 66.8h2.8M549.1 84.7h2.8M548.8 74.1l3.4 3.4M548.8 77.5l3.4 -3.4M397.1 115.0V131.4M395.7 115.0h2.8M395.7 131.4h2.8M395.4 121.5l3.4 3.4M395.4 124.9l3.4 -3.4M339.7 128.5V142.5M338.3 128.5h2.8M338.3 142.5h2.8M338.0 133.8l3.4 3.4M338.0 137.2l3.4 -3.4M493.5 95.3V122.3M492.1 95.3h2.8M492.1 122.3h2.8M491.8 107.1l3.4 3.4M491.8 110.5l3.4 -3.4M482.6 69.2V87.6M481.2 69.2h2.8M481.2 87.6h2.8M480.9 76.7l3.4 3.4M480.9 80.1l3.4 -3.4M507.2 77.3V98.6M505.8 77.3h2.8M505.8 98.6h2.8M505.5 86.3l3.4 3.4M505.5 89.7l3.4 -3.4M551.4 68.6V99.8M550.0 68.6h2.8M550.0 99.8h2.8M549.7 82.5l3.4 3.4M549.7 85.9l3.4 -3.4M445.1 104.2V125.5M443.7 104.2h2.8M443.7 125.5h2.8M443.4 113.2l3.4 3.4M443.4 116.6l3.4 -3.4"/>
<path class="e" stroke="#ff4000" d="M361.0 117.2V135.8M359.6 117.2h2.8M359.6 135.8h2.8M359.3 124.8l3.4 3.4M359.3 128.2l3.4 -3.4M418.1 73.0V96.7M416.7 73.0h2.8M416.7 96.7h2.8M416.4 83.2l3.4 3.4M416.4 86.6l3.4 -3.4M568.1 38.5V57.7M566.7 38.5h2.8M566.7 57.7h2.8M566.4 46.4l3.4 3.4M566.4 49.8l3.4 -3.4M382.9 109.3V124.0M381.5 109.3h2.8M381.5 124.0h2.8M381.2 115.0l3.4 3.4M381.2 118.4l3.4 -3.4M389.6 108.7V131.7M388.2 108.7h2.8M388.2 131.7h2.8M387.9 118.5l3.4 3.4M387.9 121.9l3.4 -3.4M362.5 125.7V141.8M361.1 125.7h2.8M361.1 141.8h2.8M360.8 132.1l3.4 3.4M360.8 135.5l3.4 -3.4M505.4 97.9V125.0M504.0 97.9h2.8M504.0 125.0h2.8M503.7 109.7l3.4 3.4M503.7 113.1l3.4 -3.4M472.9 81.9V99.4M471.5 81.9h2.8M471.5 99.4h2.8M471.2 89.0l3.4 3.4M471.2 92.4l3.4 -3.4M443.3 108.7V130.9M441.9 108.7h2.8M441.9 130.9h2.8M441.6 118.1l3.4 3.4M441.6 121.5l3.4 -3.4"/>
<path class="e" stroke="#ff2000" d="M509.4 104.3V128.5M508.0 104.3h2.8M508.0 128.5h2.8M507.7 114.7l3.4 3.4M507.7 118.1l3.4 -3.4M429.3 96.6V112.7M427.9 96.6h2.8M427.9 112.7h2.8M427.6 103.0l3.4 3.4M427.6 106.4l3.4 -3.4M501.8 73.2V96.8M500.4 73.2h2.8M500.4 96.8h2.8M500.1 83.3l3.4 3.4M500.1 86.7l3.4 -3.4M544.8 91.7V114.6M543.4 91.7h2.8M543.4 114.6h2.8M543.1 101.5l3.4 3.4M543.1 104.9l3.4 -3.4M430.8 105.7V130.9M429.4 105.7h2.8M429.4 130.9h2.8M429.1 116.6l3.4 3.4M429.1 120.0l3.4 -3.4M484.0 65.7V94.5M482.6 65.7h2.8M482.6 94.5h2.8M482.3 78.4l3.4 3.4M482.3 81.8l3.4 -3.4"/>
<path class="e" stroke="#ff0000" d="M486.9 82.6V106.4M485.5 82.6h2.8M485.5 106.4h2.8M485.2 92.8l3.4 3.4M485.2 96.2l3.4 -3.4M546.4 68.9V88.3M545.0 68.9h2.8M545.0 88.3h2.8M544.7 76.9l3.4 3.4M544.7 80.3l3.4 -3.4"/>
<path class="e" stroke="#4a0085" d="M333.6 72.1V92.7M332.2 72.1h2.8M332.2 92.7h2.8M331.9 80.7l3.4 3.4M331.9 84.1l3.4 -3.4"/>
<path class="e" stroke="#55307a" d="M366.5 69.7V98.7M365.1 69.7h2.8M365.1 98.7h2.8M364.8 82.5l3.4 3.4M364.8 85.9l3.4 -3.4"/>
<polyline class="dot" points="320.8,94.0 325.1,93.1 329.4,92.3 333.7,91.4 338.0,90.5 342.3,89.6 346.6,88.6 350.9,87.7 355.2,86.7 359.5,85.7 363.8,84.7 368.1,83.7 372.4,82.7 376.7,81.6 381.0,80.5 385.3,79.4 389.6,78.3 393.9,77.2 398.2,76.0 402.5,74.9 406.8,73.7 411.1,72.5 415.4,71.3 419.7,70.0 424.0,68.7 428.3,67.5 432.6,66.2 436.9,64.9 441.2,63.5 445.5,62.2 449.8,60.8 454.1,59.4 458.3,58.0 462.6,56.6 466.9,55.1 471.2,53.7 475.5,52.2 479.8,50.7 484.1,49.2 488.4,47.6 492.7,46.1 497.0,44.5 501.3,42.9 505.6,41.3 509.9,39.7 514.2,38.0 518.5,36.3 522.8,34.7 527.1,33.0 531.4,31.2 535.7,29.5 540.0,27.7 544.3,26.0 548.6,24.2 552.9,22.3 557.2,20.5 561.5,18.7 565.8,16.8 570.1,14.9 574.4,13.0"/>
<polyline class="dot" points="320.8,138.9 325.1,138.8 329.4,138.7 333.7,138.7 338.0,138.6 342.3,138.5 346.6,138.4 350.9,138.3 355.2,138.2 359.5,138.1 363.8,138.0 368.1,137.9 372.4,137.7 376.7,137.6 381.0,137.5 385.3,137.4 389.6,137.3 393.9,137.2 398.2,137.0 402.5,136.9 406.8,136.8 411.1,136.7 415.4,136.5 419.7,136.4 424.0,136.3 428.3,136.1 432.6,136.0 436.9,135.9 441.2,135.7 445.5,135.6 449.8,135.4 454.1,135.3 458.3,135.2 462.6,135.0 466.9,134.8 471.2,134.7 475.5,134.5 479.8,134.4 484.1,134.2 488.4,134.1 492.7,133.9 497.0,133.7 501.3,133.6 505.6,133.4 509.9,133.2 514.2,133.1 518.5,132.9 522.8,132.7 527.1,132.5 531.4,132.3 535.7,132.2 540.0,132.0 544.3,131.8 548.6,131.6 552.9,131.4 557.2,131.2 561.5,131.0 565.8,130.8 570.1,130.6 574.4,130.4"/>
<polyline fill="none" stroke="#000" stroke-width="0.95" points="320.8,116.4 325.1,116.0 329.4,115.5 333.7,115.0 338.0,114.5 342.3,114.0 346.6,113.5 350.9,113.0 355.2,112.4 359.5,111.9 363.8,111.3 368.1,110.8 372.4,110.2 376.7,109.6 381.0,109.0 385.3,108.4 389.6,107.8 393.9,107.2 398.2,106.5 402.5,105.9 406.8,105.2 411.1,104.6 415.4,103.9 419.7,103.2 424.0,102.5 428.3,101.8 432.6,101.1 436.9,100.4 441.2,99.6 445.5,98.9 449.8,98.1 454.1,97.3 458.3,96.6 462.6,95.8 466.9,95.0 471.2,94.2 475.5,93.4 479.8,92.5 484.1,91.7 488.4,90.8 492.7,90.0 497.0,89.1 501.3,88.2 505.6,87.3 509.9,86.4 514.2,85.5 518.5,84.6 522.8,83.7 527.1,82.7 531.4,81.8 535.7,80.8 540.0,79.9 544.3,78.9 548.6,77.9 552.9,76.9 557.2,75.9 561.5,74.8 565.8,73.8 570.1,72.8 574.4,71.7"/>
<polyline fill="none" stroke="#f00" stroke-width="1.1" stroke-dasharray="3 3" points="320.8,116.4 325.1,116.0 329.4,115.5 333.7,115.0 338.0,114.5 342.3,114.0 346.6,113.5 350.9,113.0 355.2,112.4 359.5,111.9 363.8,111.3 368.1,110.8 372.4,110.2 376.7,109.6 381.0,109.0 385.3,108.4 389.6,107.8 393.9,107.2 398.2,106.5 402.5,105.9 406.8,105.2 411.1,104.6 415.4,103.9 419.7,103.2 424.0,102.5 428.3,101.8 432.6,101.1 436.9,100.4 441.2,99.6 445.5,98.7 449.8,97.9 454.1,97.0 458.3,96.2 462.6,95.3 466.9,94.4 471.2,93.5 475.5,92.6 479.8,91.7 484.1,90.8 488.4,89.8 492.7,88.9 497.0,87.9 501.3,87.0 505.6,86.0 509.9,85.0 514.2,84.0 518.5,83.0 522.8,82.0 527.1,81.0 531.4,80.0 535.7,78.9 540.0,77.9 544.3,76.8 548.6,75.7 552.9,74.6 557.2,73.5 561.5,72.4 565.8,71.3 570.1,70.2 574.4,69.0"/>
</svg>
<svg x="41.5" y="206.4" width="236.5" height="174.5" viewBox="41.5 206.4 236.5 174.5" overflow="hidden">
<path class="e" stroke="#2a0530" d="M262.0 259.7V274.6M260.6 259.7h2.8M260.6 274.6h2.8M260.3 265.5l3.4 3.4M260.3 268.9l3.4 -3.4M230.1 272.9V283.5M228.7 272.9h2.8M228.7 283.5h2.8M228.4 276.5l3.4 3.4M228.4 279.9l3.4 -3.4M234.5 274.1V287.1M233.1 274.1h2.8M233.1 287.1h2.8M232.8 278.9l3.4 3.4M232.8 282.3l3.4 -3.4M269.5 270.9V288.7M268.1 270.9h2.8M268.1 288.7h2.8M267.8 278.1l3.4 3.4M267.8 281.5l3.4 -3.4M76.0 317.3V331.1M74.6 317.3h2.8M74.6 331.1h2.8M74.3 322.5l3.4 3.4M74.3 325.9l3.4 -3.4M280.1 248.3V264.2M278.7 248.3h2.8M278.7 264.2h2.8M278.4 254.5l3.4 3.4M278.4 257.9l3.4 -3.4M143.7 293.0V308.6M142.3 293.0h2.8M142.3 308.6h2.8M142.0 299.1l3.4 3.4M142.0 302.5l3.4 -3.4"/>
<path class="e" stroke="#3a0545" d="M206.5 281.8V291.1M205.1 281.8h2.8M205.1 291.1h2.8M204.8 284.7l3.4 3.4M204.8 288.1l3.4 -3.4M140.1 315.8V326.3M138.7 315.8h2.8M138.7 326.3h2.8M138.4 319.4l3.4 3.4M138.4 322.8l3.4 -3.4M118.4 315.9V329.3M117.0 315.9h2.8M117.0 329.3h2.8M116.7 320.9l3.4 3.4M116.7 324.3l3.4 -3.4"/>
<path class="e" stroke="#440055" d="M166.6 296.7V311.7M165.2 296.7h2.8M165.2 311.7h2.8M164.9 302.5l3.4 3.4M164.9 305.9l3.4 -3.4M141.0 299.9V309.8M139.6 299.9h2.8M139.6 309.8h2.8M139.3 303.2l3.4 3.4M139.3 306.6l3.4 -3.4M229.5 264.6V278.5M228.1 264.6h2.8M228.1 278.5h2.8M227.8 269.8l3.4 3.4M227.8 273.2l3.4 -3.4"/>
<path class="e" stroke="#4a0060" d="M83.6 331.4V342.6M82.2 331.4h2.8M82.2 342.6h2.8M81.9 335.3l3.4 3.4M81.9 338.7l3.4 -3.4M177.0 301.0V310.9M175.6 301.0h2.8M175.6 310.9h2.8M175.3 304.2l3.4 3.4M175.3 307.6l3.4 -3.4M224.7 281.3V295.8M223.3 281.3h2.8M223.3 295.8h2.8M223.0 286.9l3.4 3.4M223.0 290.3l3.4 -3.4M112.0 316.0V325.5M110.6 316.0h2.8M110.6 325.5h2.8M110.3 319.1l3.4 3.4M110.3 322.5l3.4 -3.4M134.5 305.8V320.2M133.1 305.8h2.8M133.1 320.2h2.8M132.8 311.3l3.4 3.4M132.8 314.7l3.4 -3.4M109.6 310.3V324.7M108.2 310.3h2.8M108.2 324.7h2.8M107.9 315.8l3.4 3.4M107.9 319.2l3.4 -3.4"/>
<path class="e" stroke="#50006a" d="M95.1 308.5V322.4M93.7 308.5h2.8M93.7 322.4h2.8M93.4 313.8l3.4 3.4M93.4 317.2l3.4 -3.4M147.3 303.6V314.4M145.9 303.6h2.8M145.9 314.4h2.8M145.6 307.3l3.4 3.4M145.6 310.7l3.4 -3.4M255.0 266.8V277.9M253.6 266.8h2.8M253.6 277.9h2.8M253.3 270.6l3.4 3.4M253.3 274.0l3.4 -3.4M167.1 319.1V328.1M165.7 319.1h2.8M165.7 328.1h2.8M165.4 321.9l3.4 3.4M165.4 325.3l3.4 -3.4M229.9 267.7V279.2M228.5 267.7h2.8M228.5 279.2h2.8M228.2 271.7l3.4 3.4M228.2 275.1l3.4 -3.4M50.4 323.0V336.8M49.0 323.0h2.8M49.0 336.8h2.8M48.7 328.2l3.4 3.4M48.7 331.6l3.4 -3.4M258.1 267.0V276.8M256.7 267.0h2.8M256.7 276.8h2.8M256.4 270.2l3.4 3.4M256.4 273.6l3.4 -3.4"/>
<path class="e" stroke="#550075" d="M169.6 291.9V306.0M168.2 291.9h2.8M168.2 306.0h2.8M167.9 297.3l3.4 3.4M167.9 300.7l3.4 -3.4M222.0 286.8V299.3M220.6 286.8h2.8M220.6 299.3h2.8M220.3 291.4l3.4 3.4M220.3 294.8l3.4 -3.4M158.2 294.4V306.5M156.8 294.4h2.8M156.8 306.5h2.8M156.5 298.7l3.4 3.4M156.5 302.1l3.4 -3.4M50.6 341.8V355.0M49.2 341.8h2.8M49.2 355.0h2.8M48.9 346.7l3.4 3.4M48.9 350.1l3.4 -3.4M78.4 316.9V330.5M77.0 316.9h2.8M77.0 330.5h2.8M76.7 322.0l3.4 3.4M76.7 325.4l3.4 -3.4M89.9 318.9V329.3M88.5 318.9h2.8M88.5 329.3h2.8M88.2 322.4l3.4 3.4M88.2 325.8l3.4 -3.4M158.1 314.5V330.6M156.7 314.5h2.8M156.7 330.6h2.8M156.4 320.9l3.4 3.4M156.4 324.3l3.4 -3.4"/>
<path class="e" stroke="#4a0085" d="M162.5 294.9V304.9M161.1 294.9h2.8M161.1 304.9h2.8M160.8 298.2l3.4 3.4M160.8 301.6l3.4 -3.4M47.1 333.6V345.9M45.7 333.6h2.8M45.7 345.9h2.8M45.4 338.1l3.4 3.4M45.4 341.5l3.4 -3.4M191.1 296.4V312.8M189.7 296.4h2.8M189.7 312.8h2.8M189.4 302.9l3.4 3.4M189.4 306.3l3.4 -3.4M130.5 312.1V324.6M129.1 312.1h2.8M129.1 324.6h2.8M128.8 316.7l3.4 3.4M128.8 320.1l3.4 -3.4M176.9 299.8V310.7M175.5 299.8h2.8M175.5 310.7h2.8M175.2 303.5l3.4 3.4M175.2 306.9l3.4 -3.4M135.3 307.4V321.6M133.9 307.4h2.8M133.9 321.6h2.8M133.6 312.8l3.4 3.4M133.6 316.2l3.4 -3.4M106.9 315.9V331.1M105.5 315.9h2.8M105.5 331.1h2.8M105.2 321.8l3.4 3.4M105.2 325.2l3.4 -3.4"/>
<path class="e" stroke="#4400a0" d="M273.3 269.3V280.4M271.9 269.3h2.8M271.9 280.4h2.8M271.6 273.2l3.4 3.4M271.6 276.6l3.4 -3.4M275.0 249.0V260.7M273.6 249.0h2.8M273.6 260.7h2.8M273.3 253.1l3.4 3.4M273.3 256.5l3.4 -3.4M266.2 265.7V276.8M264.8 265.7h2.8M264.8 276.8h2.8M264.5 269.5l3.4 3.4M264.5 272.9l3.4 -3.4M171.3 285.3V297.7M169.9 285.3h2.8M169.9 297.7h2.8M169.6 289.8l3.4 3.4M169.6 293.2l3.4 -3.4M223.1 278.5V292.6M221.7 278.5h2.8M221.7 292.6h2.8M221.4 283.9l3.4 3.4M221.4 287.3l3.4 -3.4M70.5 299.8V310.8M69.1 299.8h2.8M69.1 310.8h2.8M68.8 303.6l3.4 3.4M68.8 307.0l3.4 -3.4M129.9 304.1V318.7M128.5 304.1h2.8M128.5 318.7h2.8M128.2 309.7l3.4 3.4M128.2 313.1l3.4 -3.4"/>
<path class="e" stroke="#3a00b8" d="M160.1 304.4V315.0M158.7 304.4h2.8M158.7 315.0h2.8M158.4 308.0l3.4 3.4M158.4 311.4l3.4 -3.4M46.4 327.8V337.2M45.0 327.8h2.8M45.0 337.2h2.8M44.7 330.8l3.4 3.4M44.7 334.2l3.4 -3.4M213.8 271.6V285.3M212.4 271.6h2.8M212.4 285.3h2.8M212.1 276.8l3.4 3.4M212.1 280.2l3.4 -3.4M238.6 249.0V260.7M237.2 249.0h2.8M237.2 260.7h2.8M236.9 253.1l3.4 3.4M236.9 256.5l3.4 -3.4M255.1 269.3V281.6M253.7 269.3h2.8M253.7 281.6h2.8M253.4 273.8l3.4 3.4M253.4 277.2l3.4 -3.4M158.2 305.2V316.8M156.8 305.2h2.8M156.8 316.8h2.8M156.5 309.3l3.4 3.4M156.5 312.7l3.4 -3.4M203.5 295.4V308.4M202.1 295.4h2.8M202.1 308.4h2.8M201.8 300.2l3.4 3.4M201.8 303.6l3.4 -3.4M219.2 283.8V296.2M217.8 283.8h2.8M217.8 296.2h2.8M217.5 288.3l3.4 3.4M217.5 291.7l3.4 -3.4M151.9 315.3V327.9M150.5 315.3h2.8M150.5 327.9h2.8M150.2 319.9l3.4 3.4M150.2 323.3l3.4 -3.4M167.4 302.4V316.2M166.0 302.4h2.8M166.0 316.2h2.8M165.7 307.6l3.4 3.4M165.7 311.0l3.4 -3.4"/>
<path class="e" stroke="#2800d0" d="M243.6 276.0V288.5M242.2 276.0h2.8M242.2 288.5h2.8M241.9 280.6l3.4 3.4M241.9 284.0l3.4 -3.4M71.2 339.2V353.1M69.8 339.2h2.8M69.8 353.1h2.8M69.5 344.4l3.4 3.4M69.5 347.8l3.4 -3.4M96.5 328.3V342.0M95.1 328.3h2.8M95.1 342.0h2.8M94.8 333.5l3.4 3.4M94.8 336.9l3.4 -3.4M184.7 310.3V321.0M183.3 310.3h2.8M183.3 321.0h2.8M183.0 314.0l3.4 3.4M183.0 317.4l3.4 -3.4M91.2 320.3V333.7M89.8 320.3h2.8M89.8 333.7h2.8M89.5 325.3l3.4 3.4M89.5 328.7l3.4 -3.4M70.4 333.0V343.0M69.0 333.0h2.8M69.0 343.0h2.8M68.7 336.3l3.4 3.4M68.7 339.7l3.4 -3.4M122.8 312.3V325.4M121.4 312.3h2.8M121.4 325.4h2.8M121.1 317.2l3.4 3.4M121.1 320.6l3.4 -3.4M220.7 264.2V273.7M219.3 264.2h2.8M219.3 273.7h2.8M219.0 267.3l3.4 3.4M219.0 270.7l3.4 -3.4M167.9 284.0V294.8M166.5 284.0h2.8M166.5 294.8h2.8M166.2 287.7l3.4 3.4M166.2 291.1l3.4 -3.4M200.7 292.2V300.1M199.3 292.2h2.8M199.3 300.1h2.8M199.0 294.4l3.4 3.4M199.0 297.8l3.4 -3.4M215.1 289.0V299.0M213.7 289.0h2.8M213.7 299.0h2.8M213.4 292.3l3.4 3.4M213.4 295.7l3.4 -3.4"/>
<path class="e" stroke="#1800e8" d="M39.9 328.7V339.0M38.5 328.7h2.8M38.5 339.0h2.8M38.2 332.1l3.4 3.4M38.2 335.5l3.4 -3.4M70.2 318.5V327.5M68.8 318.5h2.8M68.8 327.5h2.8M68.5 321.3l3.4 3.4M68.5 324.7l3.4 -3.4M184.6 290.1V298.6M183.2 290.1h2.8M183.2 298.6h2.8M182.9 292.7l3.4 3.4M182.9 296.1l3.4 -3.4M216.8 291.4V300.5M215.4 291.4h2.8M215.4 300.5h2.8M215.1 294.3l3.4 3.4M215.1 297.7l3.4 -3.4M142.2 302.4V310.1M140.8 302.4h2.8M140.8 310.1h2.8M140.5 304.6l3.4 3.4M140.5 308.0l3.4 -3.4"/>
<path class="e" stroke="#0a00f5" d="M160.7 290.9V301.3M159.3 290.9h2.8M159.3 301.3h2.8M159.0 294.4l3.4 3.4M159.0 297.8l3.4 -3.4M144.8 308.0V319.2M143.4 308.0h2.8M143.4 319.2h2.8M143.1 311.9l3.4 3.4M143.1 315.3l3.4 -3.4M128.5 324.0V335.1M127.1 324.0h2.8M127.1 335.1h2.8M126.8 327.8l3.4 3.4M126.8 331.2l3.4 -3.4M86.1 319.6V331.3M84.7 319.6h2.8M84.7 331.3h2.8M84.4 323.8l3.4 3.4M84.4 327.2l3.4 -3.4M250.3 259.7V271.1M248.9 259.7h2.8M248.9 271.1h2.8M248.6 263.7l3.4 3.4M248.6 267.1l3.4 -3.4M196.4 300.8V310.9M195.0 300.8h2.8M195.0 310.9h2.8M194.7 304.1l3.4 3.4M194.7 307.5l3.4 -3.4M147.3 309.9V321.1M145.9 309.9h2.8M145.9 321.1h2.8M145.6 313.8l3.4 3.4M145.6 317.2l3.4 -3.4M273.1 259.6V270.0M271.7 259.6h2.8M271.7 270.0h2.8M271.4 263.1l3.4 3.4M271.4 266.5l3.4 -3.4M189.5 297.9V311.6M188.1 297.9h2.8M188.1 311.6h2.8M187.8 303.0l3.4 3.4M187.8 306.4l3.4 -3.4M127.1 311.8V319.3M125.7 311.8h2.8M125.7 319.3h2.8M125.4 313.9l3.4 3.4M125.4 317.3l3.4 -3.4M228.4 272.8V284.8M227.0 272.8h2.8M227.0 284.8h2.8M226.7 277.1l3.4 3.4M226.7 280.5l3.4 -3.4M73.3 324.3V334.8M71.9 324.3h2.8M71.9 334.8h2.8M71.6 327.8l3.4 3.4M71.6 331.2l3.4 -3.4M135.2 306.9V314.0M133.8 306.9h2.8M133.8 314.0h2.8M133.5 308.8l3.4 3.4M133.5 312.2l3.4 -3.4M114.9 319.6V326.5M113.5 319.6h2.8M113.5 326.5h2.8M113.2 321.4l3.4 3.4M113.2 324.8l3.4 -3.4"/>
<path class="e" stroke="#0010ff" d="M55.0 335.4V346.5M53.6 335.4h2.8M53.6 346.5h2.8M53.3 339.3l3.4 3.4M53.3 342.7l3.4 -3.4M59.6 338.0V349.9M58.2 338.0h2.8M58.2 349.9h2.8M57.9 342.2l3.4 3.4M57.9 345.6l3.4 -3.4M153.6 299.8V313.0M152.2 299.8h2.8M152.2 313.0h2.8M151.9 304.7l3.4 3.4M151.9 308.1l3.4 -3.4M153.9 306.5V319.2M152.5 306.5h2.8M152.5 319.2h2.8M152.2 311.2l3.4 3.4M152.2 314.6l3.4 -3.4M124.9 309.9V318.9M123.5 309.9h2.8M123.5 318.9h2.8M123.2 312.7l3.4 3.4M123.2 316.1l3.4 -3.4M254.2 266.1V276.6M252.8 266.1h2.8M252.8 276.6h2.8M252.5 269.7l3.4 3.4M252.5 273.1l3.4 -3.4M165.3 293.2V303.8M163.9 293.2h2.8M163.9 303.8h2.8M163.6 296.8l3.4 3.4M163.6 300.2l3.4 -3.4M196.5 281.1V289.6M195.1 281.1h2.8M195.1 289.6h2.8M194.8 283.6l3.4 3.4M194.8 287.0l3.4 -3.4M138.2 304.7V314.0M136.8 304.7h2.8M136.8 314.0h2.8M136.5 307.7l3.4 3.4M136.5 311.1l3.4 -3.4M50.3 334.5V341.7M48.9 334.5h2.8M48.9 341.7h2.8M48.6 336.4l3.4 3.4M48.6 339.8l3.4 -3.4"/>
<path class="e" stroke="#0030ff" d="M256.3 278.5V288.8M254.9 278.5h2.8M254.9 288.8h2.8M254.6 282.0l3.4 3.4M254.6 285.4l3.4 -3.4M156.3 297.7V308.7M154.9 297.7h2.8M154.9 308.7h2.8M154.6 301.5l3.4 3.4M154.6 304.9l3.4 -3.4M202.4 303.8V311.9M201.0 303.8h2.8M201.0 311.9h2.8M200.7 306.2l3.4 3.4M200.7 309.6l3.4 -3.4M267.4 262.0V271.7M266.0 262.0h2.8M266.0 271.7h2.8M265.7 265.2l3.4 3.4M265.7 268.6l3.4 -3.4M145.7 301.8V312.8M144.3 301.8h2.8M144.3 312.8h2.8M144.0 305.6l3.4 3.4M144.0 309.0l3.4 -3.4M179.6 293.6V301.4M178.2 293.6h2.8M178.2 301.4h2.8M177.9 295.8l3.4 3.4M177.9 299.2l3.4 -3.4M241.7 264.2V275.3M240.3 264.2h2.8M240.3 275.3h2.8M240.0 268.1l3.4 3.4M240.0 271.5l3.4 -3.4M239.6 266.0V276.8M238.2 266.0h2.8M238.2 276.8h2.8M237.9 269.7l3.4 3.4M237.9 273.1l3.4 -3.4M137.8 306.6V316.8M136.4 306.6h2.8M136.4 316.8h2.8M136.1 310.0l3.4 3.4M136.1 313.4l3.4 -3.4M266.0 255.3V266.3M264.6 255.3h2.8M264.6 266.3h2.8M264.3 259.1l3.4 3.4M264.3 262.5l3.4 -3.4M65.6 328.3V335.0M64.2 328.3h2.8M64.2 335.0h2.8M63.9 330.0l3.4 3.4M63.9 333.4l3.4 -3.4"/>
<path class="e" stroke="#0050ff" d="M150.4 313.8V320.8M149.0 313.8h2.8M149.0 320.8h2.8M148.7 315.6l3.4 3.4M148.7 319.0l3.4 -3.4M109.6 317.7V328.0M108.2 317.7h2.8M108.2 328.0h2.8M107.9 321.2l3.4 3.4M107.9 324.6l3.4 -3.4M138.9 326.2V337.4M137.5 326.2h2.8M137.5 337.4h2.8M137.2 330.1l3.4 3.4M137.2 333.5l3.4 -3.4M264.4 262.3V269.8M263.0 262.3h2.8M263.0 269.8h2.8M262.7 264.4l3.4 3.4M262.7 267.8l3.4 -3.4M269.0 259.2V266.1M267.6 259.2h2.8M267.6 266.1h2.8M267.3 261.0l3.4 3.4M267.3 264.4l3.4 -3.4M105.5 314.6V323.5M104.1 314.6h2.8M104.1 323.5h2.8M103.8 317.3l3.4 3.4M103.8 320.7l3.4 -3.4M99.7 320.2V326.0M98.3 320.2h2.8M98.3 326.0h2.8M98.0 321.4l3.4 3.4M98.0 324.8l3.4 -3.4M107.2 309.2V316.5M105.8 309.2h2.8M105.8 316.5h2.8M105.5 311.1l3.4 3.4M105.5 314.5l3.4 -3.4M75.6 328.1V337.3M74.2 328.1h2.8M74.2 337.3h2.8M73.9 331.0l3.4 3.4M73.9 334.4l3.4 -3.4M188.4 284.9V293.8M187.0 284.9h2.8M187.0 293.8h2.8M186.7 287.7l3.4 3.4M186.7 291.1l3.4 -3.4M149.8 306.6V314.1M148.4 306.6h2.8M148.4 314.1h2.8M148.1 308.7l3.4 3.4M148.1 312.1l3.4 -3.4M196.3 279.6V288.0M194.9 279.6h2.8M194.9 288.0h2.8M194.6 282.1l3.4 3.4M194.6 285.5l3.4 -3.4M101.4 314.6V324.5M100.0 314.6h2.8M100.0 324.5h2.8M99.7 317.9l3.4 3.4M99.7 321.3l3.4 -3.4"/>
<path class="e" stroke="#0080ff" d="M221.6 281.1V290.4M220.2 281.1h2.8M220.2 290.4h2.8M219.9 284.0l3.4 3.4M219.9 287.4l3.4 -3.4M219.0 270.1V278.2M217.6 270.1h2.8M217.6 278.2h2.8M217.3 272.4l3.4 3.4M217.3 275.8l3.4 -3.4M207.5 289.2V299.2M206.1 289.2h2.8M206.1 299.2h2.8M205.8 292.5l3.4 3.4M205.8 295.9l3.4 -3.4M117.0 310.6V317.6M115.6 310.6h2.8M115.6 317.6h2.8M115.3 312.4l3.4 3.4M115.3 315.8l3.4 -3.4M193.9 277.5V285.9M192.5 277.5h2.8M192.5 285.9h2.8M192.2 280.0l3.4 3.4M192.2 283.4l3.4 -3.4M85.8 326.6V333.6M84.4 326.6h2.8M84.4 333.6h2.8M84.1 328.4l3.4 3.4M84.1 331.8l3.4 -3.4M126.5 322.0V327.5M125.1 322.0h2.8M125.1 327.5h2.8M124.8 323.1l3.4 3.4M124.8 326.5l3.4 -3.4M55.9 319.2V328.5M54.5 319.2h2.8M54.5 328.5h2.8M54.2 322.2l3.4 3.4M54.2 325.6l3.4 -3.4M66.7 321.3V327.9M65.3 321.3h2.8M65.3 327.9h2.8M65.0 322.9l3.4 3.4M65.0 326.3l3.4 -3.4M110.2 310.1V315.4M108.8 310.1h2.8M108.8 315.4h2.8M108.5 311.1l3.4 3.4M108.5 314.5l3.4 -3.4M142.8 308.4V317.3M141.4 308.4h2.8M141.4 317.3h2.8M141.1 311.2l3.4 3.4M141.1 314.6l3.4 -3.4M212.6 272.6V282.7M211.2 272.6h2.8M211.2 282.7h2.8M210.9 276.0l3.4 3.4M210.9 279.4l3.4 -3.4M125.6 308.2V317.2M124.2 308.2h2.8M124.2 317.2h2.8M123.9 311.0l3.4 3.4M123.9 314.4l3.4 -3.4"/>
<path class="e" stroke="#0090ff" d="M74.6 312.3V320.0M73.2 312.3h2.8M73.2 320.0h2.8M72.9 314.5l3.4 3.4M72.9 317.9l3.4 -3.4M103.2 323.9V329.2M101.8 323.9h2.8M101.8 329.2h2.8M101.5 324.8l3.4 3.4M101.5 328.2l3.4 -3.4M138.2 310.2V318.8M136.8 310.2h2.8M136.8 318.8h2.8M136.5 312.8l3.4 3.4M136.5 316.2l3.4 -3.4M101.9 325.2V330.9M100.5 325.2h2.8M100.5 330.9h2.8M100.2 326.3l3.4 3.4M100.2 329.7l3.4 -3.4M271.7 249.7V258.1M270.3 249.7h2.8M270.3 258.1h2.8M270.0 252.2l3.4 3.4M270.0 255.6l3.4 -3.4M254.2 255.7V265.6M252.8 255.7h2.8M252.8 265.6h2.8M252.5 258.9l3.4 3.4M252.5 262.3l3.4 -3.4M176.8 286.6V294.5M175.4 286.6h2.8M175.4 294.5h2.8M175.1 288.9l3.4 3.4M175.1 292.3l3.4 -3.4M213.0 282.2V288.0M211.6 282.2h2.8M211.6 288.0h2.8M211.3 283.4l3.4 3.4M211.3 286.8l3.4 -3.4M246.6 258.6V267.8M245.2 258.6h2.8M245.2 267.8h2.8M244.9 261.5l3.4 3.4M244.9 264.9l3.4 -3.4M128.2 315.3V321.0M126.8 315.3h2.8M126.8 321.0h2.8M126.5 316.5l3.4 3.4M126.5 319.9l3.4 -3.4M65.3 319.2V326.1M63.9 319.2h2.8M63.9 326.1h2.8M63.6 321.0l3.4 3.4M63.6 324.4l3.4 -3.4"/>
<path class="e" stroke="#00a0ff" d="M258.1 257.8V267.6M256.7 257.8h2.8M256.7 267.6h2.8M256.4 261.0l3.4 3.4M256.4 264.4l3.4 -3.4M78.8 311.8V320.4M77.4 311.8h2.8M77.4 320.4h2.8M77.1 314.4l3.4 3.4M77.1 317.8l3.4 -3.4M205.9 267.7V277.5M204.5 267.7h2.8M204.5 277.5h2.8M204.2 270.9l3.4 3.4M204.2 274.3l3.4 -3.4M114.5 311.1V318.4M113.1 311.1h2.8M113.1 318.4h2.8M112.8 313.1l3.4 3.4M112.8 316.5l3.4 -3.4M127.1 310.4V315.6M125.7 310.4h2.8M125.7 315.6h2.8M125.4 311.3l3.4 3.4M125.4 314.7l3.4 -3.4M224.3 276.0V281.9M222.9 276.0h2.8M222.9 281.9h2.8M222.6 277.3l3.4 3.4M222.6 280.7l3.4 -3.4M236.2 264.2V269.6M234.8 264.2h2.8M234.8 269.6h2.8M234.5 265.2l3.4 3.4M234.5 268.6l3.4 -3.4M242.6 268.4V275.3M241.2 268.4h2.8M241.2 275.3h2.8M240.9 270.2l3.4 3.4M240.9 273.6l3.4 -3.4"/>
<path class="e" stroke="#00b0ff" d="M172.8 292.4V301.6M171.4 292.4h2.8M171.4 301.6h2.8M171.1 295.3l3.4 3.4M171.1 298.7l3.4 -3.4M65.1 329.0V334.5M63.7 329.0h2.8M63.7 334.5h2.8M63.4 330.1l3.4 3.4M63.4 333.5l3.4 -3.4M210.3 281.0V288.0M208.9 281.0h2.8M208.9 288.0h2.8M208.6 282.8l3.4 3.4M208.6 286.2l3.4 -3.4M47.2 327.6V334.8M45.8 327.6h2.8M45.8 334.8h2.8M45.5 329.5l3.4 3.4M45.5 332.9l3.4 -3.4M158.1 290.5V297.2M156.7 290.5h2.8M156.7 297.2h2.8M156.4 292.2l3.4 3.4M156.4 295.6l3.4 -3.4M149.1 294.2V299.9M147.7 294.2h2.8M147.7 299.9h2.8M147.4 295.3l3.4 3.4M147.4 298.7l3.4 -3.4M223.4 265.2V272.1M222.0 265.2h2.8M222.0 272.1h2.8M221.7 267.0l3.4 3.4M221.7 270.4l3.4 -3.4M100.0 324.8V329.7M98.6 324.8h2.8M98.6 329.7h2.8M98.3 325.6l3.4 3.4M98.3 329.0l3.4 -3.4M154.0 303.4V309.3M152.6 303.4h2.8M152.6 309.3h2.8M152.3 304.7l3.4 3.4M152.3 308.1l3.4 -3.4"/>
<path class="e" stroke="#00c8ff" d="M149.8 305.6V311.8M148.4 305.6h2.8M148.4 311.8h2.8M148.1 307.0l3.4 3.4M148.1 310.4l3.4 -3.4M206.1 276.2V284.2M204.7 276.2h2.8M204.7 284.2h2.8M204.4 278.5l3.4 3.4M204.4 281.9l3.4 -3.4M218.5 275.7V283.8M217.1 275.7h2.8M217.1 283.8h2.8M216.8 278.0l3.4 3.4M216.8 281.4l3.4 -3.4M175.3 292.1V301.2M173.9 292.1h2.8M173.9 301.2h2.8M173.6 295.0l3.4 3.4M173.6 298.4l3.4 -3.4M163.5 295.1V300.8M162.1 295.1h2.8M162.1 300.8h2.8M161.8 296.3l3.4 3.4M161.8 299.7l3.4 -3.4M51.7 320.5V325.1M50.3 320.5h2.8M50.3 325.1h2.8M50.0 321.1l3.4 3.4M50.0 324.5l3.4 -3.4M78.1 321.2V326.0M76.7 321.2h2.8M76.7 326.0h2.8M76.4 321.9l3.4 3.4M76.4 325.3l3.4 -3.4M132.4 306.7V312.2M131.0 306.7h2.8M131.0 312.2h2.8M130.7 307.8l3.4 3.4M130.7 311.2l3.4 -3.4M68.7 331.0V339.1M67.3 331.0h2.8M67.3 339.1h2.8M67.0 333.4l3.4 3.4M67.0 336.8l3.4 -3.4M109.9 303.8V311.1M108.5 303.8h2.8M108.5 311.1h2.8M108.2 305.8l3.4 3.4M108.2 309.2l3.4 -3.4M274.4 244.2V253.6M273.0 244.2h2.8M273.0 253.6h2.8M272.7 247.2l3.4 3.4M272.7 250.6l3.4 -3.4M213.9 278.1V285.7M212.5 278.1h2.8M212.5 285.7h2.8M212.2 280.2l3.4 3.4M212.2 283.6l3.4 -3.4M210.0 282.1V287.5M208.6 282.1h2.8M208.6 287.5h2.8M208.3 283.1l3.4 3.4M208.3 286.5l3.4 -3.4M139.7 305.3V311.3M138.3 305.3h2.8M138.3 311.3h2.8M138.0 306.6l3.4 3.4M138.0 310.0l3.4 -3.4M240.2 275.3V280.7M238.8 275.3h2.8M238.8 280.7h2.8M238.5 276.3l3.4 3.4M238.5 279.7l3.4 -3.4M202.0 284.0V289.7M200.6 284.0h2.8M200.6 289.7h2.8M200.3 285.1l3.4 3.4M200.3 288.5l3.4 -3.4"/>
<path class="e" stroke="#00f0ff" d="M157.8 301.6V306.7M156.4 301.6h2.8M156.4 306.7h2.8M156.1 302.5l3.4 3.4M156.1 305.9l3.4 -3.4M235.9 278.4V284.2M234.5 278.4h2.8M234.5 284.2h2.8M234.2 279.6l3.4 3.4M234.2 283.0l3.4 -3.4M78.6 313.5V318.3M77.2 313.5h2.8M77.2 318.3h2.8M76.9 314.2l3.4 3.4M76.9 317.6l3.4 -3.4M150.9 296.1V303.7M149.5 296.1h2.8M149.5 303.7h2.8M149.2 298.2l3.4 3.4M149.2 301.6l3.4 -3.4M108.7 319.6V324.1M107.3 319.6h2.8M107.3 324.1h2.8M107.0 320.2l3.4 3.4M107.0 323.6l3.4 -3.4M138.5 299.7V307.6M137.1 299.7h2.8M137.1 307.6h2.8M136.8 301.9l3.4 3.4M136.8 305.3l3.4 -3.4M224.4 277.7V285.7M223.0 277.7h2.8M223.0 285.7h2.8M222.7 280.0l3.4 3.4M222.7 283.4l3.4 -3.4M187.0 284.9V291.8M185.6 284.9h2.8M185.6 291.8h2.8M185.3 286.7l3.4 3.4M185.3 290.1l3.4 -3.4M196.2 286.2V291.0M194.8 286.2h2.8M194.8 291.0h2.8M194.5 286.9l3.4 3.4M194.5 290.3l3.4 -3.4M85.5 318.6V324.9M84.1 318.6h2.8M84.1 324.9h2.8M83.8 320.0l3.4 3.4M83.8 323.4l3.4 -3.4M247.0 260.9V266.5M245.6 260.9h2.8M245.6 266.5h2.8M245.3 262.0l3.4 3.4M245.3 265.4l3.4 -3.4M226.7 282.4V290.7M225.3 282.4h2.8M225.3 290.7h2.8M225.0 284.8l3.4 3.4M225.0 288.2l3.4 -3.4M215.9 273.5V278.9M214.5 273.5h2.8M214.5 278.9h2.8M214.2 274.5l3.4 3.4M214.2 277.9l3.4 -3.4M192.1 275.9V283.9M190.7 275.9h2.8M190.7 283.9h2.8M190.4 278.2l3.4 3.4M190.4 281.6l3.4 -3.4M38.8 331.3V336.8M37.4 331.3h2.8M37.4 336.8h2.8M37.1 332.4l3.4 3.4M37.1 335.8l3.4 -3.4"/>
<path class="e" stroke="#00ffd8" d="M72.6 326.8V331.0M71.2 326.8h2.8M71.2 331.0h2.8M70.9 327.2l3.4 3.4M70.9 330.6l3.4 -3.4M39.4 332.1V338.3M38.0 332.1h2.8M38.0 338.3h2.8M37.7 333.5l3.4 3.4M37.7 336.9l3.4 -3.4M236.9 277.8V284.5M235.5 277.8h2.8M235.5 284.5h2.8M235.2 279.4l3.4 3.4M235.2 282.8l3.4 -3.4M50.8 318.9V326.1M49.4 318.9h2.8M49.4 326.1h2.8M49.1 320.8l3.4 3.4M49.1 324.2l3.4 -3.4M216.3 280.5V285.4M214.9 280.5h2.8M214.9 285.4h2.8M214.6 281.3l3.4 3.4M214.6 284.7l3.4 -3.4M252.0 254.8V261.5M250.6 254.8h2.8M250.6 261.5h2.8M250.3 256.5l3.4 3.4M250.3 259.9l3.4 -3.4M152.6 306.6V314.1M151.2 306.6h2.8M151.2 314.1h2.8M150.9 308.7l3.4 3.4M150.9 312.1l3.4 -3.4M40.9 342.1V348.9M39.5 342.1h2.8M39.5 348.9h2.8M39.2 343.8l3.4 3.4M39.2 347.2l3.4 -3.4M208.2 281.9V287.5M206.8 281.9h2.8M206.8 287.5h2.8M206.5 283.0l3.4 3.4M206.5 286.4l3.4 -3.4M211.1 270.7V276.1M209.7 270.7h2.8M209.7 276.1h2.8M209.4 271.7l3.4 3.4M209.4 275.1l3.4 -3.4M218.5 271.2V277.8M217.1 271.2h2.8M217.1 277.8h2.8M216.8 272.8l3.4 3.4M216.8 276.2l3.4 -3.4M142.7 298.9V304.9M141.3 298.9h2.8M141.3 304.9h2.8M141.0 300.2l3.4 3.4M141.0 303.6l3.4 -3.4M276.6 255.7V260.9M275.2 255.7h2.8M275.2 260.9h2.8M274.9 256.6l3.4 3.4M274.9 260.0l3.4 -3.4M193.0 290.8V295.5M191.6 290.8h2.8M191.6 295.5h2.8M191.3 291.5l3.4 3.4M191.3 294.9l3.4 -3.4M185.7 294.7V301.3M184.3 294.7h2.8M184.3 301.3h2.8M184.0 296.3l3.4 3.4M184.0 299.7l3.4 -3.4M152.2 302.1V306.8M150.8 302.1h2.8M150.8 306.8h2.8M150.5 302.7l3.4 3.4M150.5 306.1l3.4 -3.4M168.7 292.4V300.7M167.3 292.4h2.8M167.3 300.7h2.8M167.0 294.8l3.4 3.4M167.0 298.2l3.4 -3.4M191.8 293.5V298.0M190.4 293.5h2.8M190.4 298.0h2.8M190.1 294.0l3.4 3.4M190.1 297.4l3.4 -3.4M190.5 281.7V288.8M189.1 281.7h2.8M189.1 288.8h2.8M188.8 283.6l3.4 3.4M188.8 287.0l3.4 -3.4M97.3 315.0V322.3M95.9 315.0h2.8M95.9 322.3h2.8M95.6 316.9l3.4 3.4M95.6 320.3l3.4 -3.4M114.1 322.8V329.4M112.7 322.8h2.8M112.7 329.4h2.8M112.4 324.4l3.4 3.4M112.4 327.8l3.4 -3.4M57.1 323.7V329.4M55.7 323.7h2.8M55.7 329.4h2.8M55.4 324.8l3.4 3.4M55.4 328.2l3.4 -3.4M86.0 317.2V321.6M84.6 317.2h2.8M84.6 321.6h2.8M84.3 317.7l3.4 3.4M84.3 321.1l3.4 -3.4M180.7 284.4V291.2M179.3 284.4h2.8M179.3 291.2h2.8M179.0 286.1l3.4 3.4M179.0 289.5l3.4 -3.4M148.6 290.6V297.5M147.2 290.6h2.8M147.2 297.5h2.8M146.9 292.4l3.4 3.4M146.9 295.8l3.4 -3.4"/>
<path class="e" stroke="#00ffc0" d="M136.5 300.5V307.2M135.1 300.5h2.8M135.1 307.2h2.8M134.8 302.2l3.4 3.4M134.8 305.6l3.4 -3.4M248.2 262.8V269.4M246.8 262.8h2.8M246.8 269.4h2.8M246.5 264.4l3.4 3.4M246.5 267.8l3.4 -3.4M144.5 299.5V306.8M143.1 299.5h2.8M143.1 306.8h2.8M142.8 301.5l3.4 3.4M142.8 304.9l3.4 -3.4M180.6 293.9V299.4M179.2 293.9h2.8M179.2 299.4h2.8M178.9 295.0l3.4 3.4M178.9 298.4l3.4 -3.4M116.3 300.4V308.3M114.9 300.4h2.8M114.9 308.3h2.8M114.6 302.7l3.4 3.4M114.6 306.1l3.4 -3.4M76.4 322.2V326.5M75.0 322.2h2.8M75.0 326.5h2.8M74.7 322.7l3.4 3.4M74.7 326.1l3.4 -3.4M102.0 314.1V321.9M100.6 314.1h2.8M100.6 321.9h2.8M100.3 316.3l3.4 3.4M100.3 319.7l3.4 -3.4M219.0 278.5V285.2M217.6 278.5h2.8M217.6 285.2h2.8M217.3 280.1l3.4 3.4M217.3 283.5l3.4 -3.4M58.4 320.2V327.4M57.0 320.2h2.8M57.0 327.4h2.8M56.7 322.1l3.4 3.4M56.7 325.5l3.4 -3.4M123.7 313.5V318.5M122.3 313.5h2.8M122.3 318.5h2.8M122.0 314.3l3.4 3.4M122.0 317.7l3.4 -3.4M106.1 315.9V322.2M104.7 315.9h2.8M104.7 322.2h2.8M104.4 317.3l3.4 3.4M104.4 320.7l3.4 -3.4M203.7 273.6V281.2M202.3 273.6h2.8M202.3 281.2h2.8M202.0 275.7l3.4 3.4M202.0 279.1l3.4 -3.4M249.1 274.5V283.0M247.7 274.5h2.8M247.7 283.0h2.8M247.4 277.0l3.4 3.4M247.4 280.4l3.4 -3.4M49.7 324.9V330.6M48.3 324.9h2.8M48.3 330.6h2.8M48.0 326.0l3.4 3.4M48.0 329.4l3.4 -3.4M216.0 275.4V281.8M214.6 275.4h2.8M214.6 281.8h2.8M214.3 276.9l3.4 3.4M214.3 280.3l3.4 -3.4M70.6 331.2V335.6M69.2 331.2h2.8M69.2 335.6h2.8M68.9 331.7l3.4 3.4M68.9 335.1l3.4 -3.4M165.2 292.2V298.8M163.8 292.2h2.8M163.8 298.8h2.8M163.5 293.8l3.4 3.4M163.5 297.2l3.4 -3.4"/>
<path class="e" stroke="#00ffa0" d="M214.8 269.7V277.2M213.4 269.7h2.8M213.4 277.2h2.8M213.1 271.7l3.4 3.4M213.1 275.1l3.4 -3.4M180.1 282.7V290.3M178.7 282.7h2.8M178.7 290.3h2.8M178.4 284.8l3.4 3.4M178.4 288.2l3.4 -3.4M52.7 333.3V338.8M51.3 333.3h2.8M51.3 338.8h2.8M51.0 334.3l3.4 3.4M51.0 337.7l3.4 -3.4M149.1 306.5V312.3M147.7 306.5h2.8M147.7 312.3h2.8M147.4 307.7l3.4 3.4M147.4 311.1l3.4 -3.4M78.0 316.6V324.4M76.6 316.6h2.8M76.6 324.4h2.8M76.3 318.8l3.4 3.4M76.3 322.2l3.4 -3.4M195.8 273.5V279.8M194.4 273.5h2.8M194.4 279.8h2.8M194.1 275.0l3.4 3.4M194.1 278.4l3.4 -3.4M166.5 291.1V299.1M165.1 291.1h2.8M165.1 299.1h2.8M164.8 293.4l3.4 3.4M164.8 296.8l3.4 -3.4M156.6 295.5V300.6M155.2 295.5h2.8M155.2 300.6h2.8M154.9 296.4l3.4 3.4M154.9 299.8l3.4 -3.4M109.0 310.1V315.7M107.6 310.1h2.8M107.6 315.7h2.8M107.3 311.2l3.4 3.4M107.3 314.6l3.4 -3.4M46.5 336.4V341.4M45.1 336.4h2.8M45.1 341.4h2.8M44.8 337.2l3.4 3.4M44.8 340.6l3.4 -3.4M88.1 312.3V319.5M86.7 312.3h2.8M86.7 319.5h2.8M86.4 314.2l3.4 3.4M86.4 317.6l3.4 -3.4M104.9 305.0V312.7M103.5 305.0h2.8M103.5 312.7h2.8M103.2 307.2l3.4 3.4M103.2 310.6l3.4 -3.4M218.1 273.0V278.3M216.7 273.0h2.8M216.7 278.3h2.8M216.4 274.0l3.4 3.4M216.4 277.4l3.4 -3.4M211.9 281.6V286.6M210.5 281.6h2.8M210.5 286.6h2.8M210.2 282.4l3.4 3.4M210.2 285.8l3.4 -3.4M63.8 321.5V326.5M62.4 321.5h2.8M62.4 326.5h2.8M62.1 322.3l3.4 3.4M62.1 325.7l3.4 -3.4M42.2 326.1V332.6M40.8 326.1h2.8M40.8 332.6h2.8M40.5 327.6l3.4 3.4M40.5 331.0l3.4 -3.4M177.5 298.0V303.2M176.1 298.0h2.8M176.1 303.2h2.8M175.8 298.9l3.4 3.4M175.8 302.3l3.4 -3.4M102.7 320.9V328.7M101.3 320.9h2.8M101.3 328.7h2.8M101.0 323.1l3.4 3.4M101.0 326.5l3.4 -3.4M48.2 324.1V329.8M46.8 324.1h2.8M46.8 329.8h2.8M46.5 325.3l3.4 3.4M46.5 328.7l3.4 -3.4M87.2 316.9V323.2M85.8 316.9h2.8M85.8 323.2h2.8M85.5 318.4l3.4 3.4M85.5 321.8l3.4 -3.4M133.9 305.9V311.8M132.5 305.9h2.8M132.5 311.8h2.8M132.2 307.2l3.4 3.4M132.2 310.6l3.4 -3.4M175.1 289.2V295.7M173.7 289.2h2.8M173.7 295.7h2.8M173.4 290.8l3.4 3.4M173.4 294.2l3.4 -3.4M167.5 298.7V303.9M166.1 298.7h2.8M166.1 303.9h2.8M165.8 299.6l3.4 3.4M165.8 303.0l3.4 -3.4M107.0 315.7V320.8M105.6 315.7h2.8M105.6 320.8h2.8M105.3 316.6l3.4 3.4M105.3 320.0l3.4 -3.4"/>
<path class="e" stroke="#00ff70" d="M243.3 256.7V264.4M241.9 256.7h2.8M241.9 264.4h2.8M241.6 258.9l3.4 3.4M241.6 262.3l3.4 -3.4M242.2 265.4V272.6M240.8 265.4h2.8M240.8 272.6h2.8M240.5 267.3l3.4 3.4M240.5 270.7l3.4 -3.4M79.9 309.1V313.8M78.5 309.1h2.8M78.5 313.8h2.8M78.2 309.8l3.4 3.4M78.2 313.2l3.4 -3.4M100.6 311.2V315.3M99.2 311.2h2.8M99.2 315.3h2.8M98.9 311.5l3.4 3.4M98.9 314.9l3.4 -3.4M170.7 284.5V291.1M169.3 284.5h2.8M169.3 291.1h2.8M169.0 286.1l3.4 3.4M169.0 289.5l3.4 -3.4M101.1 312.7V319.2M99.7 312.7h2.8M99.7 319.2h2.8M99.4 314.3l3.4 3.4M99.4 317.7l3.4 -3.4M254.3 253.4V259.5M252.9 253.4h2.8M252.9 259.5h2.8M252.6 254.8l3.4 3.4M252.6 258.2l3.4 -3.4M50.2 325.5V331.7M48.8 325.5h2.8M48.8 331.7h2.8M48.5 326.9l3.4 3.4M48.5 330.3l3.4 -3.4M267.9 256.1V261.3M266.5 256.1h2.8M266.5 261.3h2.8M266.2 257.0l3.4 3.4M266.2 260.4l3.4 -3.4M82.8 333.3V338.9M81.4 333.3h2.8M81.4 338.9h2.8M81.1 334.4l3.4 3.4M81.1 337.8l3.4 -3.4M228.0 270.6V278.4M226.6 270.6h2.8M226.6 278.4h2.8M226.3 272.8l3.4 3.4M226.3 276.2l3.4 -3.4M165.7 295.1V300.5M164.3 295.1h2.8M164.3 300.5h2.8M164.0 296.1l3.4 3.4M164.0 299.5l3.4 -3.4M127.4 305.1V310.5M126.0 305.1h2.8M126.0 310.5h2.8M125.7 306.1l3.4 3.4M125.7 309.5l3.4 -3.4M231.5 273.4V279.2M230.1 273.4h2.8M230.1 279.2h2.8M229.8 274.6l3.4 3.4M229.8 278.0l3.4 -3.4M199.5 289.0V294.8M198.1 289.0h2.8M198.1 294.8h2.8M197.8 290.2l3.4 3.4M197.8 293.6l3.4 -3.4M148.5 302.4V309.3M147.1 302.4h2.8M147.1 309.3h2.8M146.8 304.2l3.4 3.4M146.8 307.6l3.4 -3.4M272.5 245.4V251.4M271.1 245.4h2.8M271.1 251.4h2.8M270.8 246.7l3.4 3.4M270.8 250.1l3.4 -3.4M190.1 286.6V294.6M188.7 286.6h2.8M188.7 294.6h2.8M188.4 288.9l3.4 3.4M188.4 292.3l3.4 -3.4M160.8 298.7V306.5M159.4 298.7h2.8M159.4 306.5h2.8M159.1 300.9l3.4 3.4M159.1 304.3l3.4 -3.4M123.6 316.6V321.7M122.2 316.6h2.8M122.2 321.7h2.8M121.9 317.5l3.4 3.4M121.9 320.9l3.4 -3.4M206.1 270.4V278.4M204.7 270.4h2.8M204.7 278.4h2.8M204.4 272.7l3.4 3.4M204.4 276.1l3.4 -3.4M142.6 311.6V316.9M141.2 311.6h2.8M141.2 316.9h2.8M140.9 312.6l3.4 3.4M140.9 316.0l3.4 -3.4M268.4 259.2V264.1M267.0 259.2h2.8M267.0 264.1h2.8M266.7 259.9l3.4 3.4M266.7 263.3l3.4 -3.4M274.9 246.9V252.3M273.5 246.9h2.8M273.5 252.3h2.8M273.2 247.9l3.4 3.4M273.2 251.3l3.4 -3.4M185.6 288.8V294.3M184.2 288.8h2.8M184.2 294.3h2.8M183.9 289.8l3.4 3.4M183.9 293.2l3.4 -3.4M207.6 271.7V279.9M206.2 271.7h2.8M206.2 279.9h2.8M205.9 274.1l3.4 3.4M205.9 277.5l3.4 -3.4M75.4 325.7V331.5M74.0 325.7h2.8M74.0 331.5h2.8M73.7 326.9l3.4 3.4M73.7 330.3l3.4 -3.4M225.1 266.5V275.1M223.7 266.5h2.8M223.7 275.1h2.8M223.4 269.1l3.4 3.4M223.4 272.5l3.4 -3.4M166.0 288.0V294.3M164.6 288.0h2.8M164.6 294.3h2.8M164.3 289.5l3.4 3.4M164.3 292.9l3.4 -3.4M91.7 314.1V320.1M90.3 314.1h2.8M90.3 320.1h2.8M90.0 315.4l3.4 3.4M90.0 318.8l3.4 -3.4M68.4 329.1V333.5M67.0 329.1h2.8M67.0 333.5h2.8M66.7 329.6l3.4 3.4M66.7 333.0l3.4 -3.4M133.7 306.6V314.7M132.3 306.6h2.8M132.3 314.7h2.8M132.0 308.9l3.4 3.4M132.0 312.3l3.4 -3.4M164.1 289.1V294.5M162.7 289.1h2.8M162.7 294.5h2.8M162.4 290.1l3.4 3.4M162.4 293.5l3.4 -3.4M50.0 322.2V329.8M48.6 322.2h2.8M48.6 329.8h2.8M48.3 324.3l3.4 3.4M48.3 327.7l3.4 -3.4"/>
<path class="e" stroke="#10ff40" d="M182.0 283.4V288.4M180.6 283.4h2.8M180.6 288.4h2.8M180.3 284.2l3.4 3.4M180.3 287.6l3.4 -3.4M115.8 299.8V305.3M114.4 299.8h2.8M114.4 305.3h2.8M114.1 300.9l3.4 3.4M114.1 304.3l3.4 -3.4M223.7 271.3V276.7M222.3 271.3h2.8M222.3 276.7h2.8M222.0 272.3l3.4 3.4M222.0 275.7l3.4 -3.4M195.4 284.1V289.1M194.0 284.1h2.8M194.0 289.1h2.8M193.7 284.9l3.4 3.4M193.7 288.3l3.4 -3.4M190.9 277.7V286.2M189.5 277.7h2.8M189.5 286.2h2.8M189.2 280.2l3.4 3.4M189.2 283.6l3.4 -3.4M271.0 255.7V262.0M269.6 255.7h2.8M269.6 262.0h2.8M269.3 257.2l3.4 3.4M269.3 260.6l3.4 -3.4M45.9 332.1V339.7M44.5 332.1h2.8M44.5 339.7h2.8M44.2 334.2l3.4 3.4M44.2 337.6l3.4 -3.4M43.4 339.3V344.7M42.0 339.3h2.8M42.0 344.7h2.8M41.7 340.3l3.4 3.4M41.7 343.7l3.4 -3.4M45.7 335.1V342.4M44.3 335.1h2.8M44.3 342.4h2.8M44.0 337.0l3.4 3.4M44.0 340.4l3.4 -3.4M106.1 316.2V320.7M104.7 316.2h2.8M104.7 320.7h2.8M104.4 316.8l3.4 3.4M104.4 320.2l3.4 -3.4M250.5 259.4V264.9M249.1 259.4h2.8M249.1 264.9h2.8M248.8 260.4l3.4 3.4M248.8 263.8l3.4 -3.4M197.9 286.9V292.8M196.5 286.9h2.8M196.5 292.8h2.8M196.2 288.2l3.4 3.4M196.2 291.6l3.4 -3.4M126.2 302.7V309.0M124.8 302.7h2.8M124.8 309.0h2.8M124.5 304.1l3.4 3.4M124.5 307.5l3.4 -3.4M85.1 324.4V330.6M83.7 324.4h2.8M83.7 330.6h2.8M83.4 325.8l3.4 3.4M83.4 329.2l3.4 -3.4M182.6 289.8V298.0M181.2 289.8h2.8M181.2 298.0h2.8M180.9 292.2l3.4 3.4M180.9 295.6l3.4 -3.4M86.7 328.1V335.0M85.3 328.1h2.8M85.3 335.0h2.8M85.0 329.8l3.4 3.4M85.0 333.2l3.4 -3.4M116.5 309.4V314.6M115.1 309.4h2.8M115.1 314.6h2.8M114.8 310.3l3.4 3.4M114.8 313.7l3.4 -3.4M90.2 317.1V322.6M88.8 317.1h2.8M88.8 322.6h2.8M88.5 318.2l3.4 3.4M88.5 321.6l3.4 -3.4M67.4 316.6V323.6M66.0 316.6h2.8M66.0 323.6h2.8M65.7 318.4l3.4 3.4M65.7 321.8l3.4 -3.4M39.3 326.5V330.8M37.9 326.5h2.8M37.9 330.8h2.8M37.6 326.9l3.4 3.4M37.6 330.3l3.4 -3.4M57.6 317.0V322.6M56.2 317.0h2.8M56.2 322.6h2.8M55.9 318.1l3.4 3.4M55.9 321.5l3.4 -3.4M278.1 252.7V260.0M276.7 252.7h2.8M276.7 260.0h2.8M276.4 254.7l3.4 3.4M276.4 258.1l3.4 -3.4M79.1 323.1V328.5M77.7 323.1h2.8M77.7 328.5h2.8M77.4 324.1l3.4 3.4M77.4 327.5l3.4 -3.4M72.8 330.3V335.2M71.4 330.3h2.8M71.4 335.2h2.8M71.1 331.1l3.4 3.4M71.1 334.5l3.4 -3.4"/>
<path class="e" stroke="#10ff00" d="M79.3 322.5V330.0M77.9 322.5h2.8M77.9 330.0h2.8M77.6 324.6l3.4 3.4M77.6 328.0l3.4 -3.4M184.2 289.5V294.2M182.8 289.5h2.8M182.8 294.2h2.8M182.5 290.1l3.4 3.4M182.5 293.5l3.4 -3.4M186.5 287.1V291.7M185.1 287.1h2.8M185.1 291.7h2.8M184.8 287.7l3.4 3.4M184.8 291.1l3.4 -3.4M135.1 308.3V315.2M133.7 308.3h2.8M133.7 315.2h2.8M133.4 310.0l3.4 3.4M133.4 313.4l3.4 -3.4M66.4 313.9V318.3M65.0 313.9h2.8M65.0 318.3h2.8M64.7 314.4l3.4 3.4M64.7 317.8l3.4 -3.4M271.6 248.1V256.6M270.2 248.1h2.8M270.2 256.6h2.8M269.9 250.6l3.4 3.4M269.9 254.0l3.4 -3.4M190.7 283.4V288.9M189.3 283.4h2.8M189.3 288.9h2.8M189.0 284.5l3.4 3.4M189.0 287.9l3.4 -3.4M129.7 320.1V325.2M128.3 320.1h2.8M128.3 325.2h2.8M128.0 321.0l3.4 3.4M128.0 324.4l3.4 -3.4M159.6 293.7V299.5M158.2 293.7h2.8M158.2 299.5h2.8M157.9 294.9l3.4 3.4M157.9 298.3l3.4 -3.4M262.8 249.1V254.8M261.4 249.1h2.8M261.4 254.8h2.8M261.1 250.2l3.4 3.4M261.1 253.6l3.4 -3.4M76.7 311.5V317.5M75.3 311.5h2.8M75.3 317.5h2.8M75.0 312.8l3.4 3.4M75.0 316.2l3.4 -3.4M210.2 280.0V287.5M208.8 280.0h2.8M208.8 287.5h2.8M208.5 282.0l3.4 3.4M208.5 285.4l3.4 -3.4M188.0 281.7V287.2M186.6 281.7h2.8M186.6 287.2h2.8M186.3 282.8l3.4 3.4M186.3 286.2l3.4 -3.4M107.9 315.6V323.4M106.5 315.6h2.8M106.5 323.4h2.8M106.2 317.8l3.4 3.4M106.2 321.2l3.4 -3.4M94.1 325.8V332.5M92.7 325.8h2.8M92.7 332.5h2.8M92.4 327.4l3.4 3.4M92.4 330.8l3.4 -3.4M41.1 337.6V344.8M39.7 337.6h2.8M39.7 344.8h2.8M39.4 339.5l3.4 3.4M39.4 342.9l3.4 -3.4M238.4 275.8V280.8M237.0 275.8h2.8M237.0 280.8h2.8M236.7 276.6l3.4 3.4M236.7 280.0l3.4 -3.4M211.7 284.5V291.3M210.3 284.5h2.8M210.3 291.3h2.8M210.0 286.2l3.4 3.4M210.0 289.6l3.4 -3.4M81.1 317.6V323.2M79.7 317.6h2.8M79.7 323.2h2.8M79.4 318.7l3.4 3.4M79.4 322.1l3.4 -3.4M238.2 275.4V283.4M236.8 275.4h2.8M236.8 283.4h2.8M236.5 277.7l3.4 3.4M236.5 281.1l3.4 -3.4"/>
<path class="e" stroke="#40ff10" d="M259.9 259.4V267.7M258.5 259.4h2.8M258.5 267.7h2.8M258.2 261.9l3.4 3.4M258.2 265.3l3.4 -3.4M121.2 305.4V311.5M119.8 305.4h2.8M119.8 311.5h2.8M119.5 306.7l3.4 3.4M119.5 310.1l3.4 -3.4M69.7 326.7V332.0M68.3 326.7h2.8M68.3 332.0h2.8M68.0 327.7l3.4 3.4M68.0 331.1l3.4 -3.4M197.0 285.9V290.8M195.6 285.9h2.8M195.6 290.8h2.8M195.3 286.6l3.4 3.4M195.3 290.0l3.4 -3.4M270.8 258.9V265.8M269.4 258.9h2.8M269.4 265.8h2.8M269.1 260.7l3.4 3.4M269.1 264.1l3.4 -3.4M224.0 277.9V285.3M222.6 277.9h2.8M222.6 285.3h2.8M222.3 279.9l3.4 3.4M222.3 283.3l3.4 -3.4M67.4 327.1V332.1M66.0 327.1h2.8M66.0 332.1h2.8M65.7 327.9l3.4 3.4M65.7 331.3l3.4 -3.4M88.2 313.8V319.6M86.8 313.8h2.8M86.8 319.6h2.8M86.5 315.0l3.4 3.4M86.5 318.4l3.4 -3.4M253.8 262.6V267.8M252.4 262.6h2.8M252.4 267.8h2.8M252.1 263.5l3.4 3.4M252.1 266.9l3.4 -3.4M53.9 327.6V334.0M52.5 327.6h2.8M52.5 334.0h2.8M52.2 329.1l3.4 3.4M52.2 332.5l3.4 -3.4M235.1 278.4V283.5M233.7 278.4h2.8M233.7 283.5h2.8M233.4 279.2l3.4 3.4M233.4 282.6l3.4 -3.4M90.2 322.9V329.0M88.8 322.9h2.8M88.8 329.0h2.8M88.5 324.3l3.4 3.4M88.5 327.7l3.4 -3.4M49.4 336.7V340.9M48.0 336.7h2.8M48.0 340.9h2.8M47.7 337.1l3.4 3.4M47.7 340.5l3.4 -3.4M244.1 262.6V271.4M242.7 262.6h2.8M242.7 271.4h2.8M242.4 265.3l3.4 3.4M242.4 268.7l3.4 -3.4M49.7 337.5V343.0M48.3 337.5h2.8M48.3 343.0h2.8M48.0 338.5l3.4 3.4M48.0 341.9l3.4 -3.4M145.7 293.2V300.5M144.3 293.2h2.8M144.3 300.5h2.8M144.0 295.2l3.4 3.4M144.0 298.6l3.4 -3.4M153.4 307.7V312.6M152.0 307.7h2.8M152.0 312.6h2.8M151.7 308.4l3.4 3.4M151.7 311.8l3.4 -3.4M195.6 286.6V293.0M194.2 286.6h2.8M194.2 293.0h2.8M193.9 288.1l3.4 3.4M193.9 291.5l3.4 -3.4M142.8 314.6V319.9M141.4 314.6h2.8M141.4 319.9h2.8M141.1 315.5l3.4 3.4M141.1 318.9l3.4 -3.4M45.7 329.9V336.0M44.3 329.9h2.8M44.3 336.0h2.8M44.0 331.2l3.4 3.4M44.0 334.6l3.4 -3.4"/>
<path class="e" stroke="#60ff10" d="M117.6 316.3V322.4M116.2 316.3h2.8M116.2 322.4h2.8M115.9 317.6l3.4 3.4M115.9 321.0l3.4 -3.4M75.1 315.5V322.9M73.7 315.5h2.8M73.7 322.9h2.8M73.4 317.5l3.4 3.4M73.4 320.9l3.4 -3.4M244.0 267.2V275.6M242.6 267.2h2.8M242.6 275.6h2.8M242.3 269.7l3.4 3.4M242.3 273.1l3.4 -3.4M171.6 298.8V305.0M170.2 298.8h2.8M170.2 305.0h2.8M169.9 300.2l3.4 3.4M169.9 303.6l3.4 -3.4M110.4 320.2V325.6M109.0 320.2h2.8M109.0 325.6h2.8M108.7 321.2l3.4 3.4M108.7 324.6l3.4 -3.4M117.0 299.9V306.1M115.6 299.9h2.8M115.6 306.1h2.8M115.3 301.3l3.4 3.4M115.3 304.7l3.4 -3.4M80.5 322.3V328.4M79.1 322.3h2.8M79.1 328.4h2.8M78.8 323.7l3.4 3.4M78.8 327.1l3.4 -3.4M42.8 323.3V330.1M41.4 323.3h2.8M41.4 330.1h2.8M41.1 325.0l3.4 3.4M41.1 328.4l3.4 -3.4M129.9 312.7V319.4M128.5 312.7h2.8M128.5 319.4h2.8M128.2 314.4l3.4 3.4M128.2 317.8l3.4 -3.4M63.8 324.4V329.6M62.4 324.4h2.8M62.4 329.6h2.8M62.1 325.3l3.4 3.4M62.1 328.7l3.4 -3.4M156.5 297.0V303.9M155.1 297.0h2.8M155.1 303.9h2.8M154.8 298.8l3.4 3.4M154.8 302.2l3.4 -3.4M279.2 252.5V258.2M277.8 252.5h2.8M277.8 258.2h2.8M277.5 253.7l3.4 3.4M277.5 257.1l3.4 -3.4M247.1 263.4V271.3M245.7 263.4h2.8M245.7 271.3h2.8M245.4 265.6l3.4 3.4M245.4 269.0l3.4 -3.4M81.4 318.4V324.5M80.0 318.4h2.8M80.0 324.5h2.8M79.7 319.7l3.4 3.4M79.7 323.1l3.4 -3.4"/>
<path class="e" stroke="#70ff00" d="M63.4 326.4V332.1M62.0 326.4h2.8M62.0 332.1h2.8M61.7 327.6l3.4 3.4M61.7 331.0l3.4 -3.4M147.0 305.3V312.4M145.6 305.3h2.8M145.6 312.4h2.8M145.3 307.2l3.4 3.4M145.3 310.6l3.4 -3.4M122.1 308.8V315.3M120.7 308.8h2.8M120.7 315.3h2.8M120.4 310.3l3.4 3.4M120.4 313.7l3.4 -3.4M137.0 314.2V319.4M135.6 314.2h2.8M135.6 319.4h2.8M135.3 315.1l3.4 3.4M135.3 318.5l3.4 -3.4M59.1 333.7V340.2M57.7 333.7h2.8M57.7 340.2h2.8M57.4 335.3l3.4 3.4M57.4 338.7l3.4 -3.4M248.3 266.1V270.8M246.9 266.1h2.8M246.9 270.8h2.8M246.6 266.7l3.4 3.4M246.6 270.1l3.4 -3.4M201.6 280.1V286.6M200.2 280.1h2.8M200.2 286.6h2.8M199.9 281.6l3.4 3.4M199.9 285.0l3.4 -3.4M250.4 257.5V265.9M249.0 257.5h2.8M249.0 265.9h2.8M248.7 260.0l3.4 3.4M248.7 263.4l3.4 -3.4M161.0 302.9V310.1M159.6 302.9h2.8M159.6 310.1h2.8M159.3 304.8l3.4 3.4M159.3 308.2l3.4 -3.4M107.5 313.4V319.5M106.1 313.4h2.8M106.1 319.5h2.8M105.8 314.7l3.4 3.4M105.8 318.1l3.4 -3.4M213.3 272.9V280.0M211.9 272.9h2.8M211.9 280.0h2.8M211.6 274.8l3.4 3.4M211.6 278.2l3.4 -3.4"/>
<path class="e" stroke="#88ff10" d="M100.3 322.4V326.6M98.9 322.4h2.8M98.9 326.6h2.8M98.6 322.8l3.4 3.4M98.6 326.2l3.4 -3.4M50.1 336.9V343.3M48.7 336.9h2.8M48.7 343.3h2.8M48.4 338.4l3.4 3.4M48.4 341.8l3.4 -3.4M189.1 284.6V289.6M187.7 284.6h2.8M187.7 289.6h2.8M187.4 285.4l3.4 3.4M187.4 288.8l3.4 -3.4M121.7 314.5V321.3M120.3 314.5h2.8M120.3 321.3h2.8M120.0 316.2l3.4 3.4M120.0 319.6l3.4 -3.4M47.6 330.8V335.9M46.2 330.8h2.8M46.2 335.9h2.8M45.9 331.7l3.4 3.4M45.9 335.1l3.4 -3.4M100.2 317.0V324.2M98.8 317.0h2.8M98.8 324.2h2.8M98.5 318.9l3.4 3.4M98.5 322.3l3.4 -3.4M259.8 273.1V281.0M258.4 273.1h2.8M258.4 281.0h2.8M258.1 275.3l3.4 3.4M258.1 278.7l3.4 -3.4M83.3 324.3V330.7M81.9 324.3h2.8M81.9 330.7h2.8M81.6 325.8l3.4 3.4M81.6 329.2l3.4 -3.4M249.7 266.9V273.7M248.3 266.9h2.8M248.3 273.7h2.8M248.0 268.6l3.4 3.4M248.0 272.0l3.4 -3.4M39.6 330.2V334.9M38.2 330.2h2.8M38.2 334.9h2.8M37.9 330.9l3.4 3.4M37.9 334.3l3.4 -3.4M136.1 304.8V310.2M134.7 304.8h2.8M134.7 310.2h2.8M134.4 305.8l3.4 3.4M134.4 309.2l3.4 -3.4"/>
<path class="e" stroke="#a0ff00" d="M269.4 258.1V264.2M268.0 258.1h2.8M268.0 264.2h2.8M267.7 259.4l3.4 3.4M267.7 262.8l3.4 -3.4M225.9 266.2V271.7M224.5 266.2h2.8M224.5 271.7h2.8M224.2 267.2l3.4 3.4M224.2 270.6l3.4 -3.4M183.0 280.6V286.5M181.6 280.6h2.8M181.6 286.5h2.8M181.3 281.9l3.4 3.4M181.3 285.3l3.4 -3.4M136.7 304.3V310.7M135.3 304.3h2.8M135.3 310.7h2.8M135.0 305.8l3.4 3.4M135.0 309.2l3.4 -3.4M86.7 319.9V326.1M85.3 319.9h2.8M85.3 326.1h2.8M85.0 321.3l3.4 3.4M85.0 324.7l3.4 -3.4M71.0 316.5V321.8M69.6 316.5h2.8M69.6 321.8h2.8M69.3 317.4l3.4 3.4M69.3 320.8l3.4 -3.4M141.9 306.7V314.9M140.5 306.7h2.8M140.5 314.9h2.8M140.2 309.1l3.4 3.4M140.2 312.5l3.4 -3.4M221.1 284.6V290.8M219.7 284.6h2.8M219.7 290.8h2.8M219.4 286.0l3.4 3.4M219.4 289.4l3.4 -3.4M255.5 270.1V278.0M254.1 270.1h2.8M254.1 278.0h2.8M253.8 272.3l3.4 3.4M253.8 275.7l3.4 -3.4M279.4 259.5V267.8M278.0 259.5h2.8M278.0 267.8h2.8M277.7 261.9l3.4 3.4M277.7 265.3l3.4 -3.4M88.4 327.0V331.9M87.0 327.0h2.8M87.0 331.9h2.8M86.7 327.8l3.4 3.4M86.7 331.2l3.4 -3.4M39.7 340.6V346.7M38.3 340.6h2.8M38.3 346.7h2.8M38.0 342.0l3.4 3.4M38.0 345.4l3.4 -3.4M242.3 268.3V276.4M240.9 268.3h2.8M240.9 276.4h2.8M240.6 270.6l3.4 3.4M240.6 274.0l3.4 -3.4M196.7 293.0V301.0M195.3 293.0h2.8M195.3 301.0h2.8M195.0 295.3l3.4 3.4M195.0 298.7l3.4 -3.4"/>
<path class="e" stroke="#b0ff00" d="M147.8 306.8V313.3M146.4 306.8h2.8M146.4 313.3h2.8M146.1 308.3l3.4 3.4M146.1 311.7l3.4 -3.4M73.4 339.6V345.1M72.0 339.6h2.8M72.0 345.1h2.8M71.7 340.7l3.4 3.4M71.7 344.1l3.4 -3.4M240.4 282.2V290.4M239.0 282.2h2.8M239.0 290.4h2.8M238.7 284.6l3.4 3.4M238.7 288.0l3.4 -3.4M120.5 307.6V314.6M119.1 307.6h2.8M119.1 314.6h2.8M118.8 309.4l3.4 3.4M118.8 312.8l3.4 -3.4M105.0 316.2V323.3M103.6 316.2h2.8M103.6 323.3h2.8M103.3 318.0l3.4 3.4M103.3 321.4l3.4 -3.4"/>
<path class="e" stroke="#d0ff00" d="M255.6 264.7V272.1M254.2 264.7h2.8M254.2 272.1h2.8M253.9 266.7l3.4 3.4M253.9 270.1l3.4 -3.4M75.7 319.8V324.4M74.3 319.8h2.8M74.3 324.4h2.8M74.0 320.4l3.4 3.4M74.0 323.8l3.4 -3.4M54.2 329.3V335.4M52.8 329.3h2.8M52.8 335.4h2.8M52.5 330.7l3.4 3.4M52.5 334.1l3.4 -3.4M250.7 274.0V282.0M249.3 274.0h2.8M249.3 282.0h2.8M249.0 276.3l3.4 3.4M249.0 279.7l3.4 -3.4M260.3 271.0V276.8M258.9 271.0h2.8M258.9 276.8h2.8M258.6 272.2l3.4 3.4M258.6 275.6l3.4 -3.4M270.1 259.8V265.2M268.7 259.8h2.8M268.7 265.2h2.8M268.4 260.8l3.4 3.4M268.4 264.2l3.4 -3.4M205.2 290.0V298.4M203.8 290.0h2.8M203.8 298.4h2.8M203.5 292.5l3.4 3.4M203.5 295.9l3.4 -3.4M93.8 327.1V333.6M92.4 327.1h2.8M92.4 333.6h2.8M92.1 328.7l3.4 3.4M92.1 332.1l3.4 -3.4"/>
<path class="e" stroke="#e0ff00" d="M129.6 302.9V309.3M128.2 302.9h2.8M128.2 309.3h2.8M127.9 304.4l3.4 3.4M127.9 307.8l3.4 -3.4M271.4 249.8V258.6M270.0 249.8h2.8M270.0 258.6h2.8M269.7 252.5l3.4 3.4M269.7 255.9l3.4 -3.4M99.5 311.4V316.0M98.1 311.4h2.8M98.1 316.0h2.8M97.8 312.0l3.4 3.4M97.8 315.4l3.4 -3.4M202.1 290.3V299.4M200.7 290.3h2.8M200.7 299.4h2.8M200.4 293.2l3.4 3.4M200.4 296.6l3.4 -3.4M56.5 333.2V340.4M55.1 333.2h2.8M55.1 340.4h2.8M54.8 335.1l3.4 3.4M54.8 338.5l3.4 -3.4M231.1 282.1V291.3M229.7 282.1h2.8M229.7 291.3h2.8M229.4 285.0l3.4 3.4M229.4 288.4l3.4 -3.4M225.1 273.6V279.2M223.7 273.6h2.8M223.7 279.2h2.8M223.4 274.7l3.4 3.4M223.4 278.1l3.4 -3.4M177.2 308.1V314.7M175.8 308.1h2.8M175.8 314.7h2.8M175.5 309.7l3.4 3.4M175.5 313.1l3.4 -3.4M39.0 323.8V328.6M37.6 323.8h2.8M37.6 328.6h2.8M37.3 324.5l3.4 3.4M37.3 327.9l3.4 -3.4M78.4 322.9V327.4M77.0 322.9h2.8M77.0 327.4h2.8M76.7 323.4l3.4 3.4M76.7 326.8l3.4 -3.4M45.1 326.7V334.0M43.7 326.7h2.8M43.7 334.0h2.8M43.4 328.6l3.4 3.4M43.4 332.0l3.4 -3.4"/>
<path class="e" stroke="#ffff10" d="M123.4 310.8V316.0M122.0 310.8h2.8M122.0 316.0h2.8M121.7 311.7l3.4 3.4M121.7 315.1l3.4 -3.4M127.0 316.0V324.4M125.6 316.0h2.8M125.6 324.4h2.8M125.3 318.5l3.4 3.4M125.3 321.9l3.4 -3.4M75.0 330.9V339.4M73.6 330.9h2.8M73.6 339.4h2.8M73.3 333.4l3.4 3.4M73.3 336.8l3.4 -3.4M64.3 329.2V335.0M62.9 329.2h2.8M62.9 335.0h2.8M62.6 330.4l3.4 3.4M62.6 333.8l3.4 -3.4M258.6 261.5V270.0M257.2 261.5h2.8M257.2 270.0h2.8M256.9 264.0l3.4 3.4M256.9 267.4l3.4 -3.4M170.9 300.3V308.3M169.5 300.3h2.8M169.5 308.3h2.8M169.2 302.6l3.4 3.4M169.2 306.0l3.4 -3.4M118.1 320.3V328.1M116.7 320.3h2.8M116.7 328.1h2.8M116.4 322.5l3.4 3.4M116.4 325.9l3.4 -3.4M85.8 322.0V328.3M84.4 322.0h2.8M84.4 328.3h2.8M84.1 323.4l3.4 3.4M84.1 326.8l3.4 -3.4M55.0 332.1V338.7M53.6 332.1h2.8M53.6 338.7h2.8M53.3 333.7l3.4 3.4M53.3 337.1l3.4 -3.4"/>
<path class="e" stroke="#ffe000" d="M142.7 308.9V315.0M141.3 308.9h2.8M141.3 315.0h2.8M141.0 310.3l3.4 3.4M141.0 313.7l3.4 -3.4M58.6 330.1V339.4M57.2 330.1h2.8M57.2 339.4h2.8M56.9 333.1l3.4 3.4M56.9 336.5l3.4 -3.4M236.9 273.0V279.6M235.5 273.0h2.8M235.5 279.6h2.8M235.2 274.6l3.4 3.4M235.2 278.0l3.4 -3.4M117.7 309.9V319.6M116.3 309.9h2.8M116.3 319.6h2.8M116.0 313.0l3.4 3.4M116.0 316.4l3.4 -3.4M84.8 322.8V331.9M83.4 322.8h2.8M83.4 331.9h2.8M83.1 325.6l3.4 3.4M83.1 329.0l3.4 -3.4M277.8 264.3V273.8M276.4 264.3h2.8M276.4 273.8h2.8M276.1 267.3l3.4 3.4M276.1 270.7l3.4 -3.4M266.3 268.0V278.7M264.9 268.0h2.8M264.9 278.7h2.8M264.6 271.7l3.4 3.4M264.6 275.1l3.4 -3.4"/>
<path class="e" stroke="#ffd000" d="M42.2 333.4V340.5M40.8 333.4h2.8M40.8 340.5h2.8M40.5 335.3l3.4 3.4M40.5 338.7l3.4 -3.4M57.3 327.2V335.5M55.9 327.2h2.8M55.9 335.5h2.8M55.6 329.6l3.4 3.4M55.6 333.0l3.4 -3.4M255.1 259.5V266.3M253.7 259.5h2.8M253.7 266.3h2.8M253.4 261.2l3.4 3.4M253.4 264.6l3.4 -3.4M117.9 312.9V319.5M116.5 312.9h2.8M116.5 319.5h2.8M116.2 314.5l3.4 3.4M116.2 317.9l3.4 -3.4M125.6 313.3V322.1M124.2 313.3h2.8M124.2 322.1h2.8M123.9 316.0l3.4 3.4M123.9 319.4l3.4 -3.4M91.9 334.9V342.0M90.5 334.9h2.8M90.5 342.0h2.8M90.2 336.7l3.4 3.4M90.2 340.1l3.4 -3.4M139.3 294.4V303.5M137.9 294.4h2.8M137.9 303.5h2.8M137.6 297.3l3.4 3.4M137.6 300.7l3.4 -3.4"/>
<path class="e" stroke="#ffc000" d="M248.6 264.7V273.7M247.2 264.7h2.8M247.2 273.7h2.8M246.9 267.5l3.4 3.4M246.9 270.9l3.4 -3.4M272.5 252.5V259.2M271.1 252.5h2.8M271.1 259.2h2.8M270.8 254.2l3.4 3.4M270.8 257.6l3.4 -3.4M89.8 325.4V334.1M88.4 325.4h2.8M88.4 334.1h2.8M88.1 328.0l3.4 3.4M88.1 331.4l3.4 -3.4"/>
<path class="e" stroke="#ffb000" d="M231.1 275.8V287.3M229.7 275.8h2.8M229.7 287.3h2.8M229.4 279.9l3.4 3.4M229.4 283.3l3.4 -3.4M257.2 270.7V277.0M255.8 270.7h2.8M255.8 277.0h2.8M255.5 272.1l3.4 3.4M255.5 275.5l3.4 -3.4M269.4 272.5V280.0M268.0 272.5h2.8M268.0 280.0h2.8M267.7 274.6l3.4 3.4M267.7 278.0l3.4 -3.4M55.9 337.4V345.4M54.5 337.4h2.8M54.5 345.4h2.8M54.2 339.7l3.4 3.4M54.2 343.1l3.4 -3.4M60.9 319.2V327.8M59.5 319.2h2.8M59.5 327.8h2.8M59.2 321.8l3.4 3.4M59.2 325.2l3.4 -3.4M228.8 264.1V275.2M227.4 264.1h2.8M227.4 275.2h2.8M227.1 268.0l3.4 3.4M227.1 271.4l3.4 -3.4M200.3 299.0V308.0M198.9 299.0h2.8M198.9 308.0h2.8M198.6 301.8l3.4 3.4M198.6 305.2l3.4 -3.4M255.3 262.1V270.9M253.9 262.1h2.8M253.9 270.9h2.8M253.6 264.8l3.4 3.4M253.6 268.2l3.4 -3.4M200.8 290.0V298.5M199.4 290.0h2.8M199.4 298.5h2.8M199.1 292.6l3.4 3.4M199.1 296.0l3.4 -3.4M222.7 274.3V286.1M221.3 274.3h2.8M221.3 286.1h2.8M221.0 278.5l3.4 3.4M221.0 281.9l3.4 -3.4M123.5 308.3V318.7M122.1 308.3h2.8M122.1 318.7h2.8M121.8 311.8l3.4 3.4M121.8 315.2l3.4 -3.4M131.9 312.0V320.2M130.5 312.0h2.8M130.5 320.2h2.8M130.2 314.4l3.4 3.4M130.2 317.8l3.4 -3.4M219.8 275.2V285.9M218.4 275.2h2.8M218.4 285.9h2.8M218.1 278.8l3.4 3.4M218.1 282.2l3.4 -3.4M66.0 335.8V346.2M64.6 335.8h2.8M64.6 346.2h2.8M64.3 339.3l3.4 3.4M64.3 342.7l3.4 -3.4"/>
<path class="e" stroke="#ffa000" d="M71.3 323.9V332.9M69.9 323.9h2.8M69.9 332.9h2.8M69.6 326.7l3.4 3.4M69.6 330.1l3.4 -3.4M236.5 281.0V288.8M235.1 281.0h2.8M235.1 288.8h2.8M234.8 283.2l3.4 3.4M234.8 286.6l3.4 -3.4M222.6 281.3V288.5M221.2 281.3h2.8M221.2 288.5h2.8M220.9 283.2l3.4 3.4M220.9 286.6l3.4 -3.4M192.7 283.8V292.3M191.3 283.8h2.8M191.3 292.3h2.8M191.0 286.3l3.4 3.4M191.0 289.7l3.4 -3.4M54.9 333.3V339.1M53.5 333.3h2.8M53.5 339.1h2.8M53.2 334.5l3.4 3.4M53.2 337.9l3.4 -3.4M196.4 291.3V302.3M195.0 291.3h2.8M195.0 302.3h2.8M194.7 295.1l3.4 3.4M194.7 298.5l3.4 -3.4"/>
<path class="e" stroke="#ff8c00" d="M140.2 309.8V320.2M138.8 309.8h2.8M138.8 320.2h2.8M138.5 313.3l3.4 3.4M138.5 316.7l3.4 -3.4M241.2 277.2V288.4M239.8 277.2h2.8M239.8 288.4h2.8M239.5 281.1l3.4 3.4M239.5 284.5l3.4 -3.4M120.3 327.2V335.7M118.9 327.2h2.8M118.9 335.7h2.8M118.6 329.8l3.4 3.4M118.6 333.2l3.4 -3.4M243.9 270.8V283.1M242.5 270.8h2.8M242.5 283.1h2.8M242.2 275.2l3.4 3.4M242.2 278.6l3.4 -3.4M207.9 273.7V286.6M206.5 273.7h2.8M206.5 286.6h2.8M206.2 278.5l3.4 3.4M206.2 281.9l3.4 -3.4M213.4 275.7V286.4M212.0 275.7h2.8M212.0 286.4h2.8M211.7 279.3l3.4 3.4M211.7 282.7l3.4 -3.4"/>
<path class="e" stroke="#ff7000" d="M111.2 316.1V322.8M109.8 316.1h2.8M109.8 322.8h2.8M109.5 317.7l3.4 3.4M109.5 321.1l3.4 -3.4M143.0 312.0V321.8M141.6 312.0h2.8M141.6 321.8h2.8M141.3 315.2l3.4 3.4M141.3 318.6l3.4 -3.4M264.6 273.5V281.9M263.2 273.5h2.8M263.2 281.9h2.8M262.9 276.0l3.4 3.4M262.9 279.4l3.4 -3.4M69.3 320.8V330.8M67.9 320.8h2.8M67.9 330.8h2.8M67.6 324.1l3.4 3.4M67.6 327.5l3.4 -3.4M111.7 320.4V332.8M110.3 320.4h2.8M110.3 332.8h2.8M110.0 324.9l3.4 3.4M110.0 328.3l3.4 -3.4M246.5 272.0V285.0M245.1 272.0h2.8M245.1 285.0h2.8M244.8 276.8l3.4 3.4M244.8 280.2l3.4 -3.4M110.3 316.0V327.5M108.9 316.0h2.8M108.9 327.5h2.8M108.6 320.0l3.4 3.4M108.6 323.4l3.4 -3.4M124.9 325.0V332.8M123.5 325.0h2.8M123.5 332.8h2.8M123.2 327.2l3.4 3.4M123.2 330.6l3.4 -3.4M147.8 307.4V317.3M146.4 307.4h2.8M146.4 317.3h2.8M146.1 310.6l3.4 3.4M146.1 314.0l3.4 -3.4M42.9 333.6V341.6M41.5 333.6h2.8M41.5 341.6h2.8M41.2 335.9l3.4 3.4M41.2 339.3l3.4 -3.4"/>
<path class="e" stroke="#ff5000" d="M242.3 272.4V282.0M240.9 272.4h2.8M240.9 282.0h2.8M240.6 275.5l3.4 3.4M240.6 278.9l3.4 -3.4M210.3 277.5V287.0M208.9 277.5h2.8M208.9 287.0h2.8M208.6 280.6l3.4 3.4M208.6 284.0l3.4 -3.4M120.1 313.8V323.6M118.7 313.8h2.8M118.7 323.6h2.8M118.4 317.0l3.4 3.4M118.4 320.4l3.4 -3.4M264.4 264.8V276.8M263.0 264.8h2.8M263.0 276.8h2.8M262.7 269.1l3.4 3.4M262.7 272.5l3.4 -3.4M161.0 304.3V316.4M159.6 304.3h2.8M159.6 316.4h2.8M159.3 308.7l3.4 3.4M159.3 312.1l3.4 -3.4"/>
<path class="e" stroke="#ff4000" d="M110.3 317.5V331.1M108.9 317.5h2.8M108.9 331.1h2.8M108.6 322.6l3.4 3.4M108.6 326.0l3.4 -3.4M210.6 295.1V312.2M209.2 295.1h2.8M209.2 312.2h2.8M208.9 302.0l3.4 3.4M208.9 305.4l3.4 -3.4M90.2 328.0V339.5M88.8 328.0h2.8M88.8 339.5h2.8M88.5 332.1l3.4 3.4M88.5 335.5l3.4 -3.4M168.5 283.6V294.7M167.1 283.6h2.8M167.1 294.7h2.8M166.8 287.4l3.4 3.4M166.8 290.8l3.4 -3.4M209.3 271.8V284.4M207.9 271.8h2.8M207.9 284.4h2.8M207.6 276.4l3.4 3.4M207.6 279.8l3.4 -3.4M120.7 311.4V323.9M119.3 311.4h2.8M119.3 323.9h2.8M119.0 315.9l3.4 3.4M119.0 319.3l3.4 -3.4M96.3 318.1V329.1M94.9 318.1h2.8M94.9 329.1h2.8M94.6 321.9l3.4 3.4M94.6 325.3l3.4 -3.4"/>
<path class="e" stroke="#ff2000" d="M267.8 267.8V281.4M266.4 267.8h2.8M266.4 281.4h2.8M266.1 272.9l3.4 3.4M266.1 276.3l3.4 -3.4M222.3 275.5V285.3M220.9 275.5h2.8M220.9 285.3h2.8M220.6 278.7l3.4 3.4M220.6 282.1l3.4 -3.4M106.6 321.6V332.5M105.2 321.6h2.8M105.2 332.5h2.8M104.9 325.3l3.4 3.4M104.9 328.7l3.4 -3.4M59.4 321.3V332.7M58.0 321.3h2.8M58.0 332.7h2.8M57.7 325.3l3.4 3.4M57.7 328.7l3.4 -3.4M190.2 298.3V315.9M188.8 298.3h2.8M188.8 315.9h2.8M188.5 305.4l3.4 3.4M188.5 308.8l3.4 -3.4M254.2 275.7V286.0M252.8 275.7h2.8M252.8 286.0h2.8M252.5 279.2l3.4 3.4M252.5 282.6l3.4 -3.4M106.3 323.0V332.1M104.9 323.0h2.8M104.9 332.1h2.8M104.6 325.8l3.4 3.4M104.6 329.2l3.4 -3.4M182.8 303.8V317.7M181.4 303.8h2.8M181.4 317.7h2.8M181.1 309.0l3.4 3.4M181.1 312.4l3.4 -3.4M186.6 304.8V322.7M185.2 304.8h2.8M185.2 322.7h2.8M184.9 312.0l3.4 3.4M184.9 315.4l3.4 -3.4M125.1 304.1V320.9M123.7 304.1h2.8M123.7 320.9h2.8M123.4 310.8l3.4 3.4M123.4 314.2l3.4 -3.4"/>
<path class="e" stroke="#ff0000" d="M56.9 333.6V347.1M55.5 333.6h2.8M55.5 347.1h2.8M55.2 338.7l3.4 3.4M55.2 342.1l3.4 -3.4M274.5 267.1V278.8M273.1 267.1h2.8M273.1 278.8h2.8M272.8 271.2l3.4 3.4M272.8 274.6l3.4 -3.4M167.2 304.9V320.4M165.8 304.9h2.8M165.8 320.4h2.8M165.5 310.9l3.4 3.4M165.5 314.3l3.4 -3.4M156.9 309.8V322.5M155.5 309.8h2.8M155.5 322.5h2.8M155.2 314.4l3.4 3.4M155.2 317.8l3.4 -3.4M89.4 328.5V343.4M88.0 328.5h2.8M88.0 343.4h2.8M87.7 334.3l3.4 3.4M87.7 337.7l3.4 -3.4"/>
<path class="e" stroke="#4400a0" d="M267.0 211.0V226.0M265.6 211.0h2.8M265.6 226.0h2.8M265.3 216.8l3.4 3.4M265.3 220.2l3.4 -3.4M45.5 360.0V372.0M44.1 360.0h2.8M44.1 372.0h2.8M43.8 364.3l3.4 3.4M43.8 367.7l3.4 -3.4"/>
<path class="e" stroke="#ff2000" d="M92.2 297.5V320.5M90.8 297.5h2.8M90.8 320.5h2.8M90.5 307.3l3.4 3.4M90.5 310.7l3.4 -3.4"/>
<polyline class="dot" points="32.8,331.1 37.1,329.5 41.4,327.9 45.7,326.3 50.0,324.7 54.3,323.1 58.6,321.5 62.9,319.9 67.2,318.3 71.5,316.6 75.8,315.0 80.1,313.3 84.4,311.7 88.7,310.0 93.0,308.4 97.3,306.7 101.6,305.0 105.9,303.4 110.2,301.7 114.5,300.0 118.8,298.3 123.1,296.6 127.4,294.9 131.7,293.2 136.0,291.5 140.3,289.7 144.6,288.0 148.9,286.3 153.2,284.5 157.5,282.8 161.8,281.0 166.1,279.3 170.3,277.5 174.6,275.8 178.9,274.0 183.2,272.2 187.5,270.4 191.8,268.7 196.1,266.9 200.4,265.1 204.7,263.3 209.0,261.4 213.3,259.6 217.6,257.8 221.9,256.0 226.2,254.2 230.5,252.3 234.8,250.5 239.1,248.6 243.4,246.8 247.7,244.9 252.0,243.1 256.3,241.2 260.6,239.3 264.9,237.4 269.2,235.5 273.5,233.6 277.8,231.7 282.1,229.8 286.4,227.9"/>
<polyline class="dot" points="32.8,359.4 37.1,358.0 41.4,356.7 45.7,355.4 50.0,354.0 54.3,352.7 58.6,351.3 62.9,350.0 67.2,348.6 71.5,347.2 75.8,345.9 80.1,344.5 84.4,343.1 88.7,341.7 93.0,340.4 97.3,339.0 101.6,337.6 105.9,336.2 110.2,334.8 114.5,333.4 118.8,331.9 123.1,330.5 127.4,329.1 131.7,327.7 136.0,326.2 140.3,324.8 144.6,323.4 148.9,321.9 153.2,320.5 157.5,319.0 161.8,317.6 166.1,316.1 170.3,314.6 174.6,313.1 178.9,311.7 183.2,310.2 187.5,308.7 191.8,307.2 196.1,305.7 200.4,304.2 204.7,302.7 209.0,301.2 213.3,299.7 217.6,298.2 221.9,296.6 226.2,295.1 230.5,293.6 234.8,292.0 239.1,290.5 243.4,288.9 247.7,287.4 252.0,285.8 256.3,284.3 260.6,282.7 264.9,281.1 269.2,279.6 273.5,278.0 277.8,276.4 282.1,274.8 286.4,273.2"/>
<polyline fill="none" stroke="#000" stroke-width="0.95" points="32.8,345.2 37.1,343.8 41.4,342.3 45.7,340.8 50.0,339.4 54.3,337.9 58.6,336.4 62.9,334.9 67.2,333.4 71.5,331.9 75.8,330.4 80.1,328.9 84.4,327.4 88.7,325.9 93.0,324.4 97.3,322.8 101.6,321.3 105.9,319.8 110.2,318.2 114.5,316.7 118.8,315.1 123.1,313.6 127.4,312.0 131.7,310.4 136.0,308.9 140.3,307.3 144.6,305.7 148.9,304.1 153.2,302.5 157.5,300.9 161.8,299.3 166.1,297.7 170.3,296.1 174.6,294.5 178.9,292.8 183.2,291.2 187.5,289.6 191.8,287.9 196.1,286.3 200.4,284.6 204.7,283.0 209.0,281.3 213.3,279.7 217.6,278.0 221.9,276.3 226.2,274.6 230.5,272.9 234.8,271.3 239.1,269.6 243.4,267.9 247.7,266.2 252.0,264.4 256.3,262.7 260.6,261.0 264.9,259.3 269.2,257.5 273.5,255.8 277.8,254.1 282.1,252.3 286.4,250.6"/>
<path stroke="#f00" stroke-width="1" stroke-dasharray="2.5 3" d="M41 349.9L278 243.1"/>
</svg>
<svg x="332.5" y="206.4" width="236.7" height="174.5" viewBox="332.5 206.4 236.7 174.5" overflow="hidden">
<path class="e" stroke="#2a0530" d="M537.5 232.5V281.0M536.1 232.5h2.8M536.1 281.0h2.8M535.8 255.1l3.4 3.4M535.8 258.5l3.4 -3.4M391.6 268.0V313.3M390.2 268.0h2.8M390.2 313.3h2.8M389.9 288.9l3.4 3.4M389.9 292.3l3.4 -3.4M383.4 294.1V328.0M382.0 294.1h2.8M382.0 328.0h2.8M381.7 309.4l3.4 3.4M381.7 312.8l3.4 -3.4M458.6 268.3V306.3M457.2 268.3h2.8M457.2 306.3h2.8M456.9 285.6l3.4 3.4M456.9 289.0l3.4 -3.4"/>
<path class="e" stroke="#3a0545" d="M503.1 306.8V348.8M501.7 306.8h2.8M501.7 348.8h2.8M501.4 326.1l3.4 3.4M501.4 329.5l3.4 -3.4"/>
<path class="e" stroke="#440055" d="M385.3 288.7V330.6M383.9 288.7h2.8M383.9 330.6h2.8M383.6 307.9l3.4 3.4M383.6 311.3l3.4 -3.4M455.7 295.7V335.3M454.3 295.7h2.8M454.3 335.3h2.8M454.0 313.8l3.4 3.4M454.0 317.2l3.4 -3.4M450.1 269.5V306.5M448.7 269.5h2.8M448.7 306.5h2.8M448.4 286.3l3.4 3.4M448.4 289.7l3.4 -3.4M514.6 307.5V338.4M513.2 307.5h2.8M513.2 338.4h2.8M512.9 321.3l3.4 3.4M512.9 324.7l3.4 -3.4"/>
<path class="e" stroke="#4a0060" d="M389.8 239.9V267.3M388.4 239.9h2.8M388.4 267.3h2.8M388.1 251.9l3.4 3.4M388.1 255.3l3.4 -3.4M449.8 295.0V329.4M448.4 295.0h2.8M448.4 329.4h2.8M448.1 310.5l3.4 3.4M448.1 313.9l3.4 -3.4M495.1 295.8V344.0M493.7 295.8h2.8M493.7 344.0h2.8M493.4 318.2l3.4 3.4M493.4 321.6l3.4 -3.4M453.4 271.3V298.1M452.0 271.3h2.8M452.0 298.1h2.8M451.7 283.0l3.4 3.4M451.7 286.4l3.4 -3.4M427.3 247.9V288.2M425.9 247.9h2.8M425.9 288.2h2.8M425.6 266.3l3.4 3.4M425.6 269.7l3.4 -3.4M483.7 298.6V328.6M482.3 298.6h2.8M482.3 328.6h2.8M482.0 311.9l3.4 3.4M482.0 315.3l3.4 -3.4M471.2 286.3V322.7M469.8 286.3h2.8M469.8 322.7h2.8M469.5 302.8l3.4 3.4M469.5 306.2l3.4 -3.4"/>
<path class="e" stroke="#50006a" d="M463.0 250.9V277.0M461.6 250.9h2.8M461.6 277.0h2.8M461.3 262.2l3.4 3.4M461.3 265.6l3.4 -3.4M481.8 252.6V301.7M480.4 252.6h2.8M480.4 301.7h2.8M480.1 275.5l3.4 3.4M480.1 278.9l3.4 -3.4M570.2 301.9V335.6M568.8 301.9h2.8M568.8 335.6h2.8M568.5 317.0l3.4 3.4M568.5 320.4l3.4 -3.4M427.4 269.0V307.1M426.0 269.0h2.8M426.0 307.1h2.8M425.7 286.3l3.4 3.4M425.7 289.7l3.4 -3.4M527.0 243.4V291.0M525.6 243.4h2.8M525.6 291.0h2.8M525.3 265.5l3.4 3.4M525.3 268.9l3.4 -3.4M420.3 270.2V303.9M418.9 270.2h2.8M418.9 303.9h2.8M418.6 285.4l3.4 3.4M418.6 288.8l3.4 -3.4"/>
<path class="e" stroke="#550075" d="M540.1 279.6V320.7M538.7 279.6h2.8M538.7 320.7h2.8M538.4 298.4l3.4 3.4M538.4 301.8l3.4 -3.4M536.5 222.7V255.2M535.1 222.7h2.8M535.1 255.2h2.8M534.8 237.2l3.4 3.4M534.8 240.6l3.4 -3.4M566.4 281.6V327.3M565.0 281.6h2.8M565.0 327.3h2.8M564.7 302.7l3.4 3.4M564.7 306.1l3.4 -3.4M474.4 281.9V309.7M473.0 281.9h2.8M473.0 309.7h2.8M472.7 294.1l3.4 3.4M472.7 297.5l3.4 -3.4M480.6 303.0V337.8M479.2 303.0h2.8M479.2 337.8h2.8M478.9 318.7l3.4 3.4M478.9 322.1l3.4 -3.4M330.7 320.7V345.4M329.3 320.7h2.8M329.3 345.4h2.8M329.0 331.3l3.4 3.4M329.0 334.7l3.4 -3.4"/>
<path class="e" stroke="#4a0085" d="M347.8 278.8V307.9M346.4 278.8h2.8M346.4 307.9h2.8M346.1 291.7l3.4 3.4M346.1 295.1l3.4 -3.4M442.1 234.0V263.6M440.7 234.0h2.8M440.7 263.6h2.8M440.4 247.1l3.4 3.4M440.4 250.5l3.4 -3.4M528.7 292.0V334.8M527.3 292.0h2.8M527.3 334.8h2.8M527.0 311.7l3.4 3.4M527.0 315.1l3.4 -3.4M538.8 263.9V301.4M537.4 263.9h2.8M537.4 301.4h2.8M537.1 280.9l3.4 3.4M537.1 284.3l3.4 -3.4"/>
<path class="e" stroke="#4400a0" d="M453.1 260.2V296.2M451.7 260.2h2.8M451.7 296.2h2.8M451.4 276.5l3.4 3.4M451.4 279.9l3.4 -3.4M538.3 339.2V385.2M536.9 339.2h2.8M536.9 385.2h2.8M536.6 360.5l3.4 3.4M536.6 363.9l3.4 -3.4"/>
<path class="e" stroke="#3a00b8" d="M424.4 271.8V297.7M423.0 271.8h2.8M423.0 297.7h2.8M422.7 283.1l3.4 3.4M422.7 286.5l3.4 -3.4M416.7 286.2V312.4M415.3 286.2h2.8M415.3 312.4h2.8M415.0 297.6l3.4 3.4M415.0 301.0l3.4 -3.4M347.2 276.4V305.2M345.8 276.4h2.8M345.8 305.2h2.8M345.5 289.1l3.4 3.4M345.5 292.5l3.4 -3.4M557.7 277.2V311.1M556.3 277.2h2.8M556.3 311.1h2.8M556.0 292.4l3.4 3.4M556.0 295.8l3.4 -3.4M476.4 264.4V301.6M475.0 264.4h2.8M475.0 301.6h2.8M474.7 281.3l3.4 3.4M474.7 284.7l3.4 -3.4M349.9 272.5V307.5M348.5 272.5h2.8M348.5 307.5h2.8M348.2 288.3l3.4 3.4M348.2 291.7l3.4 -3.4M473.2 250.8V282.3M471.8 250.8h2.8M471.8 282.3h2.8M471.5 264.9l3.4 3.4M471.5 268.3l3.4 -3.4M413.1 275.5V312.0M411.7 275.5h2.8M411.7 312.0h2.8M411.4 292.0l3.4 3.4M411.4 295.4l3.4 -3.4M514.5 299.6V332.9M513.1 299.6h2.8M513.1 332.9h2.8M512.8 314.6l3.4 3.4M512.8 318.0l3.4 -3.4M459.5 276.0V314.3M458.1 276.0h2.8M458.1 314.3h2.8M457.8 293.4l3.4 3.4M457.8 296.8l3.4 -3.4"/>
<path class="e" stroke="#2800d0" d="M385.9 265.4V295.9M384.5 265.4h2.8M384.5 295.9h2.8M384.2 279.0l3.4 3.4M384.2 282.4l3.4 -3.4M425.9 269.0V302.9M424.5 269.0h2.8M424.5 302.9h2.8M424.2 284.3l3.4 3.4M424.2 287.7l3.4 -3.4M524.0 237.5V284.6M522.6 237.5h2.8M522.6 284.6h2.8M522.3 259.3l3.4 3.4M522.3 262.7l3.4 -3.4M351.9 263.5V295.6M350.5 263.5h2.8M350.5 295.6h2.8M350.2 277.8l3.4 3.4M350.2 281.2l3.4 -3.4M437.3 259.8V290.2M435.9 259.8h2.8M435.9 290.2h2.8M435.6 273.3l3.4 3.4M435.6 276.7l3.4 -3.4M506.5 288.8V325.4M505.1 288.8h2.8M505.1 325.4h2.8M504.8 305.4l3.4 3.4M504.8 308.8l3.4 -3.4M440.6 289.6V314.8M439.2 289.6h2.8M439.2 314.8h2.8M438.9 300.5l3.4 3.4M438.9 303.9l3.4 -3.4M416.8 260.8V294.4M415.4 260.8h2.8M415.4 294.4h2.8M415.1 275.9l3.4 3.4M415.1 279.3l3.4 -3.4M439.7 286.4V320.2M438.3 286.4h2.8M438.3 320.2h2.8M438.0 301.6l3.4 3.4M438.0 305.0l3.4 -3.4"/>
<path class="e" stroke="#1800e8" d="M419.3 258.8V294.1M417.9 258.8h2.8M417.9 294.1h2.8M417.6 274.7l3.4 3.4M417.6 278.1l3.4 -3.4M373.3 304.4V336.5M371.9 304.4h2.8M371.9 336.5h2.8M371.6 318.7l3.4 3.4M371.6 322.1l3.4 -3.4M516.9 278.9V304.4M515.5 278.9h2.8M515.5 304.4h2.8M515.2 290.0l3.4 3.4M515.2 293.4l3.4 -3.4M344.2 286.9V320.2M342.8 286.9h2.8M342.8 320.2h2.8M342.5 301.9l3.4 3.4M342.5 305.3l3.4 -3.4M420.8 276.9V312.7M419.4 276.9h2.8M419.4 312.7h2.8M419.1 293.1l3.4 3.4M419.1 296.5l3.4 -3.4M387.1 311.5V340.6M385.7 311.5h2.8M385.7 340.6h2.8M385.4 324.4l3.4 3.4M385.4 327.8l3.4 -3.4M508.0 301.8V342.4M506.6 301.8h2.8M506.6 342.4h2.8M506.3 320.4l3.4 3.4M506.3 323.8l3.4 -3.4M526.8 272.1V315.6M525.4 272.1h2.8M525.4 315.6h2.8M525.1 292.1l3.4 3.4M525.1 295.5l3.4 -3.4M338.4 318.6V348.0M337.0 318.6h2.8M337.0 348.0h2.8M336.7 331.6l3.4 3.4M336.7 335.0l3.4 -3.4"/>
<path class="e" stroke="#0a00f5" d="M438.4 264.3V286.4M437.0 264.3h2.8M437.0 286.4h2.8M436.7 273.6l3.4 3.4M436.7 277.0l3.4 -3.4M433.2 271.0V298.0M431.8 271.0h2.8M431.8 298.0h2.8M431.5 282.8l3.4 3.4M431.5 286.2l3.4 -3.4M566.3 281.8V308.9M564.9 281.8h2.8M564.9 308.9h2.8M564.6 293.7l3.4 3.4M564.6 297.1l3.4 -3.4M477.2 246.6V285.3M475.8 246.6h2.8M475.8 285.3h2.8M475.5 264.3l3.4 3.4M475.5 267.7l3.4 -3.4M361.1 295.9V328.2M359.7 295.9h2.8M359.7 328.2h2.8M359.4 310.4l3.4 3.4M359.4 313.8l3.4 -3.4M472.3 289.9V320.6M470.9 289.9h2.8M470.9 320.6h2.8M470.6 303.5l3.4 3.4M470.6 306.9l3.4 -3.4M443.4 285.9V316.6M442.0 285.9h2.8M442.0 316.6h2.8M441.7 299.5l3.4 3.4M441.7 302.9l3.4 -3.4"/>
<path class="e" stroke="#0010ff" d="M561.2 241.3V277.7M559.8 241.3h2.8M559.8 277.7h2.8M559.5 257.8l3.4 3.4M559.5 261.2l3.4 -3.4M411.1 286.4V311.9M409.7 286.4h2.8M409.7 311.9h2.8M409.4 297.5l3.4 3.4M409.4 300.9l3.4 -3.4M475.2 277.2V297.0M473.8 277.2h2.8M473.8 297.0h2.8M473.5 285.4l3.4 3.4M473.5 288.8l3.4 -3.4M380.0 284.7V310.7M378.6 284.7h2.8M378.6 310.7h2.8M378.3 296.0l3.4 3.4M378.3 299.4l3.4 -3.4M504.8 247.3V272.3M503.4 247.3h2.8M503.4 272.3h2.8M503.1 258.1l3.4 3.4M503.1 261.5l3.4 -3.4M462.5 257.2V284.4M461.1 257.2h2.8M461.1 284.4h2.8M460.8 269.1l3.4 3.4M460.8 272.5l3.4 -3.4M338.9 319.4V337.8M337.5 319.4h2.8M337.5 337.8h2.8M337.2 326.9l3.4 3.4M337.2 330.3l3.4 -3.4M542.5 259.5V291.0M541.1 259.5h2.8M541.1 291.0h2.8M540.8 273.6l3.4 3.4M540.8 277.0l3.4 -3.4M524.8 288.9V316.6M523.4 288.9h2.8M523.4 316.6h2.8M523.1 301.0l3.4 3.4M523.1 304.4l3.4 -3.4"/>
<path class="e" stroke="#0030ff" d="M503.1 264.9V300.8M501.7 264.9h2.8M501.7 300.8h2.8M501.4 281.1l3.4 3.4M501.4 284.5l3.4 -3.4M418.4 270.1V293.0M417.0 270.1h2.8M417.0 293.0h2.8M416.7 279.8l3.4 3.4M416.7 283.2l3.4 -3.4M468.0 272.3V294.8M466.6 272.3h2.8M466.6 294.8h2.8M466.3 281.8l3.4 3.4M466.3 285.2l3.4 -3.4M453.5 278.0V300.1M452.1 278.0h2.8M452.1 300.1h2.8M451.8 287.3l3.4 3.4M451.8 290.7l3.4 -3.4M341.7 317.4V343.4M340.3 317.4h2.8M340.3 343.4h2.8M340.0 328.7l3.4 3.4M340.0 332.1l3.4 -3.4M379.4 289.5V311.1M378.0 289.5h2.8M378.0 311.1h2.8M377.7 298.6l3.4 3.4M377.7 302.0l3.4 -3.4M499.9 274.5V306.0M498.5 274.5h2.8M498.5 306.0h2.8M498.2 288.5l3.4 3.4M498.2 291.9l3.4 -3.4"/>
<path class="e" stroke="#0050ff" d="M521.6 278.3V311.6M520.2 278.3h2.8M520.2 311.6h2.8M519.9 293.2l3.4 3.4M519.9 296.6l3.4 -3.4M408.9 268.7V294.3M407.5 268.7h2.8M407.5 294.3h2.8M407.2 279.8l3.4 3.4M407.2 283.2l3.4 -3.4M341.9 279.0V301.7M340.5 279.0h2.8M340.5 301.7h2.8M340.2 288.6l3.4 3.4M340.2 292.0l3.4 -3.4M570.1 260.8V290.6M568.7 260.8h2.8M568.7 290.6h2.8M568.4 274.0l3.4 3.4M568.4 277.4l3.4 -3.4M344.2 288.2V307.4M342.8 288.2h2.8M342.8 307.4h2.8M342.5 296.1l3.4 3.4M342.5 299.5l3.4 -3.4M358.8 308.6V328.8M357.4 308.6h2.8M357.4 328.8h2.8M357.1 317.0l3.4 3.4M357.1 320.4l3.4 -3.4M378.3 302.1V329.6M376.9 302.1h2.8M376.9 329.6h2.8M376.6 314.1l3.4 3.4M376.6 317.5l3.4 -3.4M482.8 305.7V324.9M481.4 305.7h2.8M481.4 324.9h2.8M481.1 313.6l3.4 3.4M481.1 317.0l3.4 -3.4M567.1 258.4V283.9M565.7 258.4h2.8M565.7 283.9h2.8M565.4 269.4l3.4 3.4M565.4 272.8l3.4 -3.4M508.5 252.5V278.6M507.1 252.5h2.8M507.1 278.6h2.8M506.8 263.8l3.4 3.4M506.8 267.2l3.4 -3.4M508.2 262.9V290.0M506.8 262.9h2.8M506.8 290.0h2.8M506.5 274.7l3.4 3.4M506.5 278.1l3.4 -3.4M398.2 288.3V306.5M396.8 288.3h2.8M396.8 306.5h2.8M396.5 295.7l3.4 3.4M396.5 299.1l3.4 -3.4M503.5 274.8V294.8M502.1 274.8h2.8M502.1 294.8h2.8M501.8 283.1l3.4 3.4M501.8 286.5l3.4 -3.4M389.4 282.1V297.4M388.0 282.1h2.8M388.0 297.4h2.8M387.7 288.1l3.4 3.4M387.7 291.5l3.4 -3.4M550.9 259.4V285.2M549.5 259.4h2.8M549.5 285.2h2.8M549.2 270.6l3.4 3.4M549.2 274.0l3.4 -3.4M555.6 285.2V316.7M554.2 285.2h2.8M554.2 316.7h2.8M553.9 299.2l3.4 3.4M553.9 302.6l3.4 -3.4M559.9 259.1V277.3M558.5 259.1h2.8M558.5 277.3h2.8M558.2 266.5l3.4 3.4M558.2 269.9l3.4 -3.4"/>
<path class="e" stroke="#0080ff" d="M392.2 290.3V309.1M390.8 290.3h2.8M390.8 309.1h2.8M390.5 298.0l3.4 3.4M390.5 301.4l3.4 -3.4M444.0 271.2V287.0M442.6 271.2h2.8M442.6 287.0h2.8M442.3 277.4l3.4 3.4M442.3 280.8l3.4 -3.4M516.2 262.4V282.9M514.8 262.4h2.8M514.8 282.9h2.8M514.5 270.9l3.4 3.4M514.5 274.3l3.4 -3.4M362.6 286.1V305.9M361.2 286.1h2.8M361.2 305.9h2.8M360.9 294.3l3.4 3.4M360.9 297.7l3.4 -3.4M504.4 252.2V276.2M503.0 252.2h2.8M503.0 276.2h2.8M502.7 262.5l3.4 3.4M502.7 265.9l3.4 -3.4M411.8 295.9V316.7M410.4 295.9h2.8M410.4 316.7h2.8M410.1 304.6l3.4 3.4M410.1 308.0l3.4 -3.4M531.9 284.6V302.0M530.5 284.6h2.8M530.5 302.0h2.8M530.2 291.6l3.4 3.4M530.2 295.0l3.4 -3.4M351.2 299.7V317.1M349.8 299.7h2.8M349.8 317.1h2.8M349.5 306.7l3.4 3.4M349.5 310.1l3.4 -3.4M447.3 271.4V291.6M445.9 271.4h2.8M445.9 291.6h2.8M445.6 279.8l3.4 3.4M445.6 283.2l3.4 -3.4M460.0 309.7V326.0M458.6 309.7h2.8M458.6 326.0h2.8M458.3 316.2l3.4 3.4M458.3 319.6l3.4 -3.4M390.1 294.6V319.2M388.7 294.6h2.8M388.7 319.2h2.8M388.4 305.2l3.4 3.4M388.4 308.6l3.4 -3.4M473.1 293.9V320.7M471.7 293.9h2.8M471.7 320.7h2.8M471.4 305.6l3.4 3.4M471.4 309.0l3.4 -3.4M427.3 297.0V315.3M425.9 297.0h2.8M425.9 315.3h2.8M425.6 304.4l3.4 3.4M425.6 307.8l3.4 -3.4M465.5 261.8V279.7M464.1 261.8h2.8M464.1 279.7h2.8M463.8 269.0l3.4 3.4M463.8 272.4l3.4 -3.4M529.1 268.5V284.5M527.7 268.5h2.8M527.7 284.5h2.8M527.4 274.8l3.4 3.4M527.4 278.2l3.4 -3.4"/>
<path class="e" stroke="#0090ff" d="M555.5 272.4V296.7M554.1 272.4h2.8M554.1 296.7h2.8M553.8 282.9l3.4 3.4M553.8 286.3l3.4 -3.4M497.1 270.0V291.3M495.7 270.0h2.8M495.7 291.3h2.8M495.4 278.9l3.4 3.4M495.4 282.3l3.4 -3.4M456.1 285.4V307.2M454.7 285.4h2.8M454.7 307.2h2.8M454.4 294.6l3.4 3.4M454.4 298.0l3.4 -3.4M534.0 274.8V300.9M532.6 274.8h2.8M532.6 300.9h2.8M532.3 286.1l3.4 3.4M532.3 289.5l3.4 -3.4M376.7 296.6V313.8M375.3 296.6h2.8M375.3 313.8h2.8M375.0 303.5l3.4 3.4M375.0 306.9l3.4 -3.4M443.4 280.9V294.2M442.0 280.9h2.8M442.0 294.2h2.8M441.7 285.8l3.4 3.4M441.7 289.2l3.4 -3.4M332.2 297.7V310.0M330.8 297.7h2.8M330.8 310.0h2.8M330.5 302.1l3.4 3.4M330.5 305.5l3.4 -3.4M394.7 288.4V311.0M393.3 288.4h2.8M393.3 311.0h2.8M393.0 298.0l3.4 3.4M393.0 301.4l3.4 -3.4M438.2 267.7V283.8M436.8 267.7h2.8M436.8 283.8h2.8M436.5 274.1l3.4 3.4M436.5 277.5l3.4 -3.4M491.9 262.1V286.0M490.5 262.1h2.8M490.5 286.0h2.8M490.2 272.4l3.4 3.4M490.2 275.8l3.4 -3.4M520.4 274.9V289.3M519.0 274.9h2.8M519.0 289.3h2.8M518.7 280.4l3.4 3.4M518.7 283.8l3.4 -3.4M571.0 287.3V314.8M569.6 287.3h2.8M569.6 314.8h2.8M569.3 299.4l3.4 3.4M569.3 302.8l3.4 -3.4"/>
<path class="e" stroke="#00a0ff" d="M365.6 290.5V310.1M364.2 290.5h2.8M364.2 310.1h2.8M363.9 298.6l3.4 3.4M363.9 302.0l3.4 -3.4M528.2 280.6V299.6M526.8 280.6h2.8M526.8 299.6h2.8M526.5 288.4l3.4 3.4M526.5 291.8l3.4 -3.4M500.0 277.1V298.5M498.6 277.1h2.8M498.6 298.5h2.8M498.3 286.1l3.4 3.4M498.3 289.5l3.4 -3.4M449.1 278.5V294.2M447.7 278.5h2.8M447.7 294.2h2.8M447.4 284.6l3.4 3.4M447.4 288.0l3.4 -3.4M381.5 304.5V319.3M380.1 304.5h2.8M380.1 319.3h2.8M379.8 310.2l3.4 3.4M379.8 313.6l3.4 -3.4M510.8 302.5V318.2M509.4 302.5h2.8M509.4 318.2h2.8M509.1 308.7l3.4 3.4M509.1 312.1l3.4 -3.4M440.1 291.0V312.0M438.7 291.0h2.8M438.7 312.0h2.8M438.4 299.8l3.4 3.4M438.4 303.2l3.4 -3.4"/>
<path class="e" stroke="#00b0ff" d="M529.6 277.7V296.3M528.2 277.7h2.8M528.2 296.3h2.8M527.9 285.3l3.4 3.4M527.9 288.7l3.4 -3.4M423.6 301.7V317.9M422.2 301.7h2.8M422.2 317.9h2.8M421.9 308.1l3.4 3.4M421.9 311.5l3.4 -3.4M476.0 265.2V282.9M474.6 265.2h2.8M474.6 282.9h2.8M474.3 272.3l3.4 3.4M474.3 275.7l3.4 -3.4M335.6 287.1V299.7M334.2 287.1h2.8M334.2 299.7h2.8M333.9 291.7l3.4 3.4M333.9 295.1l3.4 -3.4M402.0 300.0V311.3M400.6 300.0h2.8M400.6 311.3h2.8M400.3 303.9l3.4 3.4M400.3 307.3l3.4 -3.4M516.7 268.3V283.8M515.3 268.3h2.8M515.3 283.8h2.8M515.0 274.4l3.4 3.4M515.0 277.8l3.4 -3.4M569.6 273.5V298.1M568.2 273.5h2.8M568.2 298.1h2.8M567.9 284.1l3.4 3.4M567.9 287.5l3.4 -3.4M571.0 234.8V259.8M569.6 234.8h2.8M569.6 259.8h2.8M569.3 245.6l3.4 3.4M569.3 249.0l3.4 -3.4M527.6 255.0V276.3M526.2 255.0h2.8M526.2 276.3h2.8M525.9 263.9l3.4 3.4M525.9 267.3l3.4 -3.4M440.2 278.8V296.8M438.8 278.8h2.8M438.8 296.8h2.8M438.5 286.1l3.4 3.4M438.5 289.5l3.4 -3.4M524.2 276.9V300.7M522.8 276.9h2.8M522.8 300.7h2.8M522.5 287.1l3.4 3.4M522.5 290.5l3.4 -3.4M351.9 290.5V308.8M350.5 290.5h2.8M350.5 308.8h2.8M350.2 298.0l3.4 3.4M350.2 301.4l3.4 -3.4M529.3 276.0V296.0M527.9 276.0h2.8M527.9 296.0h2.8M527.6 284.3l3.4 3.4M527.6 287.7l3.4 -3.4M391.4 293.3V311.6M390.0 293.3h2.8M390.0 311.6h2.8M389.7 300.7l3.4 3.4M389.7 304.1l3.4 -3.4M435.9 277.7V295.5M434.5 277.7h2.8M434.5 295.5h2.8M434.2 284.9l3.4 3.4M434.2 288.3l3.4 -3.4"/>
<path class="e" stroke="#00c8ff" d="M474.1 287.4V299.2M472.7 287.4h2.8M472.7 299.2h2.8M472.4 291.6l3.4 3.4M472.4 295.0l3.4 -3.4M475.9 298.2V310.4M474.5 298.2h2.8M474.5 310.4h2.8M474.2 302.6l3.4 3.4M474.2 306.0l3.4 -3.4M488.0 242.3V263.4M486.6 242.3h2.8M486.6 263.4h2.8M486.3 251.1l3.4 3.4M486.3 254.5l3.4 -3.4M378.2 285.5V297.3M376.8 285.5h2.8M376.8 297.3h2.8M376.5 289.7l3.4 3.4M376.5 293.1l3.4 -3.4M361.1 287.5V301.3M359.7 287.5h2.8M359.7 301.3h2.8M359.4 292.7l3.4 3.4M359.4 296.1l3.4 -3.4M417.6 289.9V301.5M416.2 289.9h2.8M416.2 301.5h2.8M415.9 294.0l3.4 3.4M415.9 297.4l3.4 -3.4M360.2 292.4V307.3M358.8 292.4h2.8M358.8 307.3h2.8M358.5 298.2l3.4 3.4M358.5 301.6l3.4 -3.4M360.2 289.1V298.9M358.8 289.1h2.8M358.8 298.9h2.8M358.5 292.3l3.4 3.4M358.5 295.7l3.4 -3.4M439.4 299.0V313.1M438.0 299.0h2.8M438.0 313.1h2.8M437.7 304.4l3.4 3.4M437.7 307.8l3.4 -3.4M510.5 279.9V293.3M509.1 279.9h2.8M509.1 293.3h2.8M508.8 284.9l3.4 3.4M508.8 288.3l3.4 -3.4"/>
<path class="e" stroke="#00f0ff" d="M517.3 292.6V303.9M515.9 292.6h2.8M515.9 303.9h2.8M515.6 296.6l3.4 3.4M515.6 300.0l3.4 -3.4M475.8 272.1V290.5M474.4 272.1h2.8M474.4 290.5h2.8M474.1 279.6l3.4 3.4M474.1 283.0l3.4 -3.4M355.4 303.7V317.7M354.0 303.7h2.8M354.0 317.7h2.8M353.7 309.0l3.4 3.4M353.7 312.4l3.4 -3.4M563.5 285.2V301.9M562.1 285.2h2.8M562.1 301.9h2.8M561.8 291.8l3.4 3.4M561.8 295.2l3.4 -3.4M503.1 289.9V307.1M501.7 289.9h2.8M501.7 307.1h2.8M501.4 296.8l3.4 3.4M501.4 300.2l3.4 -3.4M551.1 267.4V286.5M549.7 267.4h2.8M549.7 286.5h2.8M549.4 275.3l3.4 3.4M549.4 278.7l3.4 -3.4M413.7 288.0V300.3M412.3 288.0h2.8M412.3 300.3h2.8M412.0 292.4l3.4 3.4M412.0 295.8l3.4 -3.4M458.8 277.3V293.3M457.4 277.3h2.8M457.4 293.3h2.8M457.1 283.6l3.4 3.4M457.1 287.0l3.4 -3.4M553.3 287.5V308.4M551.9 287.5h2.8M551.9 308.4h2.8M551.6 296.2l3.4 3.4M551.6 299.6l3.4 -3.4M434.5 288.2V302.5M433.1 288.2h2.8M433.1 302.5h2.8M432.8 293.7l3.4 3.4M432.8 297.1l3.4 -3.4M568.6 273.8V294.2M567.2 273.8h2.8M567.2 294.2h2.8M566.9 282.3l3.4 3.4M566.9 285.7l3.4 -3.4M394.6 287.2V299.4M393.2 287.2h2.8M393.2 299.4h2.8M392.9 291.6l3.4 3.4M392.9 295.0l3.4 -3.4M565.5 262.7V281.5M564.1 262.7h2.8M564.1 281.5h2.8M563.8 270.4l3.4 3.4M563.8 273.8l3.4 -3.4M491.4 284.6V295.3M490.0 284.6h2.8M490.0 295.3h2.8M489.7 288.2l3.4 3.4M489.7 291.6l3.4 -3.4M337.3 308.6V317.9M335.9 308.6h2.8M335.9 317.9h2.8M335.6 311.6l3.4 3.4M335.6 315.0l3.4 -3.4M490.3 284.4V300.1M488.9 284.4h2.8M488.9 300.1h2.8M488.6 290.5l3.4 3.4M488.6 293.9l3.4 -3.4"/>
<path class="e" stroke="#00ffd8" d="M348.7 292.0V306.1M347.3 292.0h2.8M347.3 306.1h2.8M347.0 297.4l3.4 3.4M347.0 300.8l3.4 -3.4M515.9 285.0V296.9M514.5 285.0h2.8M514.5 296.9h2.8M514.2 289.2l3.4 3.4M514.2 292.6l3.4 -3.4M378.8 288.9V303.3M377.4 288.9h2.8M377.4 303.3h2.8M377.1 294.4l3.4 3.4M377.1 297.8l3.4 -3.4M376.7 307.1V318.6M375.3 307.1h2.8M375.3 318.6h2.8M375.0 311.1l3.4 3.4M375.0 314.5l3.4 -3.4M555.8 286.6V304.8M554.4 286.6h2.8M554.4 304.8h2.8M554.1 294.0l3.4 3.4M554.1 297.4l3.4 -3.4M448.0 284.5V295.1M446.6 284.5h2.8M446.6 295.1h2.8M446.3 288.1l3.4 3.4M446.3 291.5l3.4 -3.4M359.9 320.6V335.1M358.5 320.6h2.8M358.5 335.1h2.8M358.2 326.2l3.4 3.4M358.2 329.6l3.4 -3.4M388.1 286.6V300.2M386.7 286.6h2.8M386.7 300.2h2.8M386.4 291.7l3.4 3.4M386.4 295.1l3.4 -3.4M557.7 293.1V311.2M556.3 293.1h2.8M556.3 311.2h2.8M556.0 300.4l3.4 3.4M556.0 303.8l3.4 -3.4M332.8 290.2V301.4M331.4 290.2h2.8M331.4 301.4h2.8M331.1 294.1l3.4 3.4M331.1 297.5l3.4 -3.4M558.8 268.8V289.8M557.4 268.8h2.8M557.4 289.8h2.8M557.1 277.6l3.4 3.4M557.1 281.0l3.4 -3.4M411.1 284.6V295.1M409.7 284.6h2.8M409.7 295.1h2.8M409.4 288.1l3.4 3.4M409.4 291.5l3.4 -3.4M420.4 287.4V302.8M419.0 287.4h2.8M419.0 302.8h2.8M418.7 293.4l3.4 3.4M418.7 296.8l3.4 -3.4M397.0 307.8V321.2M395.6 307.8h2.8M395.6 321.2h2.8M395.3 312.8l3.4 3.4M395.3 316.2l3.4 -3.4M414.9 297.9V312.6M413.5 297.9h2.8M413.5 312.6h2.8M413.2 303.6l3.4 3.4M413.2 307.0l3.4 -3.4M476.4 286.6V300.3M475.0 286.6h2.8M475.0 300.3h2.8M474.7 291.7l3.4 3.4M474.7 295.1l3.4 -3.4M338.2 289.2V298.6M336.8 289.2h2.8M336.8 298.6h2.8M336.5 292.2l3.4 3.4M336.5 295.6l3.4 -3.4M447.0 300.5V310.8M445.6 300.5h2.8M445.6 310.8h2.8M445.3 304.0l3.4 3.4M445.3 307.4l3.4 -3.4"/>
<path class="e" stroke="#00ffc0" d="M363.4 299.0V312.6M362.0 299.0h2.8M362.0 312.6h2.8M361.7 304.1l3.4 3.4M361.7 307.5l3.4 -3.4M340.8 292.3V304.0M339.4 292.3h2.8M339.4 304.0h2.8M339.1 296.4l3.4 3.4M339.1 299.8l3.4 -3.4M495.3 287.1V300.5M493.9 287.1h2.8M493.9 300.5h2.8M493.6 292.1l3.4 3.4M493.6 295.5l3.4 -3.4M540.2 275.3V292.4M538.8 275.3h2.8M538.8 292.4h2.8M538.5 282.2l3.4 3.4M538.5 285.6l3.4 -3.4M522.2 262.8V280.9M520.8 262.8h2.8M520.8 280.9h2.8M520.5 270.2l3.4 3.4M520.5 273.6l3.4 -3.4M532.1 258.2V274.0M530.7 258.2h2.8M530.7 274.0h2.8M530.4 264.4l3.4 3.4M530.4 267.8l3.4 -3.4M444.4 285.1V296.9M443.0 285.1h2.8M443.0 296.9h2.8M442.7 289.3l3.4 3.4M442.7 292.7l3.4 -3.4M566.4 259.1V280.1M565.0 259.1h2.8M565.0 280.1h2.8M564.7 267.9l3.4 3.4M564.7 271.3l3.4 -3.4M414.3 298.7V310.4M412.9 298.7h2.8M412.9 310.4h2.8M412.6 302.8l3.4 3.4M412.6 306.2l3.4 -3.4"/>
<path class="e" stroke="#00ffa0" d="M370.8 289.7V300.6M369.4 289.7h2.8M369.4 300.6h2.8M369.1 293.5l3.4 3.4M369.1 296.9l3.4 -3.4M558.1 269.7V285.0M556.7 269.7h2.8M556.7 285.0h2.8M556.4 275.6l3.4 3.4M556.4 279.0l3.4 -3.4M445.0 268.9V285.9M443.6 268.9h2.8M443.6 285.9h2.8M443.3 275.7l3.4 3.4M443.3 279.1l3.4 -3.4M440.2 274.3V291.1M438.8 274.3h2.8M438.8 291.1h2.8M438.5 281.0l3.4 3.4M438.5 284.4l3.4 -3.4M335.8 310.0V321.9M334.4 310.0h2.8M334.4 321.9h2.8M334.1 314.3l3.4 3.4M334.1 317.7l3.4 -3.4M387.9 269.1V283.6M386.5 269.1h2.8M386.5 283.6h2.8M386.2 274.7l3.4 3.4M386.2 278.1l3.4 -3.4M464.7 292.1V302.9M463.3 292.1h2.8M463.3 302.9h2.8M463.0 295.8l3.4 3.4M463.0 299.2l3.4 -3.4M561.7 285.1V300.0M560.3 285.1h2.8M560.3 300.0h2.8M560.0 290.9l3.4 3.4M560.0 294.3l3.4 -3.4M455.5 286.5V297.1M454.1 286.5h2.8M454.1 297.1h2.8M453.8 290.1l3.4 3.4M453.8 293.5l3.4 -3.4M509.2 261.3V276.9M507.8 261.3h2.8M507.8 276.9h2.8M507.5 267.4l3.4 3.4M507.5 270.8l3.4 -3.4M358.6 275.5V291.6M357.2 275.5h2.8M357.2 291.6h2.8M356.9 281.8l3.4 3.4M356.9 285.2l3.4 -3.4M367.5 290.1V307.1M366.1 290.1h2.8M366.1 307.1h2.8M365.8 296.9l3.4 3.4M365.8 300.3l3.4 -3.4M557.7 285.4V306.0M556.3 285.4h2.8M556.3 306.0h2.8M556.0 294.0l3.4 3.4M556.0 297.4l3.4 -3.4M359.5 286.4V302.1M358.1 286.4h2.8M358.1 302.1h2.8M357.8 292.6l3.4 3.4M357.8 296.0l3.4 -3.4M519.6 274.9V290.9M518.2 274.9h2.8M518.2 290.9h2.8M517.9 281.2l3.4 3.4M517.9 284.6l3.4 -3.4M396.9 303.0V314.4M395.5 303.0h2.8M395.5 314.4h2.8M395.2 307.0l3.4 3.4M395.2 310.4l3.4 -3.4M461.9 270.0V284.1M460.5 270.0h2.8M460.5 284.1h2.8M460.2 275.4l3.4 3.4M460.2 278.8l3.4 -3.4M400.3 285.9V301.2M398.9 285.9h2.8M398.9 301.2h2.8M398.6 291.9l3.4 3.4M398.6 295.3l3.4 -3.4M411.4 294.4V307.6M410.0 294.4h2.8M410.0 307.6h2.8M409.7 299.3l3.4 3.4M409.7 302.7l3.4 -3.4M411.9 287.5V297.6M410.5 287.5h2.8M410.5 297.6h2.8M410.2 290.8l3.4 3.4M410.2 294.2l3.4 -3.4"/>
<path class="e" stroke="#00ff70" d="M410.7 294.3V308.1M409.3 294.3h2.8M409.3 308.1h2.8M409.0 299.5l3.4 3.4M409.0 302.9l3.4 -3.4M504.5 290.3V309.3M503.1 290.3h2.8M503.1 309.3h2.8M502.8 298.1l3.4 3.4M502.8 301.5l3.4 -3.4M387.3 286.8V304.3M385.9 286.8h2.8M385.9 304.3h2.8M385.6 293.8l3.4 3.4M385.6 297.2l3.4 -3.4M531.0 264.6V282.4M529.6 264.6h2.8M529.6 282.4h2.8M529.3 271.8l3.4 3.4M529.3 275.2l3.4 -3.4M335.8 302.7V314.8M334.4 302.7h2.8M334.4 314.8h2.8M334.1 307.1l3.4 3.4M334.1 310.5l3.4 -3.4M531.7 301.8V313.0M530.3 301.8h2.8M530.3 313.0h2.8M530.0 305.7l3.4 3.4M530.0 309.1l3.4 -3.4M463.1 268.7V285.9M461.7 268.7h2.8M461.7 285.9h2.8M461.4 275.6l3.4 3.4M461.4 279.0l3.4 -3.4M434.7 303.4V314.4M433.3 303.4h2.8M433.3 314.4h2.8M433.0 307.2l3.4 3.4M433.0 310.6l3.4 -3.4M397.6 301.2V318.4M396.2 301.2h2.8M396.2 318.4h2.8M395.9 308.1l3.4 3.4M395.9 311.5l3.4 -3.4M497.6 257.5V268.6M496.2 257.5h2.8M496.2 268.6h2.8M495.9 261.4l3.4 3.4M495.9 264.8l3.4 -3.4M563.8 259.4V273.0M562.4 259.4h2.8M562.4 273.0h2.8M562.1 264.5l3.4 3.4M562.1 267.9l3.4 -3.4M552.2 274.1V295.2M550.8 274.1h2.8M550.8 295.2h2.8M550.5 283.0l3.4 3.4M550.5 286.4l3.4 -3.4M464.9 293.7V308.7M463.5 293.7h2.8M463.5 308.7h2.8M463.2 299.5l3.4 3.4M463.2 302.9l3.4 -3.4M505.0 274.5V290.8M503.6 274.5h2.8M503.6 290.8h2.8M503.3 281.0l3.4 3.4M503.3 284.4l3.4 -3.4M375.9 295.1V309.8M374.5 295.1h2.8M374.5 309.8h2.8M374.2 300.8l3.4 3.4M374.2 304.2l3.4 -3.4M490.1 272.3V284.6M488.7 272.3h2.8M488.7 284.6h2.8M488.4 276.8l3.4 3.4M488.4 280.2l3.4 -3.4M382.6 287.3V299.7M381.2 287.3h2.8M381.2 299.7h2.8M380.9 291.8l3.4 3.4M380.9 295.2l3.4 -3.4M366.4 282.2V298.3M365.0 282.2h2.8M365.0 298.3h2.8M364.7 288.5l3.4 3.4M364.7 291.9l3.4 -3.4M486.9 278.4V294.5M485.5 278.4h2.8M485.5 294.5h2.8M485.2 284.8l3.4 3.4M485.2 288.2l3.4 -3.4M466.0 268.6V286.9M464.6 268.6h2.8M464.6 286.9h2.8M464.3 276.0l3.4 3.4M464.3 279.4l3.4 -3.4M391.7 284.5V293.9M390.3 284.5h2.8M390.3 293.9h2.8M390.0 287.5l3.4 3.4M390.0 290.9l3.4 -3.4M355.2 287.0V299.4M353.8 287.0h2.8M353.8 299.4h2.8M353.5 291.5l3.4 3.4M353.5 294.9l3.4 -3.4M511.3 279.0V294.6M509.9 279.0h2.8M509.9 294.6h2.8M509.6 285.1l3.4 3.4M509.6 288.5l3.4 -3.4M514.2 274.7V290.2M512.8 274.7h2.8M512.8 290.2h2.8M512.5 280.7l3.4 3.4M512.5 284.1l3.4 -3.4M491.5 257.5V277.2M490.1 257.5h2.8M490.1 277.2h2.8M489.8 265.7l3.4 3.4M489.8 269.1l3.4 -3.4M405.4 292.7V304.4M404.0 292.7h2.8M404.0 304.4h2.8M403.7 296.8l3.4 3.4M403.7 300.2l3.4 -3.4M423.6 285.7V303.7M422.2 285.7h2.8M422.2 303.7h2.8M421.9 293.0l3.4 3.4M421.9 296.4l3.4 -3.4M359.3 284.1V296.1M357.9 284.1h2.8M357.9 296.1h2.8M357.6 288.4l3.4 3.4M357.6 291.8l3.4 -3.4M483.6 270.0V284.7M482.2 270.0h2.8M482.2 284.7h2.8M481.9 275.7l3.4 3.4M481.9 279.1l3.4 -3.4M428.1 280.5V290.3M426.7 280.5h2.8M426.7 290.3h2.8M426.4 283.7l3.4 3.4M426.4 287.1l3.4 -3.4M551.0 267.4V279.2M549.6 267.4h2.8M549.6 279.2h2.8M549.3 271.6l3.4 3.4M549.3 275.0l3.4 -3.4M519.9 280.5V300.7M518.5 280.5h2.8M518.5 300.7h2.8M518.2 288.9l3.4 3.4M518.2 292.3l3.4 -3.4M447.5 268.6V282.0M446.1 268.6h2.8M446.1 282.0h2.8M445.8 273.6l3.4 3.4M445.8 277.0l3.4 -3.4M379.8 297.5V308.9M378.4 297.5h2.8M378.4 308.9h2.8M378.1 301.5l3.4 3.4M378.1 304.9l3.4 -3.4M345.7 295.2V307.4M344.3 295.2h2.8M344.3 307.4h2.8M344.0 299.6l3.4 3.4M344.0 303.0l3.4 -3.4M368.0 304.0V318.0M366.6 304.0h2.8M366.6 318.0h2.8M366.3 309.3l3.4 3.4M366.3 312.7l3.4 -3.4M559.0 272.0V291.2M557.6 272.0h2.8M557.6 291.2h2.8M557.3 279.9l3.4 3.4M557.3 283.3l3.4 -3.4M541.2 276.3V293.2M539.8 276.3h2.8M539.8 293.2h2.8M539.5 283.1l3.4 3.4M539.5 286.5l3.4 -3.4"/>
<path class="e" stroke="#10ff40" d="M457.3 266.9V280.8M455.9 266.9h2.8M455.9 280.8h2.8M455.6 272.1l3.4 3.4M455.6 275.5l3.4 -3.4M461.6 291.3V301.3M460.2 291.3h2.8M460.2 301.3h2.8M459.9 294.6l3.4 3.4M459.9 298.0l3.4 -3.4M549.9 285.8V303.2M548.5 285.8h2.8M548.5 303.2h2.8M548.2 292.8l3.4 3.4M548.2 296.2l3.4 -3.4M331.9 302.3V312.0M330.5 302.3h2.8M330.5 312.0h2.8M330.2 305.4l3.4 3.4M330.2 308.8l3.4 -3.4M525.8 286.1V300.4M524.4 286.1h2.8M524.4 300.4h2.8M524.1 291.6l3.4 3.4M524.1 295.0l3.4 -3.4M389.8 284.8V302.1M388.4 284.8h2.8M388.4 302.1h2.8M388.1 291.8l3.4 3.4M388.1 295.2l3.4 -3.4M490.0 283.7V302.5M488.6 283.7h2.8M488.6 302.5h2.8M488.3 291.4l3.4 3.4M488.3 294.8l3.4 -3.4M382.5 298.2V309.3M381.1 298.2h2.8M381.1 309.3h2.8M380.8 302.0l3.4 3.4M380.8 305.4l3.4 -3.4M535.9 282.5V293.9M534.5 282.5h2.8M534.5 293.9h2.8M534.2 286.5l3.4 3.4M534.2 289.9l3.4 -3.4M450.8 302.0V319.6M449.4 302.0h2.8M449.4 319.6h2.8M449.1 309.1l3.4 3.4M449.1 312.5l3.4 -3.4M538.9 281.0V301.8M537.5 281.0h2.8M537.5 301.8h2.8M537.2 289.7l3.4 3.4M537.2 293.1l3.4 -3.4M554.1 282.8V299.3M552.7 282.8h2.8M552.7 299.3h2.8M552.4 289.4l3.4 3.4M552.4 292.8l3.4 -3.4M481.9 274.9V293.3M480.5 274.9h2.8M480.5 293.3h2.8M480.2 282.4l3.4 3.4M480.2 285.8l3.4 -3.4M567.8 263.9V275.8M566.4 263.9h2.8M566.4 275.8h2.8M566.1 268.2l3.4 3.4M566.1 271.6l3.4 -3.4M350.2 296.4V312.1M348.8 296.4h2.8M348.8 312.1h2.8M348.5 302.6l3.4 3.4M348.5 306.0l3.4 -3.4M344.9 302.8V311.8M343.5 302.8h2.8M343.5 311.8h2.8M343.2 305.6l3.4 3.4M343.2 309.0l3.4 -3.4M488.0 280.5V294.7M486.6 280.5h2.8M486.6 294.7h2.8M486.3 285.9l3.4 3.4M486.3 289.3l3.4 -3.4M506.3 278.1V290.5M504.9 278.1h2.8M504.9 290.5h2.8M504.6 282.6l3.4 3.4M504.6 286.0l3.4 -3.4M385.7 300.3V310.7M384.3 300.3h2.8M384.3 310.7h2.8M384.0 303.8l3.4 3.4M384.0 307.2l3.4 -3.4M467.0 284.0V299.5M465.6 284.0h2.8M465.6 299.5h2.8M465.3 290.0l3.4 3.4M465.3 293.4l3.4 -3.4M560.7 262.3V279.1M559.3 262.3h2.8M559.3 279.1h2.8M559.0 269.0l3.4 3.4M559.0 272.4l3.4 -3.4M331.5 300.4V312.9M330.1 300.4h2.8M330.1 312.9h2.8M329.8 304.9l3.4 3.4M329.8 308.3l3.4 -3.4M541.2 273.0V290.7M539.8 273.0h2.8M539.8 290.7h2.8M539.5 280.2l3.4 3.4M539.5 283.6l3.4 -3.4M437.6 299.2V315.7M436.2 299.2h2.8M436.2 315.7h2.8M435.9 305.7l3.4 3.4M435.9 309.1l3.4 -3.4M538.7 288.6V306.6M537.3 288.6h2.8M537.3 306.6h2.8M537.0 295.9l3.4 3.4M537.0 299.3l3.4 -3.4M368.2 278.3V290.7M366.8 278.3h2.8M366.8 290.7h2.8M366.5 282.8l3.4 3.4M366.5 286.2l3.4 -3.4M368.7 275.1V289.7M367.3 275.1h2.8M367.3 289.7h2.8M367.0 280.7l3.4 3.4M367.0 284.1l3.4 -3.4M542.4 257.7V276.6M541.0 257.7h2.8M541.0 276.6h2.8M540.7 265.5l3.4 3.4M540.7 268.9l3.4 -3.4"/>
<path class="e" stroke="#10ff00" d="M471.8 289.6V306.7M470.4 289.6h2.8M470.4 306.7h2.8M470.1 296.4l3.4 3.4M470.1 299.8l3.4 -3.4M570.2 276.4V296.9M568.8 276.4h2.8M568.8 296.9h2.8M568.5 284.9l3.4 3.4M568.5 288.3l3.4 -3.4M454.6 280.8V299.4M453.2 280.8h2.8M453.2 299.4h2.8M452.9 288.4l3.4 3.4M452.9 291.8l3.4 -3.4M360.3 295.4V309.5M358.9 295.4h2.8M358.9 309.5h2.8M358.6 300.7l3.4 3.4M358.6 304.1l3.4 -3.4M441.7 291.2V308.8M440.3 291.2h2.8M440.3 308.8h2.8M440.0 298.3l3.4 3.4M440.0 301.7l3.4 -3.4M391.4 293.8V310.4M390.0 293.8h2.8M390.0 310.4h2.8M389.7 300.4l3.4 3.4M389.7 303.8l3.4 -3.4M525.3 280.2V293.0M523.9 280.2h2.8M523.9 293.0h2.8M523.6 284.9l3.4 3.4M523.6 288.3l3.4 -3.4M336.2 286.6V299.0M334.8 286.6h2.8M334.8 299.0h2.8M334.5 291.1l3.4 3.4M334.5 294.5l3.4 -3.4M345.4 288.1V300.1M344.0 288.1h2.8M344.0 300.1h2.8M343.7 292.4l3.4 3.4M343.7 295.8l3.4 -3.4M461.5 287.7V302.0M460.1 287.7h2.8M460.1 302.0h2.8M459.8 293.1l3.4 3.4M459.8 296.5l3.4 -3.4M541.5 277.6V294.2M540.1 277.6h2.8M540.1 294.2h2.8M539.8 284.2l3.4 3.4M539.8 287.6l3.4 -3.4M555.6 265.4V285.4M554.2 265.4h2.8M554.2 285.4h2.8M553.9 273.7l3.4 3.4M553.9 277.1l3.4 -3.4M564.1 291.3V304.5M562.7 291.3h2.8M562.7 304.5h2.8M562.4 296.2l3.4 3.4M562.4 299.6l3.4 -3.4M365.5 292.4V304.8M364.1 292.4h2.8M364.1 304.8h2.8M363.8 296.9l3.4 3.4M363.8 300.3l3.4 -3.4M515.4 258.2V275.9M514.0 258.2h2.8M514.0 275.9h2.8M513.7 265.3l3.4 3.4M513.7 268.7l3.4 -3.4M495.2 269.6V286.5M493.8 269.6h2.8M493.8 286.5h2.8M493.5 276.4l3.4 3.4M493.5 279.8l3.4 -3.4M501.3 264.7V284.2M499.9 264.7h2.8M499.9 284.2h2.8M499.6 272.7l3.4 3.4M499.6 276.1l3.4 -3.4M363.0 290.2V306.3M361.6 290.2h2.8M361.6 306.3h2.8M361.3 296.5l3.4 3.4M361.3 299.9l3.4 -3.4M389.9 303.9V314.5M388.5 303.9h2.8M388.5 314.5h2.8M388.2 307.5l3.4 3.4M388.2 310.9l3.4 -3.4"/>
<path class="e" stroke="#40ff10" d="M352.6 298.6V313.6M351.2 298.6h2.8M351.2 313.6h2.8M350.9 304.4l3.4 3.4M350.9 307.8l3.4 -3.4M408.2 285.0V300.0M406.8 285.0h2.8M406.8 300.0h2.8M406.5 290.8l3.4 3.4M406.5 294.2l3.4 -3.4M562.5 270.7V291.3M561.1 270.7h2.8M561.1 291.3h2.8M560.8 279.3l3.4 3.4M560.8 282.7l3.4 -3.4M415.0 300.0V309.5M413.6 300.0h2.8M413.6 309.5h2.8M413.3 303.0l3.4 3.4M413.3 306.4l3.4 -3.4M394.2 313.6V324.6M392.8 313.6h2.8M392.8 324.6h2.8M392.5 317.4l3.4 3.4M392.5 320.8l3.4 -3.4M382.2 297.8V308.6M380.8 297.8h2.8M380.8 308.6h2.8M380.5 301.5l3.4 3.4M380.5 304.9l3.4 -3.4M457.1 287.0V300.3M455.7 287.0h2.8M455.7 300.3h2.8M455.4 291.9l3.4 3.4M455.4 295.3l3.4 -3.4M357.3 286.9V300.5M355.9 286.9h2.8M355.9 300.5h2.8M355.6 292.0l3.4 3.4M355.6 295.4l3.4 -3.4M352.9 293.9V310.2M351.5 293.9h2.8M351.5 310.2h2.8M351.2 300.4l3.4 3.4M351.2 303.8l3.4 -3.4M436.6 304.6V314.3M435.2 304.6h2.8M435.2 314.3h2.8M434.9 307.8l3.4 3.4M434.9 311.2l3.4 -3.4M562.9 265.3V282.5M561.5 265.3h2.8M561.5 282.5h2.8M561.2 272.2l3.4 3.4M561.2 275.6l3.4 -3.4M434.4 286.1V296.2M433.0 286.1h2.8M433.0 296.2h2.8M432.7 289.5l3.4 3.4M432.7 292.9l3.4 -3.4M551.7 268.8V284.1M550.3 268.8h2.8M550.3 284.1h2.8M550.0 274.7l3.4 3.4M550.0 278.1l3.4 -3.4M564.4 278.2V297.6M563.0 278.2h2.8M563.0 297.6h2.8M562.7 286.2l3.4 3.4M562.7 289.6l3.4 -3.4"/>
<path class="e" stroke="#60ff10" d="M375.5 281.7V297.4M374.1 281.7h2.8M374.1 297.4h2.8M373.8 287.8l3.4 3.4M373.8 291.2l3.4 -3.4M488.9 272.3V288.8M487.5 272.3h2.8M487.5 288.8h2.8M487.2 278.9l3.4 3.4M487.2 282.3l3.4 -3.4M432.4 283.0V297.9M431.0 283.0h2.8M431.0 297.9h2.8M430.7 288.7l3.4 3.4M430.7 292.1l3.4 -3.4M531.3 271.1V284.7M529.9 271.1h2.8M529.9 284.7h2.8M529.6 276.2l3.4 3.4M529.6 279.6l3.4 -3.4M456.4 272.4V288.8M455.0 272.4h2.8M455.0 288.8h2.8M454.7 278.9l3.4 3.4M454.7 282.3l3.4 -3.4M564.9 286.2V303.0M563.5 286.2h2.8M563.5 303.0h2.8M563.2 292.9l3.4 3.4M563.2 296.3l3.4 -3.4M520.4 274.1V291.8M519.0 274.1h2.8M519.0 291.8h2.8M518.7 281.3l3.4 3.4M518.7 284.7l3.4 -3.4"/>
<path class="e" stroke="#70ff00" d="M330.2 295.4V310.5M328.8 295.4h2.8M328.8 310.5h2.8M328.5 301.2l3.4 3.4M328.5 304.6l3.4 -3.4M491.8 283.3V296.6M490.4 283.3h2.8M490.4 296.6h2.8M490.1 288.3l3.4 3.4M490.1 291.7l3.4 -3.4M429.1 286.3V295.9M427.7 286.3h2.8M427.7 295.9h2.8M427.4 289.4l3.4 3.4M427.4 292.8l3.4 -3.4M372.6 286.9V301.2M371.2 286.9h2.8M371.2 301.2h2.8M370.9 292.4l3.4 3.4M370.9 295.8l3.4 -3.4M372.3 297.5V312.4M370.9 297.5h2.8M370.9 312.4h2.8M370.6 303.2l3.4 3.4M370.6 306.6l3.4 -3.4M509.5 288.6V304.3M508.1 288.6h2.8M508.1 304.3h2.8M507.8 294.8l3.4 3.4M507.8 298.2l3.4 -3.4M360.4 304.3V313.7M359.0 304.3h2.8M359.0 313.7h2.8M358.7 307.3l3.4 3.4M358.7 310.7l3.4 -3.4M458.9 285.8V303.2M457.5 285.8h2.8M457.5 303.2h2.8M457.2 292.8l3.4 3.4M457.2 296.2l3.4 -3.4M341.8 295.8V311.4M340.4 295.8h2.8M340.4 311.4h2.8M340.1 301.9l3.4 3.4M340.1 305.3l3.4 -3.4M562.7 285.1V299.8M561.3 285.1h2.8M561.3 299.8h2.8M561.0 290.8l3.4 3.4M561.0 294.2l3.4 -3.4M394.5 313.3V322.5M393.1 313.3h2.8M393.1 322.5h2.8M392.8 316.2l3.4 3.4M392.8 319.6l3.4 -3.4"/>
<path class="e" stroke="#88ff10" d="M571.4 271.8V285.0M570.0 271.8h2.8M570.0 285.0h2.8M569.7 276.7l3.4 3.4M569.7 280.1l3.4 -3.4M359.9 304.7V314.0M358.5 304.7h2.8M358.5 314.0h2.8M358.2 307.6l3.4 3.4M358.2 311.0l3.4 -3.4M521.6 281.0V293.0M520.2 281.0h2.8M520.2 293.0h2.8M519.9 285.3l3.4 3.4M519.9 288.7l3.4 -3.4M554.3 263.6V282.8M552.9 263.6h2.8M552.9 282.8h2.8M552.6 271.5l3.4 3.4M552.6 274.9l3.4 -3.4M471.8 292.2V309.8M470.4 292.2h2.8M470.4 309.8h2.8M470.1 299.3l3.4 3.4M470.1 302.7l3.4 -3.4M419.5 302.9V317.5M418.1 302.9h2.8M418.1 317.5h2.8M417.8 308.5l3.4 3.4M417.8 311.9l3.4 -3.4M363.8 285.7V299.8M362.4 285.7h2.8M362.4 299.8h2.8M362.1 291.1l3.4 3.4M362.1 294.5l3.4 -3.4M376.5 298.3V313.7M375.1 298.3h2.8M375.1 313.7h2.8M374.8 304.3l3.4 3.4M374.8 307.7l3.4 -3.4M542.4 303.7V319.9M541.0 303.7h2.8M541.0 319.9h2.8M540.7 310.1l3.4 3.4M540.7 313.5l3.4 -3.4M411.2 282.7V294.5M409.8 282.7h2.8M409.8 294.5h2.8M409.5 286.9l3.4 3.4M409.5 290.3l3.4 -3.4M446.0 303.1V313.4M444.6 303.1h2.8M444.6 313.4h2.8M444.3 306.5l3.4 3.4M444.3 309.9l3.4 -3.4M559.9 274.3V292.5M558.5 274.3h2.8M558.5 292.5h2.8M558.2 281.7l3.4 3.4M558.2 285.1l3.4 -3.4M437.8 279.3V289.0M436.4 279.3h2.8M436.4 289.0h2.8M436.1 282.4l3.4 3.4M436.1 285.8l3.4 -3.4M388.2 286.7V303.4M386.8 286.7h2.8M386.8 303.4h2.8M386.5 293.4l3.4 3.4M386.5 296.8l3.4 -3.4M375.9 289.3V298.4M374.5 289.3h2.8M374.5 298.4h2.8M374.2 292.2l3.4 3.4M374.2 295.6l3.4 -3.4M366.7 306.3V315.3M365.3 306.3h2.8M365.3 315.3h2.8M365.0 309.1l3.4 3.4M365.0 312.5l3.4 -3.4"/>
<path class="e" stroke="#a0ff00" d="M330.6 303.2V313.1M329.2 303.2h2.8M329.2 313.1h2.8M328.9 306.5l3.4 3.4M328.9 309.9l3.4 -3.4M332.3 298.7V311.6M330.9 298.7h2.8M330.9 311.6h2.8M330.6 303.4l3.4 3.4M330.6 306.8l3.4 -3.4M422.2 277.6V291.1M420.8 277.6h2.8M420.8 291.1h2.8M420.5 282.6l3.4 3.4M420.5 286.0l3.4 -3.4M545.9 283.2V302.6M544.5 283.2h2.8M544.5 302.6h2.8M544.2 291.2l3.4 3.4M544.2 294.6l3.4 -3.4"/>
<path class="e" stroke="#b0ff00" d="M420.3 288.6V301.7M418.9 288.6h2.8M418.9 301.7h2.8M418.6 293.4l3.4 3.4M418.6 296.8l3.4 -3.4M510.5 268.6V284.2M509.1 268.6h2.8M509.1 284.2h2.8M508.8 274.7l3.4 3.4M508.8 278.1l3.4 -3.4M487.6 281.4V293.8M486.2 281.4h2.8M486.2 293.8h2.8M485.9 285.9l3.4 3.4M485.9 289.3l3.4 -3.4"/>
<path class="e" stroke="#d0ff00" d="M485.9 275.2V293.9M484.5 275.2h2.8M484.5 293.9h2.8M484.2 282.9l3.4 3.4M484.2 286.3l3.4 -3.4M458.6 288.9V301.9M457.2 288.9h2.8M457.2 301.9h2.8M456.9 293.7l3.4 3.4M456.9 297.1l3.4 -3.4M551.2 260.6V280.8M549.8 260.6h2.8M549.8 280.8h2.8M549.5 269.0l3.4 3.4M549.5 272.4l3.4 -3.4M481.7 273.2V288.1M480.3 273.2h2.8M480.3 288.1h2.8M480.0 279.0l3.4 3.4M480.0 282.4l3.4 -3.4M352.5 300.5V310.6M351.1 300.5h2.8M351.1 310.6h2.8M350.8 303.9l3.4 3.4M350.8 307.3l3.4 -3.4M437.4 282.5V301.6M436.0 282.5h2.8M436.0 301.6h2.8M435.7 290.3l3.4 3.4M435.7 293.7l3.4 -3.4M330.9 295.5V305.8M329.5 295.5h2.8M329.5 305.8h2.8M329.2 298.9l3.4 3.4M329.2 302.3l3.4 -3.4M497.9 277.4V295.3M496.5 277.4h2.8M496.5 295.3h2.8M496.2 284.7l3.4 3.4M496.2 288.1l3.4 -3.4M570.6 266.4V283.8M569.2 266.4h2.8M569.2 283.8h2.8M568.9 273.4l3.4 3.4M568.9 276.8l3.4 -3.4M526.9 277.4V294.1M525.5 277.4h2.8M525.5 294.1h2.8M525.2 284.1l3.4 3.4M525.2 287.5l3.4 -3.4M356.9 288.3V305.6M355.5 288.3h2.8M355.5 305.6h2.8M355.2 295.2l3.4 3.4M355.2 298.6l3.4 -3.4"/>
<path class="e" stroke="#e0ff00" d="M412.9 304.6V323.2M411.5 304.6h2.8M411.5 323.2h2.8M411.2 312.2l3.4 3.4M411.2 315.6l3.4 -3.4M502.6 280.7V300.7M501.2 280.7h2.8M501.2 300.7h2.8M500.9 289.0l3.4 3.4M500.9 292.4l3.4 -3.4M525.7 285.8V306.8M524.3 285.8h2.8M524.3 306.8h2.8M524.0 294.6l3.4 3.4M524.0 298.0l3.4 -3.4M434.8 284.1V297.5M433.4 284.1h2.8M433.4 297.5h2.8M433.1 289.1l3.4 3.4M433.1 292.5l3.4 -3.4M427.3 300.1V310.8M425.9 300.1h2.8M425.9 310.8h2.8M425.6 303.7l3.4 3.4M425.6 307.1l3.4 -3.4M522.9 275.9V297.0M521.5 275.9h2.8M521.5 297.0h2.8M521.2 284.7l3.4 3.4M521.2 288.1l3.4 -3.4M431.6 290.4V308.0M430.2 290.4h2.8M430.2 308.0h2.8M429.9 297.5l3.4 3.4M429.9 300.9l3.4 -3.4M506.8 269.9V288.9M505.4 269.9h2.8M505.4 288.9h2.8M505.1 277.7l3.4 3.4M505.1 281.1l3.4 -3.4M426.6 299.1V311.6M425.2 299.1h2.8M425.2 311.6h2.8M424.9 303.6l3.4 3.4M424.9 307.0l3.4 -3.4"/>
<path class="e" stroke="#ffff10" d="M462.3 275.3V287.7M460.9 275.3h2.8M460.9 287.7h2.8M460.6 279.8l3.4 3.4M460.6 283.2l3.4 -3.4M388.8 280.0V293.9M387.4 280.0h2.8M387.4 293.9h2.8M387.1 285.2l3.4 3.4M387.1 288.6l3.4 -3.4M389.5 284.7V299.0M388.1 284.7h2.8M388.1 299.0h2.8M387.8 290.1l3.4 3.4M387.8 293.5l3.4 -3.4M389.7 298.3V309.3M388.3 298.3h2.8M388.3 309.3h2.8M388.0 302.1l3.4 3.4M388.0 305.5l3.4 -3.4M444.6 292.9V306.7M443.2 292.9h2.8M443.2 306.7h2.8M442.9 298.1l3.4 3.4M442.9 301.5l3.4 -3.4M536.7 258.9V275.0M535.3 258.9h2.8M535.3 275.0h2.8M535.0 265.2l3.4 3.4M535.0 268.6l3.4 -3.4M352.4 299.9V314.0M351.0 299.9h2.8M351.0 314.0h2.8M350.7 305.3l3.4 3.4M350.7 308.7l3.4 -3.4M533.2 256.2V276.7M531.8 256.2h2.8M531.8 276.7h2.8M531.5 264.7l3.4 3.4M531.5 268.1l3.4 -3.4M362.2 293.2V304.7M360.8 293.2h2.8M360.8 304.7h2.8M360.5 297.3l3.4 3.4M360.5 300.7l3.4 -3.4M494.0 279.3V300.3M492.6 279.3h2.8M492.6 300.3h2.8M492.3 288.1l3.4 3.4M492.3 291.5l3.4 -3.4M565.2 251.9V267.7M563.8 251.9h2.8M563.8 267.7h2.8M563.5 258.1l3.4 3.4M563.5 261.5l3.4 -3.4M373.0 289.7V300.2M371.6 289.7h2.8M371.6 300.2h2.8M371.3 293.3l3.4 3.4M371.3 296.7l3.4 -3.4M452.5 279.6V300.7M451.1 279.6h2.8M451.1 300.7h2.8M450.8 288.5l3.4 3.4M450.8 291.9l3.4 -3.4"/>
<path class="e" stroke="#ffe000" d="M549.8 302.1V317.9M548.4 302.1h2.8M548.4 317.9h2.8M548.1 308.3l3.4 3.4M548.1 311.7l3.4 -3.4M508.4 286.2V302.8M507.0 286.2h2.8M507.0 302.8h2.8M506.7 292.8l3.4 3.4M506.7 296.2l3.4 -3.4M548.5 282.9V303.8M547.1 282.9h2.8M547.1 303.8h2.8M546.8 291.6l3.4 3.4M546.8 295.0l3.4 -3.4M390.6 286.9V302.5M389.2 286.9h2.8M389.2 302.5h2.8M388.9 293.0l3.4 3.4M388.9 296.4l3.4 -3.4M463.5 290.2V311.5M462.1 290.2h2.8M462.1 311.5h2.8M461.8 299.1l3.4 3.4M461.8 302.5l3.4 -3.4M535.2 265.0V283.7M533.8 265.0h2.8M533.8 283.7h2.8M533.5 272.6l3.4 3.4M533.5 276.0l3.4 -3.4M565.1 285.5V302.1M563.7 285.5h2.8M563.7 302.1h2.8M563.4 292.1l3.4 3.4M563.4 295.5l3.4 -3.4M453.8 270.4V291.5M452.4 270.4h2.8M452.4 291.5h2.8M452.1 279.3l3.4 3.4M452.1 282.7l3.4 -3.4"/>
<path class="e" stroke="#ffd000" d="M503.4 294.9V307.9M502.0 294.9h2.8M502.0 307.9h2.8M501.7 299.7l3.4 3.4M501.7 303.1l3.4 -3.4M349.8 313.5V325.9M348.4 313.5h2.8M348.4 325.9h2.8M348.1 318.0l3.4 3.4M348.1 321.4l3.4 -3.4M360.5 303.0V315.9M359.1 303.0h2.8M359.1 315.9h2.8M358.8 307.7l3.4 3.4M358.8 311.1l3.4 -3.4M413.6 293.2V309.0M412.2 293.2h2.8M412.2 309.0h2.8M411.9 299.4l3.4 3.4M411.9 302.8l3.4 -3.4M569.7 288.1V302.9M568.3 288.1h2.8M568.3 302.9h2.8M568.0 293.8l3.4 3.4M568.0 297.2l3.4 -3.4M493.7 287.8V304.8M492.3 287.8h2.8M492.3 304.8h2.8M492.0 294.6l3.4 3.4M492.0 298.0l3.4 -3.4M400.1 297.2V313.2M398.7 297.2h2.8M398.7 313.2h2.8M398.4 303.5l3.4 3.4M398.4 306.9l3.4 -3.4M497.8 274.8V298.3M496.4 274.8h2.8M496.4 298.3h2.8M496.1 284.8l3.4 3.4M496.1 288.2l3.4 -3.4M553.2 300.1V322.6M551.8 300.1h2.8M551.8 322.6h2.8M551.5 309.7l3.4 3.4M551.5 313.1l3.4 -3.4M357.7 293.9V311.6M356.3 293.9h2.8M356.3 311.6h2.8M356.0 301.1l3.4 3.4M356.0 304.5l3.4 -3.4"/>
<path class="e" stroke="#ffc000" d="M430.0 277.1V298.4M428.6 277.1h2.8M428.6 298.4h2.8M428.3 286.0l3.4 3.4M428.3 289.4l3.4 -3.4M522.2 257.9V275.0M520.8 257.9h2.8M520.8 275.0h2.8M520.5 264.8l3.4 3.4M520.5 268.2l3.4 -3.4M415.6 296.5V309.7M414.2 296.5h2.8M414.2 309.7h2.8M413.9 301.4l3.4 3.4M413.9 304.8l3.4 -3.4"/>
<path class="e" stroke="#ffb000" d="M376.0 293.0V309.4M374.6 293.0h2.8M374.6 309.4h2.8M374.3 299.5l3.4 3.4M374.3 302.9l3.4 -3.4M552.0 259.4V280.4M550.6 259.4h2.8M550.6 280.4h2.8M550.3 268.2l3.4 3.4M550.3 271.6l3.4 -3.4M454.1 278.7V298.7M452.7 278.7h2.8M452.7 298.7h2.8M452.4 287.0l3.4 3.4M452.4 290.4l3.4 -3.4M544.1 279.7V294.4M542.7 279.7h2.8M542.7 294.4h2.8M542.4 285.3l3.4 3.4M542.4 288.7l3.4 -3.4M461.9 284.7V298.2M460.5 284.7h2.8M460.5 298.2h2.8M460.2 289.8l3.4 3.4M460.2 293.2l3.4 -3.4M549.6 304.7V327.1M548.2 304.7h2.8M548.2 327.1h2.8M547.9 314.2l3.4 3.4M547.9 317.6l3.4 -3.4M370.4 303.2V324.0M369.0 303.2h2.8M369.0 324.0h2.8M368.7 311.9l3.4 3.4M368.7 315.3l3.4 -3.4"/>
<path class="e" stroke="#ffa000" d="M330.8 284.3V301.1M329.4 284.3h2.8M329.4 301.1h2.8M329.1 291.0l3.4 3.4M329.1 294.4l3.4 -3.4M567.6 267.3V294.4M566.2 267.3h2.8M566.2 294.4h2.8M565.9 279.1l3.4 3.4M565.9 282.5l3.4 -3.4M459.4 285.0V302.8M458.0 285.0h2.8M458.0 302.8h2.8M457.7 292.2l3.4 3.4M457.7 295.6l3.4 -3.4M354.8 309.1V323.3M353.4 309.1h2.8M353.4 323.3h2.8M353.1 314.5l3.4 3.4M353.1 317.9l3.4 -3.4M356.0 295.9V313.8M354.6 295.9h2.8M354.6 313.8h2.8M354.3 303.1l3.4 3.4M354.3 306.5l3.4 -3.4"/>
<path class="e" stroke="#ff8c00" d="M453.4 288.6V303.0M452.0 288.6h2.8M452.0 303.0h2.8M451.7 294.1l3.4 3.4M451.7 297.5l3.4 -3.4M559.4 278.2V305.2M558.0 278.2h2.8M558.0 305.2h2.8M557.7 290.0l3.4 3.4M557.7 293.4l3.4 -3.4M433.5 295.6V314.5M432.1 295.6h2.8M432.1 314.5h2.8M431.8 303.4l3.4 3.4M431.8 306.8l3.4 -3.4M394.1 296.2V315.9M392.7 296.2h2.8M392.7 315.9h2.8M392.4 304.3l3.4 3.4M392.4 307.7l3.4 -3.4M436.2 292.1V314.6M434.8 292.1h2.8M434.8 314.6h2.8M434.5 301.7l3.4 3.4M434.5 305.1l3.4 -3.4M471.8 295.3V318.8M470.4 295.3h2.8M470.4 318.8h2.8M470.1 305.4l3.4 3.4M470.1 308.8l3.4 -3.4M562.6 278.3V304.2M561.2 278.3h2.8M561.2 304.2h2.8M560.9 289.6l3.4 3.4M560.9 293.0l3.4 -3.4M334.1 304.7V321.1M332.7 304.7h2.8M332.7 321.1h2.8M332.4 311.2l3.4 3.4M332.4 314.6l3.4 -3.4"/>
<path class="e" stroke="#ff7000" d="M348.4 288.4V307.5M347.0 288.4h2.8M347.0 307.5h2.8M346.7 296.3l3.4 3.4M346.7 299.7l3.4 -3.4M381.2 292.2V305.3M379.8 292.2h2.8M379.8 305.3h2.8M379.5 297.1l3.4 3.4M379.5 300.5l3.4 -3.4M408.8 316.9V332.5M407.4 316.9h2.8M407.4 332.5h2.8M407.1 323.0l3.4 3.4M407.1 326.4l3.4 -3.4M465.1 289.4V306.9M463.7 289.4h2.8M463.7 306.9h2.8M463.4 296.5l3.4 3.4M463.4 299.9l3.4 -3.4M384.4 303.4V328.2M383.0 303.4h2.8M383.0 328.2h2.8M382.7 314.1l3.4 3.4M382.7 317.5l3.4 -3.4M549.3 278.6V305.6M547.9 278.6h2.8M547.9 305.6h2.8M547.6 290.4l3.4 3.4M547.6 293.8l3.4 -3.4M358.6 290.4V311.1M357.2 290.4h2.8M357.2 311.1h2.8M356.9 299.1l3.4 3.4M356.9 302.5l3.4 -3.4M340.7 287.0V307.3M339.3 287.0h2.8M339.3 307.3h2.8M339.0 295.5l3.4 3.4M339.0 298.9l3.4 -3.4M334.1 293.9V311.2M332.7 293.9h2.8M332.7 311.2h2.8M332.4 300.8l3.4 3.4M332.4 304.2l3.4 -3.4M374.9 298.5V322.3M373.5 298.5h2.8M373.5 322.3h2.8M373.2 308.7l3.4 3.4M373.2 312.1l3.4 -3.4M477.2 279.3V297.2M475.8 279.3h2.8M475.8 297.2h2.8M475.5 286.6l3.4 3.4M475.5 290.0l3.4 -3.4"/>
<path class="e" stroke="#ff5000" d="M371.5 297.6V322.2M370.1 297.6h2.8M370.1 322.2h2.8M369.8 308.2l3.4 3.4M369.8 311.6l3.4 -3.4M353.7 300.9V316.4M352.3 300.9h2.8M352.3 316.4h2.8M352.0 306.9l3.4 3.4M352.0 310.3l3.4 -3.4M409.3 294.9V319.0M407.9 294.9h2.8M407.9 319.0h2.8M407.6 305.3l3.4 3.4M407.6 308.7l3.4 -3.4M406.6 283.7V300.6M405.2 283.7h2.8M405.2 300.6h2.8M404.9 290.4l3.4 3.4M404.9 293.8l3.4 -3.4M506.6 282.5V307.9M505.2 282.5h2.8M505.2 307.9h2.8M504.9 293.5l3.4 3.4M504.9 296.9l3.4 -3.4M485.1 287.5V313.3M483.7 287.5h2.8M483.7 313.3h2.8M483.4 298.7l3.4 3.4M483.4 302.1l3.4 -3.4M362.0 285.5V310.2M360.6 285.5h2.8M360.6 310.2h2.8M360.3 296.2l3.4 3.4M360.3 299.6l3.4 -3.4M474.1 298.4V320.1M472.7 298.4h2.8M472.7 320.1h2.8M472.4 307.6l3.4 3.4M472.4 311.0l3.4 -3.4M454.9 288.4V309.5M453.5 288.4h2.8M453.5 309.5h2.8M453.2 297.3l3.4 3.4M453.2 300.7l3.4 -3.4M427.9 297.0V314.9M426.5 297.0h2.8M426.5 314.9h2.8M426.2 304.2l3.4 3.4M426.2 307.6l3.4 -3.4M376.9 290.8V308.2M375.5 290.8h2.8M375.5 308.2h2.8M375.2 297.8l3.4 3.4M375.2 301.2l3.4 -3.4M359.8 282.4V308.3M358.4 282.4h2.8M358.4 308.3h2.8M358.1 293.6l3.4 3.4M358.1 297.0l3.4 -3.4M339.0 280.9V305.8M337.6 280.9h2.8M337.6 305.8h2.8M337.3 291.6l3.4 3.4M337.3 295.0l3.4 -3.4"/>
<path class="e" stroke="#ff4000" d="M424.1 301.0V319.7M422.7 301.0h2.8M422.7 319.7h2.8M422.4 308.7l3.4 3.4M422.4 312.1l3.4 -3.4M379.0 288.2V315.3M377.6 288.2h2.8M377.6 315.3h2.8M377.3 300.0l3.4 3.4M377.3 303.4l3.4 -3.4M516.2 274.4V302.6M514.8 274.4h2.8M514.8 302.6h2.8M514.5 286.8l3.4 3.4M514.5 290.2l3.4 -3.4M506.7 291.8V321.3M505.3 291.8h2.8M505.3 321.3h2.8M505.0 304.8l3.4 3.4M505.0 308.2l3.4 -3.4M428.3 294.6V319.7M426.9 294.6h2.8M426.9 319.7h2.8M426.6 305.5l3.4 3.4M426.6 308.9l3.4 -3.4M445.4 308.8V327.8M444.0 308.8h2.8M444.0 327.8h2.8M443.7 316.6l3.4 3.4M443.7 320.0l3.4 -3.4M551.8 280.1V306.4M550.4 280.1h2.8M550.4 306.4h2.8M550.1 291.5l3.4 3.4M550.1 294.9l3.4 -3.4"/>
<path class="e" stroke="#ff2000" d="M560.9 298.3V323.5M559.5 298.3h2.8M559.5 323.5h2.8M559.2 309.2l3.4 3.4M559.2 312.6l3.4 -3.4M390.3 290.5V312.8M388.9 290.5h2.8M388.9 312.8h2.8M388.6 300.0l3.4 3.4M388.6 303.4l3.4 -3.4M427.4 299.4V320.6M426.0 299.4h2.8M426.0 320.6h2.8M425.7 308.3l3.4 3.4M425.7 311.7l3.4 -3.4M436.7 288.5V318.6M435.3 288.5h2.8M435.3 318.6h2.8M435.0 301.8l3.4 3.4M435.0 305.2l3.4 -3.4M515.7 275.1V296.5M514.3 275.1h2.8M514.3 296.5h2.8M514.0 284.1l3.4 3.4M514.0 287.5l3.4 -3.4M359.5 291.2V316.0M358.1 291.2h2.8M358.1 316.0h2.8M357.8 301.9l3.4 3.4M357.8 305.3l3.4 -3.4M559.7 259.5V283.4M558.3 259.5h2.8M558.3 283.4h2.8M558.0 269.8l3.4 3.4M558.0 273.2l3.4 -3.4M449.4 264.1V284.9M448.0 264.1h2.8M448.0 284.9h2.8M447.7 272.8l3.4 3.4M447.7 276.2l3.4 -3.4"/>
<path class="e" stroke="#ff0000" d="M546.9 276.8V309.6M545.5 276.8h2.8M545.5 309.6h2.8M545.2 291.5l3.4 3.4M545.2 294.9l3.4 -3.4M354.7 307.4V331.8M353.3 307.4h2.8M353.3 331.8h2.8M353.0 317.9l3.4 3.4M353.0 321.3l3.4 -3.4M445.5 277.1V306.2M444.1 277.1h2.8M444.1 306.2h2.8M443.8 289.9l3.4 3.4M443.8 293.3l3.4 -3.4"/>
<path class="e" stroke="#4a0085" d="M336.6 226.3V259.3M335.2 226.3h2.8M335.2 259.3h2.8M334.9 241.1l3.4 3.4M334.9 244.5l3.4 -3.4"/>
<path class="e" stroke="#55307a" d="M369.5 235.5V275.3M368.1 235.5h2.8M368.1 275.3h2.8M367.8 253.7l3.4 3.4M367.8 257.1l3.4 -3.4"/>
<path class="e" stroke="#ff7000" d="M357.0 341.0V359.0M355.6 341.0h2.8M355.6 359.0h2.8M355.3 348.3l3.4 3.4M355.3 351.7l3.4 -3.4"/>
<polyline class="dot" points="323.8,287.3 328.1,286.8 332.4,286.3 336.7,285.8 341.0,285.3 345.3,284.8 349.6,284.3 353.9,283.8 358.2,283.3 362.5,282.8 366.8,282.3 371.1,281.8 375.4,281.3 379.7,280.8 384.0,280.3 388.3,279.8 392.6,279.3 396.9,278.8 401.2,278.2 405.5,277.7 409.8,277.2 414.1,276.7 418.4,276.2 422.7,275.7 427.0,275.2 431.3,274.6 435.6,274.1 439.9,273.6 444.2,273.1 448.5,272.6 452.8,272.0 457.1,271.5 461.3,271.0 465.6,270.5 469.9,269.9 474.2,269.4 478.5,268.9 482.8,268.4 487.1,267.8 491.4,267.3 495.7,266.8 500.0,266.2 504.3,265.7 508.6,265.2 512.9,264.6 517.2,264.1 521.5,263.5 525.8,263.0 530.1,262.5 534.4,261.9 538.7,261.4 543.0,260.8 547.3,260.3 551.6,259.8 555.9,259.2 560.2,258.7 564.5,258.1 568.8,257.6 573.1,257.0 577.4,256.5"/>
<polyline class="dot" points="323.8,319.4 328.1,319.2 332.4,319.0 336.7,318.9 341.0,318.7 345.3,318.5 349.6,318.3 353.9,318.1 358.2,318.0 362.5,317.8 366.8,317.6 371.1,317.4 375.4,317.2 379.7,317.1 384.0,316.9 388.3,316.7 392.6,316.5 396.9,316.3 401.2,316.1 405.5,316.0 409.8,315.8 414.1,315.6 418.4,315.4 422.7,315.2 427.0,315.0 431.3,314.8 435.6,314.7 439.9,314.5 444.2,314.3 448.5,314.1 452.8,313.9 457.1,313.7 461.3,313.5 465.6,313.3 469.9,313.1 474.2,313.0 478.5,312.8 482.8,312.6 487.1,312.4 491.4,312.2 495.7,312.0 500.0,311.8 504.3,311.6 508.6,311.4 512.9,311.2 517.2,311.0 521.5,310.8 525.8,310.6 530.1,310.4 534.4,310.3 538.7,310.1 543.0,309.9 547.3,309.7 551.6,309.5 555.9,309.3 560.2,309.1 564.5,308.9 568.8,308.7 573.1,308.5 577.4,308.3"/>
<polyline fill="none" stroke="#000" stroke-width="0.95" points="323.8,303.3 328.1,303.0 332.4,302.7 336.7,302.3 341.0,302.0 345.3,301.7 349.6,301.3 353.9,301.0 358.2,300.6 362.5,300.3 366.8,300.0 371.1,299.6 375.4,299.3 379.7,298.9 384.0,298.6 388.3,298.2 392.6,297.9 396.9,297.5 401.2,297.2 405.5,296.8 409.8,296.5 414.1,296.1 418.4,295.8 422.7,295.4 427.0,295.1 431.3,294.7 435.6,294.4 439.9,294.0 444.2,293.7 448.5,293.3 452.8,293.0 457.1,292.6 461.3,292.3 465.6,291.9 469.9,291.5 474.2,291.2 478.5,290.8 482.8,290.5 487.1,290.1 491.4,289.7 495.7,289.4 500.0,289.0 504.3,288.7 508.6,288.3 512.9,287.9 517.2,287.6 521.5,287.2 525.8,286.8 530.1,286.5 534.4,286.1 538.7,285.7 543.0,285.4 547.3,285.0 551.6,284.6 555.9,284.2 560.2,283.9 564.5,283.5 568.8,283.1 573.1,282.7 577.4,282.4"/>
<polyline fill="none" stroke="#e00" stroke-width="1.2" stroke-dasharray="5 1.5" points="323.8,303.3 328.1,303.0 332.4,302.7 336.7,302.3 341.0,302.0 345.3,301.7 349.6,301.3 353.9,301.0 358.2,300.6 362.5,300.3 366.8,300.0 371.1,299.6 375.4,299.3 379.7,298.9 384.0,298.6 388.3,298.2 392.6,297.9 396.9,297.5 401.2,297.2 405.5,296.8 409.8,296.5 414.1,296.1 418.4,295.8 422.7,295.4 427.0,295.1 431.3,294.7 435.6,294.4 439.9,294.0 444.2,293.7 448.5,293.3 452.8,293.0 457.1,292.6 461.3,292.3 465.6,291.9 469.9,291.5 474.2,291.2 478.5,290.8 482.8,290.5 487.1,290.1 491.4,289.7 495.7,289.4 500.0,289.0 504.3,288.7 508.6,288.3 512.9,287.9 517.2,287.6 521.5,287.2 525.8,286.8 530.1,286.5 534.4,286.1 538.7,285.7 543.0,285.4 547.3,285.0 551.6,284.6 555.9,284.2 560.2,283.9 564.5,283.5 568.8,283.1 573.1,282.7 577.4,282.4"/>
</svg>
<path stroke="#000" stroke-width="1" d="M38.5 0.5V176.5"/>
<path stroke="#333" stroke-width="1" d="M275.5 0.5V176.5"/>
<path stroke="#555" stroke-width="1" d="M38.0 1.0H276.0"/>
<path stroke="#555" stroke-width="1" d="M38.0 176.0H276.0"/>
<path fill="none" stroke="#000" stroke-width="1" d="M44.5 176.0v-2.5M44.5 1.0v2.5M58.5 176.0v-2.5M58.5 1.0v2.5M73.5 176.0v-2.5M73.5 1.0v2.5M88.5 176.0v-4.5M88.5 1.0v4.5M102.5 176.0v-2.5M102.5 1.0v2.5M117.5 176.0v-2.5M117.5 1.0v2.5M131.5 176.0v-2.5M131.5 1.0v2.5M146.5 176.0v-4.5M146.5 1.0v4.5M160.5 176.0v-2.5M160.5 1.0v2.5M175.5 176.0v-2.5M175.5 1.0v2.5M190.5 176.0v-2.5M190.5 1.0v2.5M204.5 176.0v-4.5M204.5 1.0v4.5M219.5 176.0v-2.5M219.5 1.0v2.5M233.5 176.0v-2.5M233.5 1.0v2.5M248.5 176.0v-2.5M248.5 1.0v2.5M263.5 176.0v-4.5M263.5 1.0v4.5M38.5 175.5h2.5M275.5 175.5h-2.5M38.5 171.5h2.5M275.5 171.5h-2.5M38.5 166.5h2.5M275.5 166.5h-2.5M38.5 161.5h2.5M275.5 161.5h-2.5M38.5 157.5h2.5M275.5 157.5h-2.5M38.5 152.5h2.5M275.5 152.5h-2.5M38.5 148.5h2.5M275.5 148.5h-2.5M38.5 143.5h2.5M275.5 143.5h-2.5M38.5 138.5h2.5M275.5 138.5h-2.5M38.5 134.5h4.5M275.5 134.5h-4.5M38.5 129.5h2.5M275.5 129.5h-2.5M38.5 125.5h2.5M275.5 125.5h-2.5M38.5 120.5h2.5M275.5 120.5h-2.5M38.5 115.5h2.5M275.5 115.5h-2.5M38.5 111.5h2.5M275.5 111.5h-2.5M38.5 106.5h2.5M275.5 106.5h-2.5M38.5 102.5h2.5M275.5 102.5h-2.5M38.5 97.5h2.5M275.5 97.5h-2.5M38.5 92.5h2.5M275.5 92.5h-2.5M38.5 88.5h4.5M275.5 88.5h-4.5M38.5 83.5h2.5M275.5 83.5h-2.5M38.5 79.5h2.5M275.5 79.5h-2.5M38.5 74.5h2.5M275.5 74.5h-2.5M38.5 69.5h2.5M275.5 69.5h-2.5M38.5 65.5h2.5M275.5 65.5h-2.5M38.5 60.5h2.5M275.5 60.5h-2.5M38.5 56.5h2.5M275.5 56.5h-2.5M38.5 51.5h2.5M275.5 51.5h-2.5M38.5 46.5h2.5M275.5 46.5h-2.5M38.5 42.5h4.5M275.5 42.5h-4.5M38.5 37.5h2.5M275.5 37.5h-2.5M38.5 33.5h2.5M275.5 33.5h-2.5M38.5 28.5h2.5M275.5 28.5h-2.5M38.5 23.5h2.5M275.5 23.5h-2.5M38.5 19.5h2.5M275.5 19.5h-2.5M38.5 14.5h2.5M275.5 14.5h-2.5M38.5 10.5h2.5M275.5 10.5h-2.5M38.5 5.5h2.5M275.5 5.5h-2.5"/>
<text class="t" x="88.1" y="191.1" text-anchor="middle">2800</text>
<text class="t" x="146.4" y="191.1" text-anchor="middle">3000</text>
<text class="t" x="204.7" y="191.1" text-anchor="middle">3200</text>
<text class="t" x="263.0" y="191.1" text-anchor="middle">3400</text>
<text class="t" x="34.8" y="139.2" text-anchor="end">0.2</text>
<text class="t" x="34.8" y="93.2" text-anchor="end">0.3</text>
<text class="t" x="34.8" y="47.2" text-anchor="end">0.4</text>
<text class="s fq" transform="translate(113.4,202.4) scale(1.15,1)">Frequency</text>
<text class="s fq" x="172.4" y="202.4">(<tspan font-style="italic">μ</tspan>Hz)</text>
<text class="s yt" transform="translate(11.9,122.8) rotate(-90) scale(1.090,1)"><tspan font-style="italic">δν</tspan><tspan font-size="6.2" font-weight="bold" dy="2.3">n,l</tspan><tspan dy="-2.3" font-style="italic">Q</tspan><tspan font-size="6.2" font-weight="bold" dy="2.3">n,l</tspan></text>
<text class="yt" font-family="Liberation Sans" transform="translate(11.9,82.1) rotate(-90) scale(0.9,1)">(<tspan font-style="italic">μ</tspan>Hz)</text>
<path stroke="#333" stroke-width="1" d="M329.6 0.5V176.5"/>
<path stroke="#333" stroke-width="1" d="M566.3 0.5V176.5"/>
<path stroke="#555" stroke-width="1" d="M329.1 1.0H566.8"/>
<path stroke="#555" stroke-width="1" d="M329.1 176.0H566.8"/>
<path fill="none" stroke="#000" stroke-width="1" d="M335.5 176.0v-2.5M335.5 1.0v2.5M349.5 176.0v-2.5M349.5 1.0v2.5M364.5 176.0v-2.5M364.5 1.0v2.5M379.5 176.0v-4.5M379.5 1.0v4.5M393.5 176.0v-2.5M393.5 1.0v2.5M408.5 176.0v-2.5M408.5 1.0v2.5M422.5 176.0v-2.5M422.5 1.0v2.5M437.5 176.0v-4.5M437.5 1.0v4.5M451.5 176.0v-2.5M451.5 1.0v2.5M466.5 176.0v-2.5M466.5 1.0v2.5M481.5 176.0v-2.5M481.5 1.0v2.5M495.5 176.0v-4.5M495.5 1.0v4.5M510.5 176.0v-2.5M510.5 1.0v2.5M524.5 176.0v-2.5M524.5 1.0v2.5M539.5 176.0v-2.5M539.5 1.0v2.5M554.5 176.0v-4.5M554.5 1.0v4.5M329.6 176.5h4.5M566.3 176.5h-4.5M329.6 168.5h2.5M566.3 168.5h-2.5M329.6 160.5h2.5M566.3 160.5h-2.5M329.6 152.5h2.5M566.3 152.5h-2.5M329.6 144.5h4.5M566.3 144.5h-4.5M329.6 136.5h2.5M566.3 136.5h-2.5M329.6 128.5h2.5M566.3 128.5h-2.5M329.6 120.5h2.5M566.3 120.5h-2.5M329.6 112.5h4.5M566.3 112.5h-4.5M329.6 104.5h2.5M566.3 104.5h-2.5M329.6 96.5h2.5M566.3 96.5h-2.5M329.6 88.5h2.5M566.3 88.5h-2.5M329.6 80.5h4.5M566.3 80.5h-4.5M329.6 72.5h2.5M566.3 72.5h-2.5M329.6 64.5h2.5M566.3 64.5h-2.5M329.6 56.5h2.5M566.3 56.5h-2.5M329.6 48.5h4.5M566.3 48.5h-4.5M329.6 40.5h2.5M566.3 40.5h-2.5M329.6 32.5h2.5M566.3 32.5h-2.5M329.6 24.5h2.5M566.3 24.5h-2.5M329.6 16.5h4.5M566.3 16.5h-4.5M329.6 9.5h2.5M566.3 9.5h-2.5M329.6 1.5h2.5M566.3 1.5h-2.5"/>
<text class="t" x="379.1" y="191.1" text-anchor="middle">2800</text>
<text class="t" x="437.4" y="191.1" text-anchor="middle">3000</text>
<text class="t" x="495.7" y="191.1" text-anchor="middle">3200</text>
<text class="t" x="554.0" y="191.1" text-anchor="middle">3400</text>
<text class="t" x="326.2" y="177.5" text-anchor="end">−0.02</text>
<text class="t" x="326.2" y="149.2" text-anchor="end">0.00</text>
<text class="t" x="326.2" y="117.4" text-anchor="end">0.02</text>
<text class="t" x="326.2" y="85.6" text-anchor="end">0.04</text>
<text class="t" x="326.2" y="53.8" text-anchor="end">0.06</text>
<text class="t" x="326.2" y="22.0" text-anchor="end">0.08</text>
<text class="s fq" transform="translate(404.3,202.4) scale(1.15,1)">Frequency</text>
<text class="s fq" x="463.3" y="202.4">(<tspan font-style="italic">μ</tspan>Hz)</text>
<text class="s yt" transform="translate(289.1,122.5) rotate(-90) scale(1.081,1)"><tspan font-style="italic">δν</tspan><tspan font-size="6.2" font-weight="bold" dy="2.3">n,l</tspan><tspan dy="-2.3" font-style="italic">Q</tspan><tspan font-size="6.2" font-weight="bold" dy="2.3">n,l</tspan></text>
<text class="yt" font-family="Liberation Sans" transform="translate(289.1,82.1) rotate(-90) scale(0.9,1)">(<tspan font-style="italic">μ</tspan>Hz)</text>
<path stroke="#000" stroke-width="1" d="M41.5 205.9V381.4"/>
<path stroke="#333" stroke-width="1" d="M278.0 205.9V381.4"/>
<path stroke="#000" stroke-width="1" d="M41.0 206.4H278.5"/>
<path stroke="#000" stroke-width="1" d="M41.0 380.9H278.5"/>
<path fill="none" stroke="#000" stroke-width="1" d="M47.5 380.9v-2.5M47.5 206.4v2.5M61.5 380.9v-2.5M61.5 206.4v2.5M76.5 380.9v-2.5M76.5 206.4v2.5M91.5 380.9v-4.5M91.5 206.4v4.5M105.5 380.9v-2.5M105.5 206.4v2.5M120.5 380.9v-2.5M120.5 206.4v2.5M134.5 380.9v-2.5M134.5 206.4v2.5M149.5 380.9v-4.5M149.5 206.4v4.5M163.5 380.9v-2.5M163.5 206.4v2.5M178.5 380.9v-2.5M178.5 206.4v2.5M193.5 380.9v-2.5M193.5 206.4v2.5M207.5 380.9v-4.5M207.5 206.4v4.5M222.5 380.9v-2.5M222.5 206.4v2.5M236.5 380.9v-2.5M236.5 206.4v2.5M251.5 380.9v-2.5M251.5 206.4v2.5M266.5 380.9v-4.5M266.5 206.4v4.5M41.5 380.5h2.5M278.0 380.5h-2.5M41.5 373.5h2.5M278.0 373.5h-2.5M41.5 365.5h2.5M278.0 365.5h-2.5M41.5 358.5h2.5M278.0 358.5h-2.5M41.5 350.5h4.5M278.0 350.5h-4.5M41.5 342.5h2.5M278.0 342.5h-2.5M41.5 335.5h2.5M278.0 335.5h-2.5M41.5 327.5h2.5M278.0 327.5h-2.5M41.5 320.5h2.5M278.0 320.5h-2.5M41.5 312.5h4.5M278.0 312.5h-4.5M41.5 305.5h2.5M278.0 305.5h-2.5M41.5 297.5h2.5M278.0 297.5h-2.5M41.5 289.5h2.5M278.0 289.5h-2.5M41.5 282.5h2.5M278.0 282.5h-2.5M41.5 274.5h4.5M278.0 274.5h-4.5M41.5 267.5h2.5M278.0 267.5h-2.5M41.5 259.5h2.5M278.0 259.5h-2.5M41.5 251.5h2.5M278.0 251.5h-2.5M41.5 244.5h2.5M278.0 244.5h-2.5M41.5 236.5h4.5M278.0 236.5h-4.5M41.5 229.5h2.5M278.0 229.5h-2.5M41.5 221.5h2.5M278.0 221.5h-2.5M41.5 214.5h2.5M278.0 214.5h-2.5M41.5 206.5h2.5M278.0 206.5h-2.5"/>
<text class="t" x="91.1" y="396.0" text-anchor="middle">2800</text>
<text class="t" x="149.4" y="396.0" text-anchor="middle">3000</text>
<text class="t" x="207.7" y="396.0" text-anchor="middle">3200</text>
<text class="t" x="266.0" y="396.0" text-anchor="middle">3400</text>
<text class="t" x="37.2" y="355.5" text-anchor="end">0.20</text>
<text class="t" x="37.2" y="317.6" text-anchor="end">0.25</text>
<text class="t" x="37.2" y="279.7" text-anchor="end">0.30</text>
<text class="t" x="37.2" y="241.8" text-anchor="end">0.35</text>
<text class="s fq" transform="translate(116.2,407.3) scale(1.15,1)">Frequency</text>
<text class="s fq" x="175.2" y="407.3">(<tspan font-style="italic">μ</tspan>Hz)</text>
<text class="s yt" transform="translate(8.8,335.5) rotate(-90) scale(1.119,1)"><tspan font-style="italic">δν</tspan><tspan font-size="6.2" font-weight="bold" dy="2.3">n,l</tspan><tspan dy="-2.3" font-style="italic">Q</tspan><tspan font-size="6.2" font-weight="bold" dy="2.3">n,l</tspan><tspan dy="-2.3" font-style="italic">ε</tspan><tspan font-size="6.2" font-weight="bold" dy="2.3">n,l</tspan></text>
<text class="yt" font-family="Liberation Sans" transform="translate(8.8,280.9) rotate(-90) scale(0.9,1)">(<tspan font-style="italic">μ</tspan>Hz)</text>
<path stroke="#000" stroke-width="1" d="M332.5 205.9V381.4"/>
<path stroke="#333" stroke-width="1" d="M569.2 205.9V381.4"/>
<path stroke="#000" stroke-width="1" d="M332.0 206.4H569.7"/>
<path stroke="#000" stroke-width="1" d="M332.0 380.9H569.7"/>
<path fill="none" stroke="#000" stroke-width="1" d="M338.5 380.9v-2.5M338.5 206.4v2.5M352.5 380.9v-2.5M352.5 206.4v2.5M367.5 380.9v-2.5M367.5 206.4v2.5M382.5 380.9v-4.5M382.5 206.4v4.5M396.5 380.9v-2.5M396.5 206.4v2.5M411.5 380.9v-2.5M411.5 206.4v2.5M425.5 380.9v-2.5M425.5 206.4v2.5M440.5 380.9v-4.5M440.5 206.4v4.5M454.5 380.9v-2.5M454.5 206.4v2.5M469.5 380.9v-2.5M469.5 206.4v2.5M484.5 380.9v-2.5M484.5 206.4v2.5M498.5 380.9v-4.5M498.5 206.4v4.5M513.5 380.9v-2.5M513.5 206.4v2.5M527.5 380.9v-2.5M527.5 206.4v2.5M542.5 380.9v-2.5M542.5 206.4v2.5M557.5 380.9v-4.5M557.5 206.4v4.5M332.5 372.5h4.5M569.2 372.5h-4.5M332.5 363.5h2.5M569.2 363.5h-2.5M332.5 354.5h2.5M569.2 354.5h-2.5M332.5 346.5h2.5M569.2 346.5h-2.5M332.5 337.5h4.5M569.2 337.5h-4.5M332.5 328.5h2.5M569.2 328.5h-2.5M332.5 320.5h2.5M569.2 320.5h-2.5M332.5 311.5h2.5M569.2 311.5h-2.5M332.5 302.5h4.5M569.2 302.5h-4.5M332.5 294.5h2.5M569.2 294.5h-2.5M332.5 285.5h2.5M569.2 285.5h-2.5M332.5 276.5h2.5M569.2 276.5h-2.5M332.5 267.5h4.5M569.2 267.5h-4.5M332.5 259.5h2.5M569.2 259.5h-2.5M332.5 250.5h2.5M569.2 250.5h-2.5M332.5 241.5h2.5M569.2 241.5h-2.5M332.5 233.5h4.5M569.2 233.5h-4.5M332.5 224.5h2.5M569.2 224.5h-2.5M332.5 215.5h2.5M569.2 215.5h-2.5M332.5 207.5h2.5M569.2 207.5h-2.5"/>
<text class="t" x="382.1" y="396.0" text-anchor="middle">2800</text>
<text class="t" x="440.4" y="396.0" text-anchor="middle">3000</text>
<text class="t" x="498.7" y="396.0" text-anchor="middle">3200</text>
<text class="t" x="557.0" y="396.0" text-anchor="middle">3400</text>
<text class="t" x="329.4" y="377.3" text-anchor="end">−0.02</text>
<text class="t" x="329.4" y="342.5" text-anchor="end">0.00</text>
<text class="t" x="329.4" y="307.7" text-anchor="end">0.02</text>
<text class="t" x="329.4" y="272.9" text-anchor="end">0.04</text>
<text class="t" x="329.4" y="238.1" text-anchor="end">0.06</text>
<text class="s fq" transform="translate(407.2,407.3) scale(1.15,1)">Frequency</text>
<text class="s fq" x="466.2" y="407.3">(<tspan font-style="italic">μ</tspan>Hz)</text>
<text class="s yt" transform="translate(292.7,337.1) rotate(-90) scale(1.121,1)"><tspan font-style="italic">δν</tspan><tspan font-size="6.2" font-weight="bold" dy="2.3">n,l</tspan><tspan dy="-2.3" font-style="italic">Q</tspan><tspan font-size="6.2" font-weight="bold" dy="2.3">n,l</tspan><tspan dy="-2.3" font-style="italic">ε</tspan><tspan font-size="6.2" font-weight="bold" dy="2.3">n,l</tspan></text>
<text class="yt" font-family="Liberation Sans" transform="translate(292.7,278.6) rotate(-90) scale(0.9,1)">(<tspan font-style="italic">μ</tspan>Hz)</text>
<defs><linearGradient id="cbg" x1="0" x2="1" y1="0" y2="0"><stop offset="0.00%" stop-color="#000000"/><stop offset="1.83%" stop-color="#000000"/><stop offset="1.83%" stop-color="#180818"/><stop offset="2.69%" stop-color="#180818"/><stop offset="2.69%" stop-color="#2a0530"/><stop offset="5.28%" stop-color="#2a0530"/><stop offset="5.28%" stop-color="#3a0545"/><stop offset="6.66%" stop-color="#3a0545"/><stop offset="6.66%" stop-color="#440055"/><stop offset="7.67%" stop-color="#440055"/><stop offset="7.67%" stop-color="#4a0060"/><stop offset="9.46%" stop-color="#4a0060"/><stop offset="9.46%" stop-color="#50006a"/><stop offset="11.29%" stop-color="#50006a"/><stop offset="11.29%" stop-color="#550075"/><stop offset="12.91%" stop-color="#550075"/><stop offset="12.91%" stop-color="#4a0085"/><stop offset="14.92%" stop-color="#4a0085"/><stop offset="14.92%" stop-color="#4400a0"/><stop offset="16.75%" stop-color="#4400a0"/><stop offset="16.75%" stop-color="#3a00b8"/><stop offset="18.58%" stop-color="#3a00b8"/><stop offset="18.58%" stop-color="#2800d0"/><stop offset="20.37%" stop-color="#2800d0"/><stop offset="20.37%" stop-color="#1800e8"/><stop offset="21.82%" stop-color="#1800e8"/><stop offset="21.82%" stop-color="#0a00f5"/><stop offset="23.65%" stop-color="#0a00f5"/><stop offset="23.65%" stop-color="#0010ff"/><stop offset="26.17%" stop-color="#0010ff"/><stop offset="26.17%" stop-color="#0030ff"/><stop offset="28.25%" stop-color="#0030ff"/><stop offset="28.25%" stop-color="#0050ff"/><stop offset="31.70%" stop-color="#0050ff"/><stop offset="31.70%" stop-color="#0080ff"/><stop offset="34.12%" stop-color="#0080ff"/><stop offset="34.12%" stop-color="#0090ff"/><stop offset="35.84%" stop-color="#0090ff"/><stop offset="35.84%" stop-color="#00a0ff"/><stop offset="36.88%" stop-color="#00a0ff"/><stop offset="36.88%" stop-color="#00b0ff"/><stop offset="38.95%" stop-color="#00b0ff"/><stop offset="38.95%" stop-color="#00c8ff"/><stop offset="41.37%" stop-color="#00c8ff"/><stop offset="41.37%" stop-color="#00f0ff"/><stop offset="43.78%" stop-color="#00f0ff"/><stop offset="43.78%" stop-color="#00ffd8"/><stop offset="46.89%" stop-color="#00ffd8"/><stop offset="46.89%" stop-color="#00ffc0"/><stop offset="48.62%" stop-color="#00ffc0"/><stop offset="48.62%" stop-color="#00ffa0"/><stop offset="51.73%" stop-color="#00ffa0"/><stop offset="51.73%" stop-color="#00ff70"/><stop offset="56.91%" stop-color="#00ff70"/><stop offset="56.91%" stop-color="#10ff40"/><stop offset="61.40%" stop-color="#10ff40"/><stop offset="61.40%" stop-color="#10ff00"/><stop offset="64.50%" stop-color="#10ff00"/><stop offset="64.50%" stop-color="#40ff10"/><stop offset="67.61%" stop-color="#40ff10"/><stop offset="67.61%" stop-color="#60ff10"/><stop offset="69.68%" stop-color="#60ff10"/><stop offset="69.68%" stop-color="#70ff00"/><stop offset="71.41%" stop-color="#70ff00"/><stop offset="71.41%" stop-color="#88ff10"/><stop offset="73.14%" stop-color="#88ff10"/><stop offset="73.14%" stop-color="#a0ff00"/><stop offset="75.21%" stop-color="#a0ff00"/><stop offset="75.21%" stop-color="#b0ff00"/><stop offset="76.24%" stop-color="#b0ff00"/><stop offset="76.24%" stop-color="#d0ff00"/><stop offset="77.97%" stop-color="#d0ff00"/><stop offset="77.97%" stop-color="#e0ff00"/><stop offset="79.35%" stop-color="#e0ff00"/><stop offset="79.35%" stop-color="#ffff10"/><stop offset="81.77%" stop-color="#ffff10"/><stop offset="81.77%" stop-color="#ffe000"/><stop offset="83.15%" stop-color="#ffe000"/><stop offset="83.15%" stop-color="#ffd000"/><stop offset="84.53%" stop-color="#ffd000"/><stop offset="84.53%" stop-color="#ffc000"/><stop offset="86.26%" stop-color="#ffc000"/><stop offset="86.26%" stop-color="#ffb000"/><stop offset="88.33%" stop-color="#ffb000"/><stop offset="88.33%" stop-color="#ffa000"/><stop offset="89.71%" stop-color="#ffa000"/><stop offset="89.71%" stop-color="#ff8c00"/><stop offset="91.09%" stop-color="#ff8c00"/><stop offset="91.09%" stop-color="#ff7000"/><stop offset="93.85%" stop-color="#ff7000"/><stop offset="93.85%" stop-color="#ff5000"/><stop offset="95.93%" stop-color="#ff5000"/><stop offset="95.93%" stop-color="#ff4000"/><stop offset="97.65%" stop-color="#ff4000"/><stop offset="97.65%" stop-color="#ff2000"/><stop offset="99.03%" stop-color="#ff2000"/><stop offset="99.03%" stop-color="#ff0000"/><stop offset="100.00%" stop-color="#ff0000"/></linearGradient></defs>
<rect x="140.2" y="412" width="289.6" height="19" fill="url(#cbg)"/>
<path stroke="#000" stroke-width="1.2" fill="none" d="M147.5 431v-5M158.5 431v-9M168.5 431v-5M179.5 431v-5M189.5 431v-5M200.5 431v-9M210.5 431v-5M221.5 431v-5M231.5 431v-5M241.5 431v-9M252.5 431v-5M262.5 431v-5M273.5 431v-5M283.5 431v-9M294.5 431v-5M304.5 431v-5M314.5 431v-5M325.5 431v-9M335.5 431v-5M346.5 431v-5M356.5 431v-5M367.5 431v-9M377.5 431v-5M387.5 431v-5M398.5 431v-5M408.5 431v-9M419.5 431v-5"/>
<line x1="140.2" y1="430.8" x2="429.8" y2="430.8" stroke="#000" stroke-width="1.1"/>
<text class="t" x="158.4" y="441.3" text-anchor="middle">20</text>
<text class="t" x="200.1" y="441.3" text-anchor="middle">40</text>
<text class="t" x="241.9" y="441.3" text-anchor="middle">60</text>
<text class="t" x="283.6" y="441.3" text-anchor="middle">80</text>
<text class="t" x="325.4" y="441.3" text-anchor="middle">100</text>
<text class="t" x="367.1" y="441.3" text-anchor="middle">120</text>
<text class="t" x="408.8" y="441.3" text-anchor="middle">140</text>
<text class="s" x="285" y="451.6" font-size="11" font-style="italic" text-anchor="middle">l</text>
</g></svg></div></body></html>
